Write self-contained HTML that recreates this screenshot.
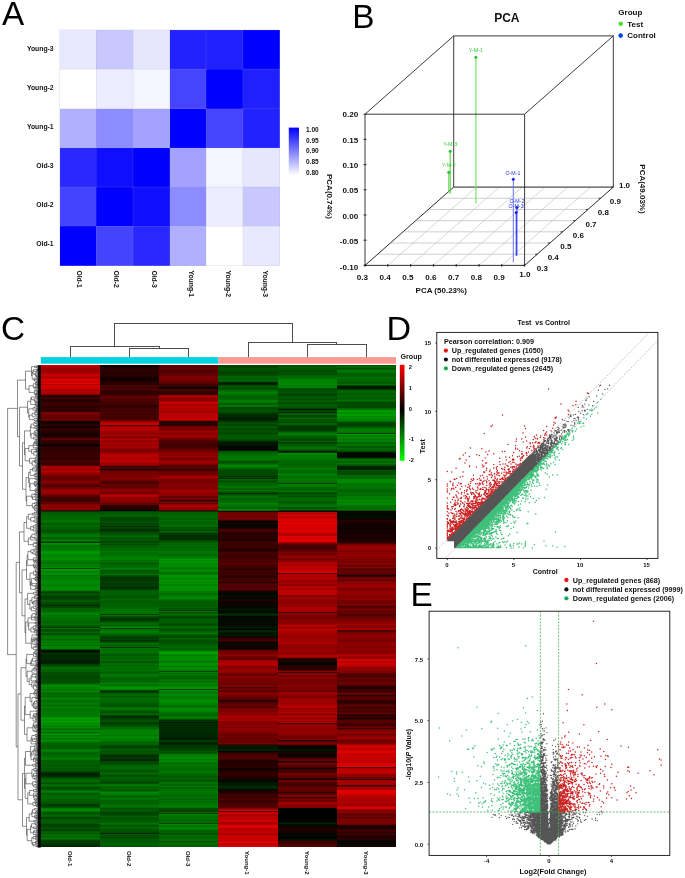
<!DOCTYPE html>
<html lang="en"><head><meta charset="utf-8"><title>Figure</title>
<style>html,body{margin:0;padding:0;background:#fff}body{width:685px;height:878px;overflow:hidden}</style>
</head><body>
<svg width="685" height="878" viewBox="0 0 685 878" font-family="'Liberation Sans', sans-serif" style="display:block">
<rect x="0.00" y="0.00" width="685.00" height="878.00" fill="#fff"/>
<g shape-rendering="crispEdges">
<rect x="59.80" y="29.90" width="36.90" height="39.60" fill="rgb(232,232,255)"/>
<rect x="96.40" y="29.90" width="36.90" height="39.60" fill="rgb(200,200,255)"/>
<rect x="133.00" y="29.90" width="36.90" height="39.60" fill="rgb(230,230,255)"/>
<rect x="169.60" y="29.90" width="36.90" height="39.60" fill="rgb(34,34,255)"/>
<rect x="206.20" y="29.90" width="36.90" height="39.60" fill="rgb(32,32,255)"/>
<rect x="242.80" y="29.90" width="36.90" height="39.60" fill="rgb(0,0,255)"/>
<rect x="59.80" y="69.20" width="36.90" height="39.60" fill="rgb(255,255,255)"/>
<rect x="96.40" y="69.20" width="36.90" height="39.60" fill="rgb(237,237,255)"/>
<rect x="133.00" y="69.20" width="36.90" height="39.60" fill="rgb(245,245,255)"/>
<rect x="169.60" y="69.20" width="36.90" height="39.60" fill="rgb(69,69,255)"/>
<rect x="206.20" y="69.20" width="36.90" height="39.60" fill="rgb(0,0,255)"/>
<rect x="242.80" y="69.20" width="36.90" height="39.60" fill="rgb(32,32,255)"/>
<rect x="59.80" y="108.50" width="36.90" height="39.60" fill="rgb(176,176,255)"/>
<rect x="96.40" y="108.50" width="36.90" height="39.60" fill="rgb(140,140,255)"/>
<rect x="133.00" y="108.50" width="36.90" height="39.60" fill="rgb(163,163,255)"/>
<rect x="169.60" y="108.50" width="36.90" height="39.60" fill="rgb(0,0,255)"/>
<rect x="206.20" y="108.50" width="36.90" height="39.60" fill="rgb(69,69,255)"/>
<rect x="242.80" y="108.50" width="36.90" height="39.60" fill="rgb(34,34,255)"/>
<rect x="59.80" y="147.80" width="36.90" height="39.60" fill="rgb(41,41,255)"/>
<rect x="96.40" y="147.80" width="36.90" height="39.60" fill="rgb(15,15,255)"/>
<rect x="133.00" y="147.80" width="36.90" height="39.60" fill="rgb(0,0,255)"/>
<rect x="169.60" y="147.80" width="36.90" height="39.60" fill="rgb(163,163,255)"/>
<rect x="206.20" y="147.80" width="36.90" height="39.60" fill="rgb(245,245,255)"/>
<rect x="242.80" y="147.80" width="36.90" height="39.60" fill="rgb(230,230,255)"/>
<rect x="59.80" y="187.10" width="36.90" height="39.60" fill="rgb(68,68,255)"/>
<rect x="96.40" y="187.10" width="36.90" height="39.60" fill="rgb(0,0,255)"/>
<rect x="133.00" y="187.10" width="36.90" height="39.60" fill="rgb(15,15,255)"/>
<rect x="169.60" y="187.10" width="36.90" height="39.60" fill="rgb(140,140,255)"/>
<rect x="206.20" y="187.10" width="36.90" height="39.60" fill="rgb(237,237,255)"/>
<rect x="242.80" y="187.10" width="36.90" height="39.60" fill="rgb(200,200,255)"/>
<rect x="59.80" y="226.40" width="36.90" height="39.60" fill="rgb(0,0,255)"/>
<rect x="96.40" y="226.40" width="36.90" height="39.60" fill="rgb(68,68,255)"/>
<rect x="133.00" y="226.40" width="36.90" height="39.60" fill="rgb(41,41,255)"/>
<rect x="169.60" y="226.40" width="36.90" height="39.60" fill="rgb(176,176,255)"/>
<rect x="206.20" y="226.40" width="36.90" height="39.60" fill="rgb(255,255,255)"/>
<rect x="242.80" y="226.40" width="36.90" height="39.60" fill="rgb(232,232,255)"/>
</g>
<line x1="96.40" y1="29.90" x2="96.40" y2="265.70" stroke="#9a9ab8" stroke-width="0.5" opacity="0.35"/>
<line x1="59.80" y1="69.20" x2="279.40" y2="69.20" stroke="#9a9ab8" stroke-width="0.5" opacity="0.35"/>
<line x1="133.00" y1="29.90" x2="133.00" y2="265.70" stroke="#9a9ab8" stroke-width="0.5" opacity="0.35"/>
<line x1="59.80" y1="108.50" x2="279.40" y2="108.50" stroke="#9a9ab8" stroke-width="0.5" opacity="0.35"/>
<line x1="169.60" y1="29.90" x2="169.60" y2="265.70" stroke="#9a9ab8" stroke-width="0.5" opacity="0.35"/>
<line x1="59.80" y1="147.80" x2="279.40" y2="147.80" stroke="#9a9ab8" stroke-width="0.5" opacity="0.35"/>
<line x1="206.20" y1="29.90" x2="206.20" y2="265.70" stroke="#9a9ab8" stroke-width="0.5" opacity="0.35"/>
<line x1="59.80" y1="187.10" x2="279.40" y2="187.10" stroke="#9a9ab8" stroke-width="0.5" opacity="0.35"/>
<line x1="242.80" y1="29.90" x2="242.80" y2="265.70" stroke="#9a9ab8" stroke-width="0.5" opacity="0.35"/>
<line x1="59.80" y1="226.40" x2="279.40" y2="226.40" stroke="#9a9ab8" stroke-width="0.5" opacity="0.35"/>
<rect x="59.8" y="29.9" width="219.60000000000002" height="235.79999999999998" fill="none" stroke="#b8b8cc" stroke-width="0.5" opacity="0.5"/>
<text x="53.60" y="50.70" font-size="6.8" font-weight="bold" text-anchor="end" fill="#111">Young-3</text>
<text x="53.60" y="89.84" font-size="6.8" font-weight="bold" text-anchor="end" fill="#111">Young-2</text>
<text x="53.60" y="128.98" font-size="6.8" font-weight="bold" text-anchor="end" fill="#111">Young-1</text>
<text x="53.60" y="168.12" font-size="6.8" font-weight="bold" text-anchor="end" fill="#111">Old-3</text>
<text x="53.60" y="207.26" font-size="6.8" font-weight="bold" text-anchor="end" fill="#111">Old-2</text>
<text x="53.60" y="246.40" font-size="6.8" font-weight="bold" text-anchor="end" fill="#111">Old-1</text>
<text x="76.90" y="270.40" font-size="6.8" font-weight="bold" text-anchor="start" fill="#111" transform="rotate(90 76.90 270.40)">Old-1</text>
<text x="114.20" y="270.40" font-size="6.8" font-weight="bold" text-anchor="start" fill="#111" transform="rotate(90 114.20 270.40)">Old-2</text>
<text x="151.50" y="270.40" font-size="6.8" font-weight="bold" text-anchor="start" fill="#111" transform="rotate(90 151.50 270.40)">Old-3</text>
<text x="188.80" y="270.40" font-size="6.8" font-weight="bold" text-anchor="start" fill="#111" transform="rotate(90 188.80 270.40)">Young-1</text>
<text x="226.10" y="270.40" font-size="6.8" font-weight="bold" text-anchor="start" fill="#111" transform="rotate(90 226.10 270.40)">Young-2</text>
<text x="263.40" y="270.40" font-size="6.8" font-weight="bold" text-anchor="start" fill="#111" transform="rotate(90 263.40 270.40)">Young-3</text>
<defs><linearGradient id="gA" x1="0" y1="0" x2="0" y2="1"><stop offset="0" stop-color="#0000ff"/><stop offset="1" stop-color="#ffffff"/></linearGradient></defs>
<rect x="288.80" y="127.60" width="10.20" height="47.80" fill="url(#gA)"/>
<text x="306.00" y="131.90" font-size="6.5" font-weight="bold" text-anchor="start" fill="#111">1.00</text>
<text x="306.00" y="142.60" font-size="6.5" font-weight="bold" text-anchor="start" fill="#111">0.95</text>
<text x="306.00" y="153.30" font-size="6.5" font-weight="bold" text-anchor="start" fill="#111">0.90</text>
<text x="306.00" y="164.00" font-size="6.5" font-weight="bold" text-anchor="start" fill="#111">0.85</text>
<text x="306.00" y="174.70" font-size="6.5" font-weight="bold" text-anchor="start" fill="#111">0.80</text>
<line x1="365.00" y1="265.40" x2="453.70" y2="187.10" stroke="#bcbcbc" stroke-width="0.6"/>
<line x1="387.80" y1="265.40" x2="476.50" y2="187.10" stroke="#bcbcbc" stroke-width="0.6"/>
<line x1="410.60" y1="265.40" x2="499.30" y2="187.10" stroke="#bcbcbc" stroke-width="0.6"/>
<line x1="433.40" y1="265.40" x2="522.10" y2="187.10" stroke="#bcbcbc" stroke-width="0.6"/>
<line x1="456.20" y1="265.40" x2="544.90" y2="187.10" stroke="#bcbcbc" stroke-width="0.6"/>
<line x1="479.00" y1="265.40" x2="567.70" y2="187.10" stroke="#bcbcbc" stroke-width="0.6"/>
<line x1="501.80" y1="265.40" x2="590.50" y2="187.10" stroke="#bcbcbc" stroke-width="0.6"/>
<line x1="524.60" y1="265.40" x2="613.30" y2="187.10" stroke="#bcbcbc" stroke-width="0.6"/>
<line x1="365.00" y1="265.40" x2="524.60" y2="265.40" stroke="#c4c4c4" stroke-width="0.8"/>
<line x1="377.67" y1="254.21" x2="537.27" y2="254.21" stroke="#c4c4c4" stroke-width="0.8"/>
<line x1="390.34" y1="243.03" x2="549.94" y2="243.03" stroke="#c4c4c4" stroke-width="0.8"/>
<line x1="403.01" y1="231.84" x2="562.61" y2="231.84" stroke="#c4c4c4" stroke-width="0.8"/>
<line x1="415.69" y1="220.66" x2="575.29" y2="220.66" stroke="#c4c4c4" stroke-width="0.8"/>
<line x1="428.36" y1="209.47" x2="587.96" y2="209.47" stroke="#c4c4c4" stroke-width="0.8"/>
<line x1="441.03" y1="198.29" x2="600.63" y2="198.29" stroke="#c4c4c4" stroke-width="0.8"/>
<line x1="453.70" y1="187.10" x2="613.30" y2="187.10" stroke="#c4c4c4" stroke-width="0.8"/>
<line x1="453.70" y1="35.90" x2="613.30" y2="35.90" stroke="#1a1a1a" stroke-width="0.85"/>
<line x1="453.70" y1="35.90" x2="453.70" y2="187.10" stroke="#1a1a1a" stroke-width="0.85"/>
<line x1="613.30" y1="35.90" x2="613.30" y2="187.10" stroke="#1a1a1a" stroke-width="0.85"/>
<line x1="453.70" y1="187.10" x2="613.30" y2="187.10" stroke="#1a1a1a" stroke-width="0.85"/>
<line x1="365.00" y1="114.20" x2="453.70" y2="35.90" stroke="#1a1a1a" stroke-width="0.85"/>
<line x1="524.60" y1="114.20" x2="613.30" y2="35.90" stroke="#1a1a1a" stroke-width="0.85"/>
<line x1="365.00" y1="265.40" x2="453.70" y2="187.10" stroke="#1a1a1a" stroke-width="0.85"/>
<line x1="524.60" y1="265.40" x2="613.30" y2="187.10" stroke="#1a1a1a" stroke-width="0.85"/>
<line x1="475.90" y1="57.30" x2="475.90" y2="203.30" stroke="#80e072" stroke-width="1.3"/>
<circle cx="475.90" cy="57.30" r="1.5" fill="#1fc82a"/>
<text x="475.90" y="52.30" font-size="5.3" font-weight="normal" text-anchor="middle" fill="#3acb3a">Y-M-1</text>
<line x1="450.20" y1="151.20" x2="450.20" y2="193.80" stroke="#44cc33" stroke-width="1.0"/>
<circle cx="450.20" cy="151.20" r="1.5" fill="#1fc82a"/>
<text x="450.20" y="146.20" font-size="5.3" font-weight="normal" text-anchor="middle" fill="#3acb3a">Y-M-3</text>
<line x1="448.80" y1="172.20" x2="448.80" y2="192.50" stroke="#55d044" stroke-width="1.0"/>
<circle cx="448.80" cy="172.20" r="1.5" fill="#1fc82a"/>
<text x="448.80" y="167.20" font-size="5.3" font-weight="normal" text-anchor="middle" fill="#3acb3a">Y-M-2</text>
<line x1="513.30" y1="179.30" x2="513.30" y2="262.40" stroke="#6a74f0" stroke-width="1.0"/>
<circle cx="513.30" cy="179.30" r="1.5" fill="#1a22ee"/>
<text x="512.90" y="174.70" font-size="5.3" font-weight="normal" text-anchor="middle" fill="#2a33ee">O-M-1</text>
<line x1="516.90" y1="207.40" x2="516.90" y2="255.80" stroke="#2a33ee" stroke-width="1.0"/>
<circle cx="516.90" cy="207.40" r="1.5" fill="#1a22ee"/>
<text x="516.90" y="202.50" font-size="5.3" font-weight="normal" text-anchor="middle" fill="#2a33ee">O-M-2</text>
<line x1="516.20" y1="212.40" x2="516.20" y2="255.80" stroke="#2a33ee" stroke-width="1.0"/>
<circle cx="516.20" cy="212.40" r="1.5" fill="#1a22ee"/>
<text x="516.10" y="207.80" font-size="5.3" font-weight="normal" text-anchor="middle" fill="#2a33ee">O-M-3</text>
<line x1="365.00" y1="114.20" x2="524.60" y2="114.20" stroke="#1a1a1a" stroke-width="0.85"/>
<line x1="365.00" y1="265.40" x2="524.60" y2="265.40" stroke="#1a1a1a" stroke-width="0.85"/>
<line x1="365.00" y1="114.20" x2="365.00" y2="265.40" stroke="#1a1a1a" stroke-width="0.85"/>
<line x1="524.60" y1="114.20" x2="524.60" y2="265.40" stroke="#1a1a1a" stroke-width="0.85"/>
<line x1="363.50" y1="114.20" x2="366.60" y2="114.20" stroke="#1a1a1a" stroke-width="0.85"/>
<text x="358.20" y="117.20" font-size="8.1" font-weight="bold" text-anchor="end" fill="#111">0.20</text>
<line x1="363.50" y1="139.40" x2="366.60" y2="139.40" stroke="#1a1a1a" stroke-width="0.85"/>
<text x="358.20" y="142.62" font-size="8.1" font-weight="bold" text-anchor="end" fill="#111">0.15</text>
<line x1="363.50" y1="164.60" x2="366.60" y2="164.60" stroke="#1a1a1a" stroke-width="0.85"/>
<text x="358.20" y="168.04" font-size="8.1" font-weight="bold" text-anchor="end" fill="#111">0.10</text>
<line x1="363.50" y1="189.80" x2="366.60" y2="189.80" stroke="#1a1a1a" stroke-width="0.85"/>
<text x="358.20" y="193.46" font-size="8.1" font-weight="bold" text-anchor="end" fill="#111">0.05</text>
<line x1="363.50" y1="215.00" x2="366.60" y2="215.00" stroke="#1a1a1a" stroke-width="0.85"/>
<text x="358.20" y="218.88" font-size="8.1" font-weight="bold" text-anchor="end" fill="#111">0.00</text>
<line x1="363.50" y1="240.20" x2="366.60" y2="240.20" stroke="#1a1a1a" stroke-width="0.85"/>
<text x="358.20" y="244.30" font-size="8.1" font-weight="bold" text-anchor="end" fill="#111">-0.05</text>
<line x1="363.50" y1="265.40" x2="366.60" y2="265.40" stroke="#1a1a1a" stroke-width="0.85"/>
<text x="358.20" y="269.72" font-size="8.1" font-weight="bold" text-anchor="end" fill="#111">-0.10</text>
<line x1="365.00" y1="264.00" x2="365.00" y2="266.80" stroke="#1a1a1a" stroke-width="0.85"/>
<text x="362.40" y="279.60" font-size="8.1" font-weight="bold" text-anchor="middle" fill="#111">0.3</text>
<line x1="387.80" y1="264.00" x2="387.80" y2="266.80" stroke="#1a1a1a" stroke-width="0.85"/>
<text x="385.20" y="279.60" font-size="8.1" font-weight="bold" text-anchor="middle" fill="#111">0.4</text>
<line x1="410.60" y1="264.00" x2="410.60" y2="266.80" stroke="#1a1a1a" stroke-width="0.85"/>
<text x="408.00" y="279.60" font-size="8.1" font-weight="bold" text-anchor="middle" fill="#111">0.5</text>
<line x1="433.40" y1="264.00" x2="433.40" y2="266.80" stroke="#1a1a1a" stroke-width="0.85"/>
<text x="430.80" y="279.60" font-size="8.1" font-weight="bold" text-anchor="middle" fill="#111">0.6</text>
<line x1="456.20" y1="264.00" x2="456.20" y2="266.80" stroke="#1a1a1a" stroke-width="0.85"/>
<text x="453.60" y="279.60" font-size="8.1" font-weight="bold" text-anchor="middle" fill="#111">0.7</text>
<line x1="479.00" y1="264.00" x2="479.00" y2="266.80" stroke="#1a1a1a" stroke-width="0.85"/>
<text x="476.40" y="279.60" font-size="8.1" font-weight="bold" text-anchor="middle" fill="#111">0.8</text>
<line x1="501.80" y1="264.00" x2="501.80" y2="266.80" stroke="#1a1a1a" stroke-width="0.85"/>
<text x="499.20" y="279.60" font-size="8.1" font-weight="bold" text-anchor="middle" fill="#111">0.9</text>
<line x1="524.60" y1="264.00" x2="524.60" y2="266.80" stroke="#1a1a1a" stroke-width="0.85"/>
<text x="524.80" y="277.40" font-size="8.1" font-weight="bold" text-anchor="middle" fill="#111">1.0</text>
<line x1="524.60" y1="265.40" x2="522.60" y2="265.40" stroke="#1a1a1a" stroke-width="0.85"/>
<text x="542.40" y="270.60" font-size="8" font-weight="bold" text-anchor="middle" fill="#111">0.3</text>
<line x1="537.27" y1="254.21" x2="535.27" y2="254.21" stroke="#1a1a1a" stroke-width="0.85"/>
<text x="553.20" y="260.40" font-size="8" font-weight="bold" text-anchor="middle" fill="#111">0.4</text>
<line x1="549.94" y1="243.03" x2="547.94" y2="243.03" stroke="#1a1a1a" stroke-width="0.85"/>
<text x="565.90" y="249.00" font-size="8" font-weight="bold" text-anchor="middle" fill="#111">0.5</text>
<line x1="562.61" y1="231.84" x2="560.61" y2="231.84" stroke="#1a1a1a" stroke-width="0.85"/>
<text x="578.30" y="237.70" font-size="8" font-weight="bold" text-anchor="middle" fill="#111">0.6</text>
<line x1="575.29" y1="220.66" x2="573.29" y2="220.66" stroke="#1a1a1a" stroke-width="0.85"/>
<text x="591.00" y="226.60" font-size="8" font-weight="bold" text-anchor="middle" fill="#111">0.7</text>
<line x1="587.96" y1="209.47" x2="585.96" y2="209.47" stroke="#1a1a1a" stroke-width="0.85"/>
<text x="603.40" y="215.30" font-size="8" font-weight="bold" text-anchor="middle" fill="#111">0.8</text>
<line x1="600.63" y1="198.29" x2="598.63" y2="198.29" stroke="#1a1a1a" stroke-width="0.85"/>
<text x="615.30" y="203.90" font-size="8" font-weight="bold" text-anchor="middle" fill="#111">0.9</text>
<line x1="613.30" y1="187.10" x2="611.30" y2="187.10" stroke="#1a1a1a" stroke-width="0.85"/>
<text x="624.50" y="188.00" font-size="8" font-weight="bold" text-anchor="middle" fill="#111">1.0</text>
<text x="441.20" y="292.50" font-size="8" font-weight="bold" text-anchor="middle" fill="#111">PCA (50.23%)</text>
<text x="327.30" y="174.00" font-size="8" font-weight="bold" text-anchor="start" fill="#111" transform="rotate(90 327.30 174.00)">PCA(0.74%)</text>
<text x="639.50" y="164.30" font-size="8" font-weight="bold" text-anchor="start" fill="#111" transform="rotate(90 639.50 164.30)">PCA(49.03%)</text>
<text x="506.80" y="22.30" font-size="12" font-weight="bold" text-anchor="middle" fill="#111">PCA</text>
<text x="618.30" y="15.40" font-size="8" font-weight="bold" text-anchor="start" fill="#111">Group</text>
<circle cx="620.7" cy="23.8" r="2.3" fill="#55dd33"/>
<text x="627.30" y="26.60" font-size="8" font-weight="bold" text-anchor="start" fill="#111">Test</text>
<circle cx="620.7" cy="35.6" r="2.3" fill="#0044ff"/>
<text x="627.30" y="38.40" font-size="8" font-weight="bold" text-anchor="start" fill="#111">Control</text>
<g shape-rendering="crispEdges" transform="translate(40.8,365.4) scale(59.2,1)">
<rect x="0" y="0" width="6" height="482" fill="#200000"/>
<path fill="#000000" d="M3 84h1v1h-1zM4 443h1v11h-1zM4 456h1v1h-1zM4 472h1v1h-1z"/>
<path fill="#000800" d="M0 286h1v1h-1zM3 81h1v3h-1zM3 156h1v1h-1zM3 160h1v2h-1zM3 227h1v3h-1zM3 233h1v1h-1zM3 241h1v2h-1zM3 246h1v2h-1zM3 251h1v1h-1zM3 253h1v1h-1zM3 255h1v1h-1zM3 257h1v1h-1zM3 259h1v1h-1zM3 264h1v1h-1zM3 278h1v1h-1zM3 386h1v1h-1zM3 416h1v1h-1zM4 297h1v3h-1zM4 382h1v1h-1zM4 390h1v1h-1zM4 454h1v2h-1zM4 468h1v4h-1zM4 473h1v1h-1zM5 88h1v4h-1zM5 148h1v4h-1zM5 153h1v1h-1zM5 477h1v2h-1z"/>
<path fill="#001000" d="M3 80h1v1h-1zM3 243h1v1h-1zM3 245h1v1h-1zM3 254h1v1h-1zM3 258h1v1h-1zM3 261h1v1h-1zM3 263h1v1h-1zM3 268h1v1h-1zM3 279h1v1h-1zM3 424h1v1h-1zM4 384h1v1h-1zM4 459h1v1h-1zM4 474h1v1h-1zM5 152h1v1h-1z"/>
<path fill="#001800" d="M0 285h1v1h-1zM2 357h1v1h-1zM2 373h1v1h-1zM3 18h1v1h-1zM3 53h1v1h-1zM3 77h1v3h-1zM3 244h1v1h-1zM3 267h1v1h-1zM3 269h1v2h-1zM3 380h1v4h-1zM3 417h1v3h-1zM4 44h1v1h-1zM4 385h1v1h-1zM4 457h1v1h-1zM5 21h1v2h-1zM5 87h1v1h-1zM5 92h1v1h-1z"/>
<path fill="#002000" d="M0 287h1v1h-1zM0 295h1v4h-1zM0 408h1v2h-1zM2 372h1v1h-1zM2 374h1v1h-1zM2 378h1v1h-1zM3 54h1v1h-1zM3 85h1v1h-1zM3 248h1v1h-1zM3 250h1v1h-1zM3 262h1v1h-1zM3 265h1v1h-1zM3 384h1v2h-1zM3 420h1v1h-1zM3 423h1v1h-1zM4 86h1v1h-1zM4 458h1v1h-1zM5 23h1v1h-1zM5 102h1v2h-1z"/>
<path fill="#002800" d="M0 289h1v6h-1zM0 410h1v1h-1zM0 481h1v1h-1zM1 161h1v1h-1zM1 165h1v1h-1zM1 394h1v2h-1zM1 468h1v1h-1zM2 168h1v1h-1zM2 359h1v4h-1zM2 364h1v1h-1zM2 366h1v6h-1zM2 377h1v1h-1zM2 379h1v1h-1zM3 19h1v1h-1zM3 50h1v3h-1zM3 55h1v1h-1zM3 76h1v1h-1zM3 113h1v1h-1zM3 128h1v1h-1zM3 266h1v1h-1zM3 421h1v2h-1zM4 47h1v1h-1zM5 101h1v1h-1zM5 104h1v1h-1z"/>
<path fill="#003000" d="M0 177h1v1h-1zM0 240h1v1h-1zM0 288h1v1h-1zM0 411h1v1h-1zM0 479h1v2h-1zM1 164h1v1h-1zM1 222h1v2h-1zM1 254h1v1h-1zM1 275h1v1h-1zM1 326h1v1h-1zM1 351h1v2h-1zM1 390h1v2h-1zM2 170h1v5h-1zM2 355h1v2h-1zM2 358h1v1h-1zM2 363h1v1h-1zM2 365h1v1h-1zM3 17h1v1h-1zM3 49h1v1h-1zM3 249h1v1h-1z"/>
<path fill="#003800" d="M0 146h1v1h-1zM0 239h1v1h-1zM0 262h1v1h-1zM0 407h1v1h-1zM0 440h1v1h-1zM0 476h1v1h-1zM0 478h1v1h-1zM1 212h1v4h-1zM1 218h1v2h-1zM1 221h1v1h-1zM1 249h1v1h-1zM1 253h1v1h-1zM1 272h1v1h-1zM1 282h1v1h-1zM1 358h1v1h-1zM1 392h1v2h-1zM2 146h1v1h-1zM2 245h1v1h-1zM2 375h1v2h-1zM2 380h1v3h-1zM2 448h1v1h-1zM3 48h1v1h-1zM3 56h1v1h-1zM3 111h1v1h-1zM4 57h1v1h-1zM4 61h1v4h-1zM4 87h1v1h-1zM4 118h1v1h-1zM4 145h1v1h-1zM5 24h1v1h-1z"/>
<path fill="#004000" d="M0 227h1v1h-1zM0 231h1v3h-1zM0 241h1v1h-1zM0 299h1v1h-1zM0 412h1v1h-1zM0 439h1v1h-1zM0 453h1v1h-1zM0 459h1v2h-1zM0 464h1v2h-1zM0 475h1v1h-1zM0 477h1v1h-1zM1 146h1v1h-1zM1 153h1v1h-1zM1 159h1v1h-1zM1 163h1v1h-1zM1 166h1v1h-1zM1 176h1v1h-1zM1 216h1v2h-1zM1 220h1v1h-1zM1 224h1v1h-1zM1 255h1v1h-1zM1 263h1v1h-1zM1 273h1v2h-1zM1 276h1v1h-1zM1 327h1v1h-1zM1 350h1v1h-1zM1 353h1v2h-1zM1 357h1v1h-1zM1 381h1v2h-1zM1 389h1v1h-1zM1 396h1v1h-1zM1 417h1v1h-1zM1 448h1v1h-1zM2 169h1v1h-1zM2 175h1v1h-1zM2 306h1v1h-1zM2 324h1v1h-1zM2 383h1v2h-1zM2 445h1v1h-1zM2 458h1v1h-1zM3 1h1v1h-1zM3 8h1v1h-1zM3 47h1v1h-1zM3 60h1v1h-1zM3 75h1v1h-1zM4 43h1v1h-1zM4 45h1v1h-1zM4 65h1v1h-1zM4 77h1v2h-1zM4 85h1v1h-1zM5 58h1v3h-1zM5 68h1v1h-1z"/>
<path fill="#004800" d="M0 203h1v1h-1zM0 230h1v1h-1zM0 234h1v1h-1zM0 237h1v1h-1zM0 242h1v1h-1zM0 265h1v1h-1zM0 284h1v1h-1zM0 300h1v1h-1zM0 310h1v4h-1zM0 316h1v1h-1zM0 406h1v1h-1zM0 423h1v1h-1zM0 441h1v1h-1zM0 452h1v1h-1zM0 461h1v1h-1zM1 152h1v1h-1zM1 154h1v2h-1zM1 158h1v1h-1zM1 162h1v1h-1zM1 167h1v1h-1zM1 177h1v1h-1zM1 179h1v1h-1zM1 211h1v1h-1zM1 252h1v1h-1zM1 256h1v1h-1zM1 271h1v1h-1zM1 325h1v1h-1zM1 359h1v1h-1zM1 398h1v1h-1zM1 447h1v1h-1zM1 449h1v1h-1zM1 467h1v1h-1zM1 472h1v1h-1zM2 165h1v1h-1zM2 251h1v2h-1zM2 259h1v1h-1zM2 271h1v1h-1zM2 354h1v1h-1zM2 385h1v1h-1zM2 444h1v1h-1zM2 446h1v1h-1zM3 0h1v1h-1zM3 2h1v1h-1zM3 6h1v2h-1zM3 9h1v1h-1zM3 20h1v1h-1zM3 23h1v1h-1zM3 42h1v2h-1zM3 57h1v1h-1zM3 59h1v1h-1zM3 63h1v2h-1zM3 68h1v1h-1zM3 106h1v5h-1zM3 112h1v1h-1zM3 116h1v1h-1zM4 6h1v1h-1zM4 24h1v1h-1zM4 28h1v3h-1zM4 38h1v1h-1zM4 46h1v1h-1zM4 50h1v2h-1zM4 60h1v1h-1zM4 74h1v1h-1zM4 128h1v1h-1zM5 20h1v1h-1zM5 37h1v2h-1zM5 40h1v3h-1zM5 86h1v1h-1zM5 93h1v1h-1zM5 100h1v1h-1zM5 106h1v1h-1zM5 108h1v1h-1z"/>
<path fill="#005000" d="M0 165h1v2h-1zM0 226h1v1h-1zM0 228h1v1h-1zM0 238h1v1h-1zM0 264h1v1h-1zM0 268h1v2h-1zM0 307h1v3h-1zM0 314h1v2h-1zM0 317h1v1h-1zM0 418h1v1h-1zM0 422h1v1h-1zM0 438h1v1h-1zM0 442h1v1h-1zM0 448h1v1h-1zM0 462h1v2h-1zM1 156h1v2h-1zM1 160h1v1h-1zM1 168h1v1h-1zM1 173h1v1h-1zM1 210h1v1h-1zM1 232h1v1h-1zM1 251h1v1h-1zM1 277h1v1h-1zM1 296h1v1h-1zM1 340h1v1h-1zM1 347h1v1h-1zM1 355h1v2h-1zM1 360h1v1h-1zM1 380h1v1h-1zM1 383h1v1h-1zM1 386h1v1h-1zM1 388h1v1h-1zM1 397h1v1h-1zM1 399h1v1h-1zM1 406h1v1h-1zM1 410h1v2h-1zM1 416h1v1h-1zM1 418h1v1h-1zM1 425h1v1h-1zM1 443h1v1h-1zM1 446h1v1h-1zM1 450h1v1h-1zM1 453h1v1h-1zM1 460h1v1h-1zM1 466h1v1h-1zM1 470h1v2h-1zM1 473h1v1h-1zM2 162h1v1h-1zM2 164h1v1h-1zM2 243h1v1h-1zM2 247h1v1h-1zM2 253h1v1h-1zM2 258h1v1h-1zM2 264h1v1h-1zM2 272h1v1h-1zM2 275h1v3h-1zM2 387h1v1h-1zM2 415h1v1h-1zM2 443h1v1h-1zM2 468h1v2h-1zM3 3h1v3h-1zM3 10h1v1h-1zM3 16h1v1h-1zM3 22h1v1h-1zM3 44h1v2h-1zM3 58h1v1h-1zM3 65h1v3h-1zM3 69h1v1h-1zM3 74h1v1h-1zM3 86h1v1h-1zM3 96h1v2h-1zM3 104h1v2h-1zM3 127h1v1h-1zM3 129h1v1h-1zM4 0h1v1h-1zM4 4h1v2h-1zM4 7h1v3h-1zM4 25h1v2h-1zM4 31h1v1h-1zM4 33h1v2h-1zM4 37h1v1h-1zM4 42h1v1h-1zM4 55h1v1h-1zM4 66h1v1h-1zM4 73h1v1h-1zM4 75h1v1h-1zM4 131h1v1h-1zM4 143h1v1h-1zM5 3h1v1h-1zM5 39h1v1h-1zM5 57h1v1h-1zM5 61h1v1h-1zM5 105h1v1h-1zM5 107h1v1h-1zM5 109h1v1h-1zM5 145h1v1h-1z"/>
<path fill="#005800" d="M0 147h1v2h-1zM0 159h1v1h-1zM0 164h1v1h-1zM0 167h1v1h-1zM0 229h1v1h-1zM0 235h1v2h-1zM0 260h1v2h-1zM0 266h1v1h-1zM0 301h1v1h-1zM0 381h1v1h-1zM0 396h1v1h-1zM0 399h1v3h-1zM0 403h1v3h-1zM0 413h1v1h-1zM0 417h1v1h-1zM0 424h1v1h-1zM0 429h1v1h-1zM0 436h1v2h-1zM0 447h1v1h-1zM0 454h1v1h-1zM0 456h1v1h-1zM0 458h1v1h-1zM0 466h1v1h-1zM0 468h1v1h-1zM1 147h1v2h-1zM1 169h1v1h-1zM1 172h1v1h-1zM1 174h1v2h-1zM1 178h1v1h-1zM1 198h1v1h-1zM1 205h1v3h-1zM1 225h1v1h-1zM1 230h1v2h-1zM1 236h1v1h-1zM1 270h1v1h-1zM1 289h1v2h-1zM1 297h1v1h-1zM1 307h1v1h-1zM1 331h1v1h-1zM1 339h1v1h-1zM1 341h1v1h-1zM1 346h1v1h-1zM1 361h1v1h-1zM1 385h1v1h-1zM1 387h1v1h-1zM1 405h1v1h-1zM1 414h1v2h-1zM1 424h1v1h-1zM1 444h1v2h-1zM1 452h1v1h-1zM1 454h1v3h-1zM1 461h1v1h-1zM1 464h1v2h-1zM1 469h1v1h-1zM1 474h1v3h-1zM1 480h1v2h-1zM2 163h1v1h-1zM2 167h1v1h-1zM2 176h1v2h-1zM2 236h1v1h-1zM2 238h1v1h-1zM2 240h1v1h-1zM2 244h1v1h-1zM2 248h1v1h-1zM2 255h1v1h-1zM2 260h1v1h-1zM2 265h1v1h-1zM2 270h1v1h-1zM2 274h1v1h-1zM2 278h1v2h-1zM2 386h1v1h-1zM2 388h1v1h-1zM2 411h1v1h-1zM2 414h1v1h-1zM2 416h1v1h-1zM2 476h1v1h-1zM3 13h1v1h-1zM3 24h1v1h-1zM3 31h1v1h-1zM3 46h1v1h-1zM3 61h1v2h-1zM3 70h1v4h-1zM3 115h1v1h-1zM4 1h1v1h-1zM4 3h1v1h-1zM4 23h1v1h-1zM4 27h1v1h-1zM4 35h1v1h-1zM4 40h1v1h-1zM4 49h1v1h-1zM4 52h1v1h-1zM4 54h1v1h-1zM4 71h1v1h-1zM4 76h1v1h-1zM4 80h1v1h-1zM4 124h1v1h-1zM4 127h1v1h-1zM4 129h1v2h-1zM4 136h1v2h-1zM4 142h1v1h-1zM5 0h1v1h-1zM5 9h1v1h-1zM5 17h1v1h-1zM5 28h1v2h-1zM5 33h1v1h-1zM5 81h1v2h-1zM5 85h1v1h-1z"/>
<path fill="#006000" d="M0 150h1v1h-1zM0 158h1v1h-1zM0 162h1v2h-1zM0 172h1v2h-1zM0 176h1v1h-1zM0 243h1v1h-1zM0 245h1v1h-1zM0 256h1v1h-1zM0 304h1v3h-1zM0 318h1v1h-1zM0 378h1v3h-1zM0 382h1v2h-1zM0 388h1v1h-1zM0 395h1v1h-1zM0 397h1v2h-1zM0 402h1v1h-1zM0 414h1v1h-1zM0 421h1v1h-1zM0 428h1v1h-1zM0 434h1v2h-1zM0 449h1v1h-1zM0 451h1v1h-1zM0 455h1v1h-1zM0 457h1v1h-1zM0 467h1v1h-1zM0 471h1v1h-1zM0 474h1v1h-1zM1 149h1v3h-1zM1 170h1v1h-1zM1 180h1v3h-1zM1 199h1v1h-1zM1 201h1v1h-1zM1 208h1v1h-1zM1 226h1v4h-1zM1 233h1v1h-1zM1 235h1v1h-1zM1 237h1v5h-1zM1 257h1v1h-1zM1 260h1v1h-1zM1 269h1v1h-1zM1 280h1v1h-1zM1 292h1v2h-1zM1 313h1v2h-1zM1 316h1v1h-1zM1 328h1v1h-1zM1 332h1v1h-1zM1 337h1v2h-1zM1 345h1v1h-1zM1 348h1v1h-1zM1 377h1v1h-1zM1 379h1v1h-1zM1 384h1v1h-1zM1 401h1v1h-1zM1 404h1v1h-1zM1 409h1v1h-1zM1 412h1v2h-1zM1 422h1v1h-1zM1 431h1v1h-1zM1 435h1v4h-1zM1 451h1v1h-1zM1 463h1v1h-1zM1 477h1v3h-1zM2 147h1v3h-1zM2 153h1v2h-1zM2 157h1v1h-1zM2 159h1v1h-1zM2 166h1v1h-1zM2 179h1v1h-1zM2 182h1v1h-1zM2 237h1v1h-1zM2 239h1v1h-1zM2 241h1v2h-1zM2 250h1v1h-1zM2 254h1v1h-1zM2 256h1v2h-1zM2 261h1v1h-1zM2 263h1v1h-1zM2 266h1v1h-1zM2 269h1v1h-1zM2 280h1v1h-1zM2 283h1v2h-1zM2 312h1v2h-1zM2 410h1v1h-1zM2 412h1v1h-1zM2 423h1v1h-1zM2 434h1v1h-1zM2 455h1v1h-1zM2 465h1v3h-1zM2 472h1v1h-1zM2 477h1v1h-1zM2 480h1v2h-1zM3 11h1v1h-1zM3 14h1v1h-1zM3 21h1v1h-1zM3 33h1v1h-1zM3 38h1v2h-1zM3 87h1v1h-1zM3 98h1v1h-1zM3 117h1v3h-1zM3 123h1v2h-1zM3 126h1v1h-1zM3 130h1v1h-1zM3 133h1v2h-1zM3 142h1v1h-1zM4 2h1v1h-1zM4 10h1v1h-1zM4 32h1v1h-1zM4 36h1v1h-1zM4 39h1v1h-1zM4 41h1v1h-1zM4 48h1v1h-1zM4 56h1v1h-1zM4 59h1v1h-1zM4 72h1v1h-1zM4 79h1v1h-1zM4 84h1v1h-1zM4 96h1v1h-1zM4 99h1v1h-1zM4 132h1v1h-1zM4 138h1v1h-1zM5 4h1v1h-1zM5 8h1v1h-1zM5 10h1v2h-1zM5 14h1v1h-1zM5 18h1v1h-1zM5 25h1v1h-1zM5 31h1v2h-1zM5 36h1v1h-1zM5 62h1v1h-1zM5 78h1v1h-1zM5 96h1v2h-1zM5 112h1v1h-1zM5 125h1v2h-1z"/>
<path fill="#006800" d="M0 149h1v1h-1zM0 151h1v4h-1zM0 157h1v1h-1zM0 160h1v2h-1zM0 168h1v1h-1zM0 244h1v1h-1zM0 246h1v1h-1zM0 253h1v1h-1zM0 255h1v1h-1zM0 257h1v2h-1zM0 267h1v1h-1zM0 270h1v1h-1zM0 274h1v1h-1zM0 302h1v1h-1zM0 328h1v2h-1zM0 331h1v1h-1zM0 336h1v1h-1zM0 340h1v1h-1zM0 364h1v1h-1zM0 367h1v1h-1zM0 387h1v1h-1zM0 389h1v3h-1zM0 415h1v1h-1zM0 419h1v1h-1zM0 425h1v1h-1zM0 430h1v4h-1zM0 450h1v1h-1zM0 469h1v1h-1zM0 472h1v1h-1zM1 171h1v1h-1zM1 183h1v3h-1zM1 188h1v1h-1zM1 195h1v1h-1zM1 197h1v1h-1zM1 234h1v1h-1zM1 242h1v2h-1zM1 258h1v2h-1zM1 279h1v1h-1zM1 281h1v1h-1zM1 284h1v1h-1zM1 288h1v1h-1zM1 291h1v1h-1zM1 294h1v1h-1zM1 298h1v1h-1zM1 300h1v2h-1zM1 306h1v1h-1zM1 308h1v1h-1zM1 312h1v1h-1zM1 315h1v1h-1zM1 329h1v2h-1zM1 334h1v3h-1zM1 349h1v1h-1zM1 362h1v2h-1zM1 378h1v1h-1zM1 400h1v1h-1zM1 402h1v2h-1zM1 407h1v2h-1zM1 421h1v1h-1zM1 423h1v1h-1zM1 432h1v1h-1zM1 439h1v1h-1zM1 442h1v1h-1zM1 457h1v1h-1zM1 459h1v1h-1zM1 462h1v1h-1zM2 150h1v3h-1zM2 155h1v2h-1zM2 158h1v1h-1zM2 161h1v1h-1zM2 178h1v1h-1zM2 180h1v2h-1zM2 184h1v2h-1zM2 189h1v2h-1zM2 208h1v1h-1zM2 228h1v1h-1zM2 235h1v1h-1zM2 267h1v1h-1zM2 273h1v1h-1zM2 281h1v2h-1zM2 285h1v1h-1zM2 308h1v1h-1zM2 311h1v1h-1zM2 341h1v1h-1zM2 348h1v3h-1zM2 398h1v1h-1zM2 401h1v1h-1zM2 403h1v2h-1zM2 408h1v2h-1zM2 413h1v1h-1zM2 419h1v2h-1zM2 422h1v1h-1zM2 430h1v2h-1zM2 433h1v1h-1zM2 437h1v1h-1zM2 447h1v1h-1zM2 454h1v1h-1zM2 456h1v1h-1zM2 470h1v2h-1zM2 473h1v1h-1zM2 475h1v1h-1zM2 478h1v2h-1zM3 12h1v1h-1zM3 15h1v1h-1zM3 25h1v1h-1zM3 30h1v1h-1zM3 32h1v1h-1zM3 34h1v1h-1zM3 88h1v2h-1zM3 95h1v1h-1zM3 103h1v1h-1zM3 114h1v1h-1zM3 120h1v1h-1zM3 135h1v2h-1zM3 143h1v1h-1zM3 145h1v1h-1zM4 11h1v2h-1zM4 53h1v1h-1zM4 58h1v1h-1zM4 67h1v1h-1zM4 70h1v1h-1zM4 81h1v1h-1zM4 97h1v2h-1zM4 100h1v2h-1zM4 106h1v2h-1zM4 122h1v2h-1zM4 125h1v1h-1zM4 133h1v3h-1zM4 139h1v1h-1zM4 144h1v1h-1zM5 1h1v2h-1zM5 15h1v2h-1zM5 26h1v2h-1zM5 30h1v1h-1zM5 34h1v1h-1zM5 43h1v1h-1zM5 56h1v1h-1zM5 77h1v1h-1zM5 83h1v2h-1zM5 99h1v1h-1zM5 110h1v1h-1zM5 124h1v1h-1zM5 128h1v1h-1zM5 130h1v1h-1zM5 141h1v1h-1zM5 143h1v1h-1z"/>
<path fill="#007000" d="M0 155h1v1h-1zM0 169h1v1h-1zM0 174h1v1h-1zM0 180h1v2h-1zM0 197h1v2h-1zM0 250h1v1h-1zM0 252h1v1h-1zM0 254h1v1h-1zM0 259h1v1h-1zM0 263h1v1h-1zM0 271h1v1h-1zM0 273h1v1h-1zM0 275h1v1h-1zM0 277h1v1h-1zM0 280h1v1h-1zM0 303h1v1h-1zM0 319h1v1h-1zM0 327h1v1h-1zM0 330h1v1h-1zM0 332h1v1h-1zM0 335h1v1h-1zM0 344h1v2h-1zM0 363h1v1h-1zM0 373h1v1h-1zM0 377h1v1h-1zM0 384h1v1h-1zM0 416h1v1h-1zM0 420h1v1h-1zM0 427h1v1h-1zM0 446h1v1h-1zM0 470h1v1h-1zM1 187h1v1h-1zM1 189h1v2h-1zM1 196h1v1h-1zM1 200h1v1h-1zM1 202h1v1h-1zM1 204h1v1h-1zM1 209h1v1h-1zM1 244h1v2h-1zM1 248h1v1h-1zM1 250h1v1h-1zM1 261h1v1h-1zM1 264h1v2h-1zM1 268h1v1h-1zM1 278h1v1h-1zM1 285h1v3h-1zM1 295h1v1h-1zM1 299h1v1h-1zM1 302h1v4h-1zM1 311h1v1h-1zM1 317h1v1h-1zM1 320h1v1h-1zM1 333h1v1h-1zM1 342h1v1h-1zM1 344h1v1h-1zM1 376h1v1h-1zM1 419h1v1h-1zM1 426h1v1h-1zM1 430h1v1h-1zM1 434h1v1h-1zM1 441h1v1h-1zM1 458h1v1h-1zM2 160h1v1h-1zM2 183h1v1h-1zM2 187h1v1h-1zM2 192h1v1h-1zM2 207h1v1h-1zM2 229h1v1h-1zM2 249h1v1h-1zM2 262h1v1h-1zM2 310h1v1h-1zM2 314h1v1h-1zM2 316h1v2h-1zM2 327h1v1h-1zM2 340h1v1h-1zM2 347h1v1h-1zM2 351h1v1h-1zM2 399h1v1h-1zM2 402h1v1h-1zM2 405h1v1h-1zM2 417h1v2h-1zM2 424h1v2h-1zM2 428h1v2h-1zM2 435h1v2h-1zM2 442h1v1h-1zM2 451h1v2h-1zM2 457h1v1h-1zM2 460h1v1h-1zM2 474h1v1h-1zM3 26h1v1h-1zM3 29h1v1h-1zM3 37h1v1h-1zM3 40h1v1h-1zM3 90h1v1h-1zM3 99h1v1h-1zM3 102h1v1h-1zM3 121h1v1h-1zM3 125h1v1h-1zM3 131h1v2h-1zM3 137h1v1h-1zM3 140h1v2h-1zM4 13h1v1h-1zM4 82h1v2h-1zM4 94h1v2h-1zM4 102h1v1h-1zM4 104h1v2h-1zM4 108h1v1h-1zM4 111h1v2h-1zM4 115h1v3h-1zM4 126h1v1h-1zM4 140h1v2h-1zM5 7h1v1h-1zM5 12h1v2h-1zM5 19h1v1h-1zM5 35h1v1h-1zM5 63h1v1h-1zM5 67h1v1h-1zM5 80h1v1h-1zM5 94h1v1h-1zM5 111h1v1h-1zM5 113h1v1h-1zM5 119h1v2h-1zM5 123h1v1h-1zM5 127h1v1h-1zM5 129h1v1h-1zM5 142h1v1h-1zM5 144h1v1h-1z"/>
<path fill="#007800" d="M0 156h1v1h-1zM0 170h1v2h-1zM0 175h1v1h-1zM0 182h1v3h-1zM0 196h1v1h-1zM0 201h1v1h-1zM0 210h1v1h-1zM0 212h1v1h-1zM0 214h1v1h-1zM0 225h1v1h-1zM0 247h1v1h-1zM0 251h1v1h-1zM0 272h1v1h-1zM0 279h1v1h-1zM0 324h1v2h-1zM0 334h1v1h-1zM0 337h1v3h-1zM0 341h1v1h-1zM0 343h1v1h-1zM0 346h1v5h-1zM0 370h1v1h-1zM0 386h1v1h-1zM0 392h1v3h-1zM0 443h1v1h-1zM0 473h1v1h-1zM1 186h1v1h-1zM1 191h1v1h-1zM1 246h1v2h-1zM1 267h1v1h-1zM1 283h1v1h-1zM1 309h1v2h-1zM1 319h1v1h-1zM1 343h1v1h-1zM1 364h1v1h-1zM1 370h1v1h-1zM1 374h1v2h-1zM1 420h1v1h-1zM1 429h1v1h-1zM1 433h1v1h-1zM1 440h1v1h-1zM2 186h1v1h-1zM2 188h1v1h-1zM2 191h1v1h-1zM2 203h1v1h-1zM2 209h1v1h-1zM2 226h1v2h-1zM2 230h1v1h-1zM2 234h1v1h-1zM2 246h1v1h-1zM2 268h1v1h-1zM2 296h1v1h-1zM2 305h1v1h-1zM2 309h1v1h-1zM2 315h1v1h-1zM2 319h1v2h-1zM2 328h1v1h-1zM2 332h1v1h-1zM2 352h1v2h-1zM2 394h1v1h-1zM2 397h1v1h-1zM2 406h1v2h-1zM2 421h1v1h-1zM2 426h1v2h-1zM2 432h1v1h-1zM2 438h1v3h-1zM2 450h1v1h-1zM2 453h1v1h-1zM2 461h1v1h-1zM2 464h1v1h-1zM3 28h1v1h-1zM3 35h1v1h-1zM3 41h1v1h-1zM3 91h1v4h-1zM3 122h1v1h-1zM3 139h1v1h-1zM4 20h1v1h-1zM4 68h1v1h-1zM4 90h1v4h-1zM4 110h1v1h-1zM4 113h1v2h-1zM4 120h1v2h-1zM5 5h1v2h-1zM5 44h1v1h-1zM5 66h1v1h-1zM5 71h1v1h-1zM5 74h1v1h-1zM5 79h1v1h-1zM5 95h1v1h-1zM5 98h1v1h-1zM5 118h1v1h-1zM5 121h1v2h-1zM5 131h1v1h-1zM5 133h1v2h-1zM5 140h1v1h-1z"/>
<path fill="#008000" d="M0 185h1v1h-1zM0 190h1v1h-1zM0 195h1v1h-1zM0 199h1v2h-1zM0 206h1v1h-1zM0 211h1v1h-1zM0 213h1v1h-1zM0 219h1v2h-1zM0 248h1v1h-1zM0 276h1v1h-1zM0 278h1v1h-1zM0 281h1v1h-1zM0 283h1v1h-1zM0 322h1v2h-1zM0 342h1v1h-1zM0 351h1v1h-1zM0 360h1v2h-1zM0 366h1v1h-1zM0 368h1v1h-1zM0 371h1v1h-1zM0 374h1v1h-1zM0 376h1v1h-1zM0 385h1v1h-1zM0 426h1v1h-1zM1 192h1v3h-1zM1 203h1v1h-1zM1 266h1v1h-1zM1 318h1v1h-1zM1 321h1v1h-1zM1 324h1v1h-1zM1 365h1v1h-1zM1 367h1v3h-1zM1 371h1v1h-1zM1 373h1v1h-1zM1 428h1v1h-1zM2 202h1v1h-1zM2 204h1v1h-1zM2 213h1v1h-1zM2 219h1v2h-1zM2 231h1v1h-1zM2 233h1v1h-1zM2 290h1v1h-1zM2 297h1v1h-1zM2 301h1v1h-1zM2 304h1v1h-1zM2 307h1v1h-1zM2 326h1v1h-1zM2 331h1v1h-1zM2 333h1v2h-1zM2 338h1v2h-1zM2 342h1v1h-1zM2 346h1v1h-1zM2 389h1v3h-1zM2 395h1v1h-1zM2 400h1v1h-1zM2 441h1v1h-1zM2 449h1v1h-1zM2 462h1v1h-1zM3 27h1v1h-1zM3 36h1v1h-1zM3 101h1v1h-1zM3 138h1v1h-1zM4 14h1v2h-1zM4 17h1v1h-1zM4 21h1v2h-1zM4 69h1v1h-1zM4 89h1v1h-1zM4 103h1v1h-1zM4 109h1v1h-1zM4 119h1v1h-1zM5 54h1v2h-1zM5 64h1v2h-1zM5 70h1v1h-1zM5 73h1v1h-1zM5 75h1v2h-1zM5 132h1v1h-1zM5 136h1v2h-1z"/>
<path fill="#008800" d="M0 179h1v1h-1zM0 189h1v1h-1zM0 191h1v2h-1zM0 202h1v1h-1zM0 207h1v1h-1zM0 209h1v1h-1zM0 215h1v4h-1zM0 221h1v3h-1zM0 249h1v1h-1zM0 282h1v1h-1zM0 321h1v1h-1zM0 326h1v1h-1zM0 333h1v1h-1zM0 358h1v1h-1zM0 362h1v1h-1zM0 365h1v1h-1zM0 372h1v1h-1zM0 375h1v1h-1zM0 444h1v2h-1zM1 262h1v1h-1zM1 366h1v1h-1zM1 427h1v1h-1zM2 193h1v1h-1zM2 195h1v1h-1zM2 198h1v2h-1zM2 201h1v1h-1zM2 205h1v2h-1zM2 214h1v1h-1zM2 217h1v1h-1zM2 223h1v1h-1zM2 225h1v1h-1zM2 232h1v1h-1zM2 292h1v1h-1zM2 295h1v1h-1zM2 300h1v1h-1zM2 302h1v1h-1zM2 318h1v1h-1zM2 321h1v1h-1zM2 325h1v1h-1zM2 329h1v2h-1zM2 336h1v2h-1zM2 343h1v3h-1zM2 392h1v2h-1zM2 396h1v1h-1zM2 459h1v1h-1zM2 463h1v1h-1zM3 100h1v1h-1zM3 144h1v1h-1zM4 16h1v1h-1zM4 18h1v2h-1zM4 88h1v1h-1zM5 48h1v1h-1zM5 51h1v1h-1zM5 53h1v1h-1zM5 72h1v1h-1zM5 114h1v4h-1zM5 138h1v2h-1z"/>
<path fill="#009000" d="M0 178h1v1h-1zM0 186h1v1h-1zM0 193h1v2h-1zM0 205h1v1h-1zM0 208h1v1h-1zM0 224h1v1h-1zM0 320h1v1h-1zM0 352h1v1h-1zM0 354h1v2h-1zM0 357h1v1h-1zM1 323h1v1h-1zM1 372h1v1h-1zM2 196h1v1h-1zM2 200h1v1h-1zM2 212h1v1h-1zM2 215h1v2h-1zM2 218h1v1h-1zM2 221h1v2h-1zM2 286h1v1h-1zM2 289h1v1h-1zM2 291h1v1h-1zM2 293h1v2h-1zM2 298h1v2h-1zM2 303h1v1h-1zM2 322h1v2h-1zM2 335h1v1h-1zM5 45h1v1h-1zM5 47h1v1h-1zM5 52h1v1h-1zM5 135h1v1h-1z"/>
<path fill="#009800" d="M0 187h1v2h-1zM0 204h1v1h-1zM0 359h1v1h-1zM0 369h1v1h-1zM1 322h1v1h-1zM2 194h1v1h-1zM2 197h1v1h-1zM2 210h1v2h-1zM2 224h1v1h-1zM2 288h1v1h-1zM5 50h1v1h-1zM5 69h1v1h-1z"/>
<path fill="#00a000" d="M0 353h1v1h-1zM0 356h1v1h-1zM2 287h1v1h-1zM5 46h1v1h-1zM5 49h1v1h-1z"/>
<path fill="#080800" d="M0 57h1v1h-1zM1 145h1v1h-1zM2 22h1v1h-1zM3 157h1v1h-1zM3 230h1v1h-1zM3 232h1v1h-1zM3 237h1v2h-1zM3 252h1v1h-1zM3 271h1v1h-1zM3 280h1v1h-1zM3 282h1v2h-1zM3 414h1v2h-1zM4 381h1v1h-1zM4 383h1v1h-1zM4 386h1v1h-1zM4 460h1v1h-1zM4 462h1v1h-1zM5 147h1v1h-1zM5 160h1v2h-1zM5 475h1v1h-1zM5 479h1v2h-1z"/>
<path fill="#100000" d="M0 62h1v1h-1zM0 69h1v1h-1zM0 79h1v2h-1zM1 1h1v1h-1zM1 13h1v3h-1zM3 159h1v1h-1zM3 162h1v1h-1zM3 184h1v1h-1zM3 226h1v1h-1zM3 239h1v1h-1zM3 403h1v2h-1zM4 389h1v1h-1zM4 403h1v1h-1zM4 461h1v1h-1zM5 154h1v1h-1zM5 163h1v2h-1zM5 166h1v1h-1zM5 168h1v1h-1zM5 476h1v1h-1z"/>
<path fill="#100800" d="M3 231h1v1h-1zM3 234h1v1h-1zM3 240h1v1h-1zM3 256h1v1h-1zM3 260h1v1h-1zM4 391h1v1h-1z"/>
<path fill="#180000" d="M0 56h1v1h-1zM0 58h1v1h-1zM0 61h1v1h-1zM0 70h1v1h-1zM0 81h1v1h-1zM1 2h1v1h-1zM1 12h1v1h-1zM1 104h1v1h-1zM2 23h1v1h-1zM3 158h1v1h-1zM3 217h1v1h-1zM3 236h1v1h-1zM3 277h1v1h-1zM3 281h1v1h-1zM3 405h1v1h-1zM3 425h1v1h-1zM4 294h1v2h-1zM4 387h1v1h-1zM4 396h1v1h-1zM4 414h1v1h-1zM4 463h1v1h-1zM4 466h1v2h-1zM5 146h1v1h-1zM5 157h1v1h-1zM5 159h1v1h-1zM5 162h1v1h-1zM5 165h1v1h-1zM5 167h1v1h-1zM5 169h1v1h-1zM5 171h1v4h-1zM5 210h1v1h-1zM5 461h1v2h-1zM5 471h1v1h-1z"/>
<path fill="#200000" d="M0 31h1v1h-1zM0 35h1v1h-1zM0 45h1v1h-1zM0 67h1v2h-1zM0 71h1v1h-1zM1 0h1v1h-1zM1 9h1v1h-1zM1 11h1v1h-1zM1 16h1v1h-1zM1 101h1v1h-1zM1 141h1v1h-1zM1 143h1v2h-1zM2 57h1v1h-1zM2 135h1v1h-1zM3 168h1v1h-1zM3 174h1v2h-1zM3 235h1v1h-1zM3 335h1v1h-1zM3 395h1v4h-1zM3 400h1v1h-1zM3 411h1v3h-1zM3 426h1v2h-1zM4 146h1v1h-1zM4 300h1v1h-1zM4 375h1v1h-1zM4 388h1v1h-1zM4 427h1v1h-1zM4 464h1v1h-1zM5 158h1v1h-1zM5 170h1v1h-1zM5 175h1v2h-1zM5 322h1v1h-1zM5 330h1v1h-1zM5 353h1v1h-1zM5 472h1v1h-1zM5 474h1v1h-1zM5 481h1v1h-1z"/>
<path fill="#280000" d="M0 34h1v1h-1zM0 36h1v1h-1zM0 41h1v2h-1zM0 59h1v1h-1zM0 65h1v2h-1zM0 76h1v1h-1zM0 78h1v1h-1zM0 93h1v1h-1zM1 3h1v2h-1zM1 7h1v2h-1zM1 18h1v2h-1zM1 27h1v1h-1zM1 41h1v1h-1zM2 28h1v1h-1zM2 58h1v2h-1zM3 146h1v1h-1zM3 163h1v1h-1zM3 167h1v1h-1zM3 169h1v1h-1zM3 171h1v2h-1zM3 185h1v1h-1zM3 211h1v1h-1zM3 272h1v2h-1zM3 276h1v1h-1zM3 387h1v1h-1zM3 399h1v1h-1zM3 402h1v1h-1zM3 406h1v2h-1zM4 296h1v1h-1zM4 302h1v2h-1zM4 380h1v1h-1zM4 392h1v1h-1zM4 432h1v1h-1zM4 465h1v1h-1zM4 475h1v1h-1zM5 155h1v2h-1zM5 323h1v1h-1zM5 337h1v1h-1zM5 350h1v1h-1zM5 363h1v1h-1zM5 460h1v1h-1zM5 463h1v1h-1zM5 467h1v1h-1zM5 470h1v1h-1z"/>
<path fill="#300000" d="M0 30h1v1h-1zM0 43h1v1h-1zM0 60h1v1h-1zM0 63h1v1h-1zM0 72h1v1h-1zM0 83h1v4h-1zM0 92h1v1h-1zM0 94h1v1h-1zM0 99h1v1h-1zM1 5h1v2h-1zM1 10h1v1h-1zM1 17h1v1h-1zM1 26h1v1h-1zM1 29h1v1h-1zM1 40h1v1h-1zM1 140h1v1h-1zM1 142h1v1h-1zM2 56h1v1h-1zM3 170h1v1h-1zM3 173h1v1h-1zM3 180h1v1h-1zM3 186h1v1h-1zM3 203h1v2h-1zM3 210h1v1h-1zM3 212h1v1h-1zM3 284h1v1h-1zM3 401h1v1h-1zM3 408h1v3h-1zM3 428h1v1h-1zM4 293h1v1h-1zM4 304h1v1h-1zM4 477h1v1h-1zM5 177h1v1h-1zM5 321h1v1h-1zM5 335h1v2h-1zM5 352h1v1h-1zM5 354h1v1h-1zM5 414h1v1h-1zM5 464h1v1h-1zM5 473h1v1h-1z"/>
<path fill="#380000" d="M0 32h1v1h-1zM0 37h1v2h-1zM0 40h1v1h-1zM0 44h1v1h-1zM0 46h1v1h-1zM0 64h1v1h-1zM0 75h1v1h-1zM0 77h1v1h-1zM0 82h1v1h-1zM0 87h1v4h-1zM0 98h1v1h-1zM0 135h1v1h-1zM1 22h1v1h-1zM1 28h1v1h-1zM1 42h1v1h-1zM1 49h1v1h-1zM2 20h1v2h-1zM2 27h1v1h-1zM2 60h1v1h-1zM2 104h1v1h-1zM3 155h1v1h-1zM3 176h1v2h-1zM3 181h1v3h-1zM3 190h1v2h-1zM3 205h1v1h-1zM3 207h1v2h-1zM3 213h1v1h-1zM3 225h1v1h-1zM3 336h1v1h-1zM3 388h1v1h-1zM3 430h1v1h-1zM3 436h1v2h-1zM4 247h1v1h-1zM4 301h1v1h-1zM4 307h1v1h-1zM4 402h1v1h-1zM4 404h1v1h-1zM4 476h1v1h-1zM5 211h1v1h-1zM5 265h1v1h-1zM5 324h1v1h-1zM5 326h1v1h-1zM5 338h1v1h-1zM5 342h1v1h-1zM5 349h1v1h-1zM5 351h1v1h-1zM5 359h1v1h-1zM5 420h1v1h-1zM5 468h1v1h-1z"/>
<path fill="#400000" d="M0 33h1v1h-1zM0 39h1v1h-1zM0 91h1v1h-1zM0 95h1v1h-1zM0 97h1v1h-1zM0 132h1v1h-1zM0 134h1v1h-1zM0 145h1v1h-1zM1 25h1v1h-1zM1 37h1v1h-1zM1 39h1v1h-1zM1 43h1v1h-1zM1 45h1v2h-1zM1 48h1v1h-1zM1 52h1v2h-1zM2 19h1v1h-1zM2 25h1v2h-1zM2 78h1v4h-1zM2 105h1v1h-1zM3 164h1v1h-1zM3 166h1v1h-1zM3 178h1v2h-1zM3 187h1v1h-1zM3 189h1v1h-1zM3 192h1v2h-1zM3 196h1v1h-1zM3 200h1v1h-1zM3 202h1v1h-1zM3 206h1v1h-1zM3 209h1v1h-1zM3 274h1v1h-1zM3 389h1v2h-1zM3 394h1v1h-1zM3 429h1v1h-1zM3 431h1v3h-1zM3 435h1v1h-1zM4 358h1v1h-1zM4 405h1v1h-1zM4 413h1v1h-1zM4 418h1v2h-1zM4 478h1v1h-1zM5 325h1v1h-1zM5 346h1v1h-1zM5 360h1v1h-1zM5 465h1v2h-1zM5 469h1v1h-1z"/>
<path fill="#480000" d="M0 96h1v1h-1zM0 121h1v1h-1zM0 133h1v1h-1zM0 136h1v1h-1zM1 20h1v2h-1zM1 23h1v1h-1zM1 30h1v1h-1zM1 34h1v1h-1zM1 36h1v1h-1zM1 38h1v1h-1zM1 51h1v1h-1zM1 60h1v1h-1zM1 116h1v1h-1zM2 7h1v1h-1zM2 24h1v1h-1zM2 29h1v1h-1zM2 82h1v1h-1zM2 103h1v1h-1zM3 188h1v1h-1zM3 194h1v1h-1zM3 201h1v1h-1zM3 214h1v3h-1zM3 218h1v1h-1zM3 221h1v1h-1zM3 275h1v1h-1zM3 337h1v1h-1zM3 393h1v1h-1zM3 438h1v1h-1zM3 440h1v2h-1zM3 446h1v1h-1zM4 180h1v5h-1zM4 208h1v1h-1zM4 305h1v1h-1zM4 393h1v1h-1zM4 397h1v1h-1zM4 406h1v1h-1zM4 420h1v1h-1zM4 479h1v1h-1zM5 241h1v1h-1zM5 249h1v1h-1zM5 309h1v1h-1zM5 311h1v1h-1zM5 320h1v1h-1zM5 331h1v1h-1zM5 339h1v1h-1zM5 343h1v1h-1zM5 358h1v1h-1zM5 402h1v1h-1z"/>
<path fill="#500000" d="M0 73h1v1h-1zM0 120h1v1h-1zM1 24h1v1h-1zM1 35h1v1h-1zM1 44h1v1h-1zM1 47h1v1h-1zM1 50h1v1h-1zM1 54h1v1h-1zM1 102h1v2h-1zM1 105h1v1h-1zM1 117h1v2h-1zM2 5h1v2h-1zM2 75h1v3h-1zM2 83h1v1h-1zM2 101h1v1h-1zM2 145h1v1h-1zM3 165h1v1h-1zM3 195h1v1h-1zM3 197h1v1h-1zM3 199h1v1h-1zM3 220h1v1h-1zM3 222h1v2h-1zM3 322h1v1h-1zM3 326h1v1h-1zM3 342h1v1h-1zM3 379h1v1h-1zM3 391h1v2h-1zM3 434h1v1h-1zM3 439h1v1h-1zM4 179h1v1h-1zM4 407h1v1h-1zM4 412h1v1h-1zM4 421h1v1h-1zM4 480h1v2h-1zM5 178h1v1h-1zM5 209h1v1h-1zM5 250h1v1h-1zM5 310h1v1h-1zM5 312h1v1h-1zM5 315h1v1h-1zM5 327h1v1h-1zM5 333h1v2h-1zM5 341h1v1h-1zM5 344h1v2h-1zM5 347h1v1h-1zM5 355h1v1h-1z"/>
<path fill="#580000" d="M0 100h1v1h-1zM0 131h1v1h-1zM1 121h1v1h-1zM2 2h1v1h-1zM2 4h1v1h-1zM2 17h1v2h-1zM2 100h1v1h-1zM3 198h1v1h-1zM3 219h1v1h-1zM3 224h1v1h-1zM3 333h1v1h-1zM3 338h1v1h-1zM3 341h1v1h-1zM4 400h1v2h-1zM4 411h1v1h-1zM4 417h1v1h-1zM4 426h1v1h-1zM4 428h1v1h-1zM5 204h1v1h-1zM5 242h1v1h-1zM5 246h1v1h-1zM5 266h1v1h-1zM5 356h1v2h-1zM5 361h1v1h-1zM5 449h1v1h-1zM5 452h1v1h-1z"/>
<path fill="#600000" d="M0 51h1v1h-1zM0 53h1v1h-1zM0 55h1v1h-1zM0 74h1v1h-1zM0 113h1v1h-1zM0 130h1v1h-1zM0 137h1v2h-1zM1 31h1v3h-1zM1 119h1v1h-1zM1 139h1v1h-1zM2 0h1v2h-1zM2 9h1v1h-1zM2 102h1v1h-1zM2 106h1v1h-1zM2 132h1v1h-1zM2 136h1v1h-1zM2 138h1v1h-1zM3 285h1v1h-1zM3 293h1v2h-1zM3 309h1v1h-1zM3 323h1v1h-1zM3 332h1v1h-1zM3 334h1v1h-1zM3 339h1v1h-1zM3 376h1v1h-1zM3 442h1v1h-1zM4 186h1v1h-1zM4 376h1v1h-1zM4 394h1v1h-1zM4 410h1v1h-1zM4 424h1v2h-1zM4 429h1v1h-1zM4 435h1v1h-1zM5 200h1v1h-1zM5 203h1v1h-1zM5 206h1v3h-1zM5 215h1v1h-1zM5 251h1v1h-1zM5 308h1v1h-1zM5 314h1v1h-1zM5 316h1v1h-1zM5 329h1v1h-1zM5 332h1v1h-1zM5 340h1v1h-1zM5 348h1v1h-1zM5 459h1v1h-1z"/>
<path fill="#680000" d="M0 50h1v1h-1zM0 52h1v1h-1zM0 112h1v1h-1zM0 114h1v1h-1zM0 119h1v1h-1zM1 55h1v1h-1zM1 120h1v1h-1zM1 122h1v1h-1zM1 138h1v1h-1zM2 3h1v1h-1zM2 8h1v1h-1zM2 10h1v1h-1zM2 16h1v1h-1zM2 61h1v1h-1zM2 74h1v1h-1zM2 84h1v1h-1zM2 108h1v1h-1zM2 131h1v1h-1zM3 151h1v1h-1zM3 154h1v1h-1zM3 292h1v1h-1zM3 318h1v2h-1zM3 325h1v1h-1zM3 331h1v1h-1zM3 340h1v1h-1zM3 369h1v2h-1zM3 372h1v1h-1zM3 374h1v2h-1zM3 377h1v1h-1zM4 185h1v1h-1zM4 194h1v1h-1zM4 371h1v1h-1zM4 379h1v1h-1zM4 395h1v1h-1zM4 398h1v2h-1zM4 408h1v1h-1zM4 415h1v1h-1zM4 422h1v2h-1zM5 205h1v1h-1zM5 212h1v1h-1zM5 236h1v1h-1zM5 240h1v1h-1zM5 243h1v1h-1zM5 247h1v2h-1zM5 252h1v1h-1zM5 313h1v1h-1zM5 317h1v3h-1zM5 328h1v1h-1zM5 376h1v1h-1zM5 450h1v1h-1zM5 453h1v1h-1z"/>
<path fill="#700000" d="M0 47h1v1h-1zM0 49h1v1h-1zM0 54h1v1h-1zM0 111h1v1h-1zM0 115h1v1h-1zM0 118h1v1h-1zM0 122h1v1h-1zM1 106h1v1h-1zM1 108h1v1h-1zM1 111h1v1h-1zM1 115h1v1h-1zM2 15h1v1h-1zM2 85h1v1h-1zM2 93h1v1h-1zM2 107h1v1h-1zM2 109h1v1h-1zM3 147h1v2h-1zM3 152h1v1h-1zM3 286h1v1h-1zM3 288h1v1h-1zM3 310h1v1h-1zM3 313h1v1h-1zM3 316h1v1h-1zM3 373h1v1h-1zM4 178h1v1h-1zM4 188h1v2h-1zM4 252h1v1h-1zM4 310h1v2h-1zM4 318h1v1h-1zM4 325h1v2h-1zM4 372h1v1h-1zM4 377h1v1h-1zM4 416h1v1h-1zM4 433h1v1h-1zM4 442h1v1h-1zM5 179h1v1h-1zM5 196h1v1h-1zM5 201h1v1h-1zM5 214h1v1h-1zM5 237h1v2h-1zM5 245h1v1h-1zM5 253h1v1h-1zM5 362h1v1h-1zM5 364h1v1h-1zM5 369h1v1h-1zM5 375h1v1h-1zM5 412h1v2h-1zM5 421h1v1h-1zM5 448h1v1h-1zM5 451h1v1h-1z"/>
<path fill="#780000" d="M0 110h1v1h-1zM0 123h1v1h-1zM1 72h1v1h-1zM1 85h1v1h-1zM1 107h1v1h-1zM1 114h1v1h-1zM1 123h1v1h-1zM1 127h1v1h-1zM2 11h1v3h-1zM2 62h1v3h-1zM2 73h1v1h-1zM2 86h1v1h-1zM2 99h1v1h-1zM2 115h1v1h-1zM2 118h1v1h-1zM2 134h1v1h-1zM2 137h1v1h-1zM3 149h1v2h-1zM3 287h1v1h-1zM3 291h1v1h-1zM3 308h1v1h-1zM3 315h1v1h-1zM3 321h1v1h-1zM3 324h1v1h-1zM3 327h1v1h-1zM3 330h1v1h-1zM3 343h1v1h-1zM3 345h1v2h-1zM3 362h1v1h-1zM3 367h1v2h-1zM3 371h1v1h-1zM3 378h1v1h-1zM4 187h1v1h-1zM4 253h1v2h-1zM4 314h1v4h-1zM4 319h1v1h-1zM4 323h1v1h-1zM4 332h1v1h-1zM4 374h1v1h-1zM4 409h1v1h-1zM4 434h1v1h-1zM4 436h1v1h-1zM5 186h1v1h-1zM5 194h1v1h-1zM5 197h1v1h-1zM5 213h1v1h-1zM5 216h1v1h-1zM5 224h1v1h-1zM5 235h1v1h-1zM5 244h1v1h-1zM5 254h1v1h-1zM5 267h1v1h-1zM5 275h1v2h-1zM5 307h1v1h-1zM5 370h1v1h-1zM5 377h1v1h-1zM5 455h1v1h-1zM5 457h1v2h-1z"/>
<path fill="#800000" d="M0 29h1v1h-1zM0 48h1v1h-1zM0 117h1v1h-1zM0 129h1v1h-1zM0 139h1v1h-1zM0 144h1v1h-1zM1 84h1v1h-1zM1 86h1v1h-1zM1 109h1v2h-1zM1 124h1v1h-1zM1 126h1v1h-1zM1 128h1v1h-1zM1 136h1v2h-1zM2 14h1v1h-1zM2 35h1v1h-1zM2 87h1v1h-1zM2 94h1v1h-1zM2 114h1v1h-1zM2 116h1v2h-1zM2 121h1v3h-1zM2 133h1v1h-1zM3 153h1v1h-1zM3 302h1v1h-1zM3 314h1v1h-1zM3 317h1v1h-1zM3 320h1v1h-1zM3 329h1v1h-1zM3 344h1v1h-1zM3 357h1v1h-1zM3 359h1v1h-1zM3 443h1v1h-1zM4 190h1v1h-1zM4 231h1v1h-1zM4 250h1v2h-1zM4 257h1v1h-1zM4 312h1v1h-1zM4 321h1v2h-1zM4 324h1v1h-1zM4 331h1v1h-1zM4 359h1v1h-1zM4 370h1v1h-1zM4 373h1v1h-1zM4 378h1v1h-1zM4 430h1v1h-1zM4 440h1v1h-1zM5 195h1v1h-1zM5 199h1v1h-1zM5 202h1v1h-1zM5 232h1v1h-1zM5 255h1v2h-1zM5 268h1v1h-1zM5 274h1v1h-1zM5 281h1v1h-1zM5 286h1v1h-1zM5 306h1v1h-1zM5 366h1v1h-1zM5 374h1v1h-1zM5 378h1v1h-1zM5 445h1v2h-1zM5 454h1v1h-1zM5 456h1v1h-1z"/>
<path fill="#880000" d="M0 116h1v1h-1zM0 124h1v1h-1zM0 141h1v2h-1zM1 112h1v2h-1zM2 34h1v1h-1zM2 65h1v1h-1zM2 68h1v1h-1zM2 72h1v1h-1zM2 88h1v1h-1zM2 90h1v1h-1zM2 95h1v1h-1zM2 110h1v1h-1zM2 119h1v2h-1zM2 124h1v1h-1zM2 130h1v1h-1zM3 289h1v1h-1zM3 301h1v1h-1zM3 303h1v1h-1zM3 307h1v1h-1zM3 311h1v2h-1zM3 328h1v1h-1zM3 347h1v1h-1zM3 349h1v1h-1zM3 356h1v1h-1zM3 361h1v1h-1zM3 365h1v2h-1zM4 191h1v1h-1zM4 193h1v1h-1zM4 195h1v1h-1zM4 236h1v1h-1zM4 238h1v1h-1zM4 241h1v1h-1zM4 249h1v1h-1zM4 255h1v1h-1zM4 282h1v1h-1zM4 292h1v1h-1zM4 306h1v1h-1zM4 313h1v1h-1zM4 320h1v1h-1zM4 327h1v1h-1zM4 330h1v1h-1zM4 343h1v1h-1zM4 349h1v1h-1zM4 365h1v1h-1zM4 369h1v1h-1zM4 431h1v1h-1zM5 180h1v1h-1zM5 185h1v1h-1zM5 187h1v2h-1zM5 191h1v3h-1zM5 198h1v1h-1zM5 217h1v2h-1zM5 223h1v1h-1zM5 225h1v1h-1zM5 230h1v2h-1zM5 233h1v1h-1zM5 239h1v1h-1zM5 257h1v1h-1zM5 260h1v3h-1zM5 269h1v1h-1zM5 271h1v1h-1zM5 273h1v1h-1zM5 278h1v1h-1zM5 282h1v1h-1zM5 285h1v1h-1zM5 287h1v2h-1zM5 303h1v1h-1zM5 305h1v1h-1zM5 365h1v1h-1zM5 368h1v1h-1zM5 410h1v1h-1zM5 447h1v1h-1z"/>
<path fill="#900000" d="M0 108h1v2h-1zM0 126h1v1h-1zM0 140h1v1h-1zM0 143h1v1h-1zM1 68h1v2h-1zM1 71h1v1h-1zM1 76h1v1h-1zM1 80h1v1h-1zM1 83h1v1h-1zM1 87h1v1h-1zM1 125h1v1h-1zM1 132h1v4h-1zM2 67h1v1h-1zM2 69h1v1h-1zM2 89h1v1h-1zM2 92h1v1h-1zM2 98h1v1h-1zM2 113h1v1h-1zM2 128h1v2h-1zM2 139h1v1h-1zM2 143h1v2h-1zM3 290h1v1h-1zM3 348h1v1h-1zM3 358h1v1h-1zM3 360h1v1h-1zM3 363h1v2h-1zM4 196h1v1h-1zM4 219h1v2h-1zM4 230h1v1h-1zM4 237h1v1h-1zM4 248h1v1h-1zM4 256h1v1h-1zM4 258h1v1h-1zM4 262h1v1h-1zM4 279h1v1h-1zM4 283h1v1h-1zM4 287h1v2h-1zM4 308h1v2h-1zM4 329h1v1h-1zM4 353h1v1h-1zM4 360h1v1h-1zM4 363h1v2h-1zM4 366h1v1h-1zM4 368h1v1h-1zM4 437h1v1h-1zM4 439h1v1h-1zM4 441h1v1h-1zM5 184h1v1h-1zM5 189h1v1h-1zM5 222h1v1h-1zM5 226h1v1h-1zM5 228h1v2h-1zM5 234h1v1h-1zM5 270h1v1h-1zM5 272h1v1h-1zM5 277h1v1h-1zM5 279h1v2h-1zM5 283h1v2h-1zM5 292h1v1h-1zM5 304h1v1h-1zM5 367h1v1h-1zM5 371h1v1h-1zM5 411h1v1h-1zM5 415h1v1h-1z"/>
<path fill="#980000" d="M0 4h1v2h-1zM0 104h1v1h-1zM0 127h1v2h-1zM1 56h1v1h-1zM1 61h1v1h-1zM1 66h1v2h-1zM1 98h1v3h-1zM1 129h1v1h-1zM2 30h1v1h-1zM2 32h1v2h-1zM2 55h1v1h-1zM2 70h1v1h-1zM2 91h1v1h-1zM2 127h1v1h-1zM2 142h1v1h-1zM3 295h1v1h-1zM3 304h1v3h-1zM3 350h1v1h-1zM3 353h1v1h-1zM4 192h1v1h-1zM4 215h1v2h-1zM4 233h1v3h-1zM4 239h1v2h-1zM4 270h1v2h-1zM4 273h1v1h-1zM4 276h1v1h-1zM4 280h1v2h-1zM4 284h1v2h-1zM4 289h1v1h-1zM4 333h1v1h-1zM4 335h1v1h-1zM4 337h1v2h-1zM4 356h1v1h-1zM4 361h1v2h-1zM4 367h1v1h-1zM5 181h1v1h-1zM5 183h1v1h-1zM5 190h1v1h-1zM5 219h1v1h-1zM5 227h1v1h-1zM5 258h1v1h-1zM5 291h1v1h-1zM5 302h1v1h-1zM5 372h1v1h-1zM5 409h1v1h-1zM5 439h1v1h-1z"/>
<path fill="#a00000" d="M0 3h1v1h-1zM0 6h1v2h-1zM0 25h1v1h-1zM0 101h1v1h-1zM0 103h1v1h-1zM0 105h1v1h-1zM0 107h1v1h-1zM0 125h1v1h-1zM1 75h1v1h-1zM1 77h1v1h-1zM1 79h1v1h-1zM1 82h1v1h-1zM1 88h1v1h-1zM2 39h1v1h-1zM2 46h1v1h-1zM2 96h1v2h-1zM2 111h1v1h-1zM2 125h1v2h-1zM3 297h1v1h-1zM3 300h1v1h-1zM3 458h1v1h-1zM4 217h1v2h-1zM4 259h1v1h-1zM4 269h1v1h-1zM4 272h1v1h-1zM4 286h1v1h-1zM4 334h1v1h-1zM4 339h1v1h-1zM4 344h1v3h-1zM4 348h1v1h-1zM4 350h1v1h-1zM4 352h1v1h-1zM5 182h1v1h-1zM5 220h1v2h-1zM5 259h1v1h-1zM5 263h1v1h-1zM5 373h1v1h-1zM5 379h1v1h-1zM5 417h1v3h-1zM5 422h1v1h-1zM5 433h1v1h-1zM5 438h1v1h-1zM5 444h1v1h-1z"/>
<path fill="#a80000" d="M0 2h1v1h-1zM0 12h1v1h-1zM0 28h1v1h-1zM1 73h1v1h-1zM1 78h1v1h-1zM1 92h1v2h-1zM2 36h1v1h-1zM2 47h1v1h-1zM2 66h1v1h-1zM2 71h1v1h-1zM2 112h1v1h-1zM2 140h1v2h-1zM3 351h1v2h-1zM3 354h1v2h-1zM3 444h1v1h-1zM3 450h1v1h-1zM3 457h1v1h-1zM3 468h1v2h-1zM4 169h1v1h-1zM4 197h1v1h-1zM4 199h1v1h-1zM4 209h1v1h-1zM4 211h1v1h-1zM4 223h1v2h-1zM4 232h1v1h-1zM4 243h1v1h-1zM4 245h1v2h-1zM4 261h1v1h-1zM4 263h1v1h-1zM4 267h1v2h-1zM4 274h1v2h-1zM4 278h1v1h-1zM4 328h1v1h-1zM4 336h1v1h-1zM4 354h1v1h-1zM4 357h1v1h-1zM4 438h1v1h-1zM5 264h1v1h-1zM5 293h1v1h-1zM5 403h1v1h-1zM5 408h1v1h-1zM5 423h1v2h-1zM5 434h1v2h-1zM5 440h1v1h-1z"/>
<path fill="#b00000" d="M0 8h1v1h-1zM0 27h1v1h-1zM1 65h1v1h-1zM1 70h1v1h-1zM1 74h1v1h-1zM1 81h1v1h-1zM1 89h1v1h-1zM1 94h1v1h-1zM1 97h1v1h-1zM1 131h1v1h-1zM2 40h1v1h-1zM2 43h1v2h-1zM2 48h1v1h-1zM3 296h1v1h-1zM3 449h1v1h-1zM3 451h1v1h-1zM3 463h1v1h-1zM4 152h1v1h-1zM4 177h1v1h-1zM4 200h1v1h-1zM4 212h1v3h-1zM4 242h1v1h-1zM4 244h1v1h-1zM4 266h1v1h-1zM4 277h1v1h-1zM4 290h1v1h-1zM4 340h1v1h-1zM4 342h1v1h-1zM4 347h1v1h-1zM4 351h1v1h-1zM5 289h1v2h-1zM5 296h1v1h-1zM5 301h1v1h-1zM5 416h1v1h-1zM5 431h1v1h-1zM5 436h1v2h-1z"/>
<path fill="#b80000" d="M0 1h1v1h-1zM0 11h1v1h-1zM0 19h1v1h-1zM0 24h1v1h-1zM0 26h1v1h-1zM0 102h1v1h-1zM0 106h1v1h-1zM1 57h1v1h-1zM1 62h1v3h-1zM1 91h1v1h-1zM1 96h1v1h-1zM2 31h1v1h-1zM2 41h1v2h-1zM2 45h1v1h-1zM2 50h1v2h-1zM3 298h1v2h-1zM3 453h1v1h-1zM3 459h1v1h-1zM3 464h1v2h-1zM4 147h1v3h-1zM4 170h1v1h-1zM4 198h1v1h-1zM4 201h1v1h-1zM4 203h1v2h-1zM4 210h1v1h-1zM4 221h1v1h-1zM4 225h1v1h-1zM4 229h1v1h-1zM4 264h1v2h-1zM4 291h1v1h-1zM4 355h1v1h-1zM5 300h1v1h-1zM5 383h1v1h-1zM5 397h1v1h-1zM5 405h1v1h-1zM5 441h1v1h-1z"/>
<path fill="#c00000" d="M0 9h1v1h-1zM0 13h1v1h-1zM0 22h1v1h-1zM1 58h1v2h-1zM1 90h1v1h-1zM1 95h1v1h-1zM1 130h1v1h-1zM2 49h1v1h-1zM2 52h1v2h-1zM3 447h1v1h-1zM3 452h1v1h-1zM3 454h1v1h-1zM3 466h1v2h-1zM3 472h1v1h-1zM3 475h1v1h-1zM3 479h1v1h-1zM4 151h1v1h-1zM4 168h1v1h-1zM4 202h1v1h-1zM4 222h1v1h-1zM4 227h1v2h-1zM4 260h1v1h-1zM4 341h1v1h-1zM5 297h1v1h-1zM5 384h1v1h-1zM5 389h1v1h-1zM5 393h1v1h-1zM5 395h1v2h-1zM5 404h1v1h-1zM5 406h1v1h-1zM5 430h1v1h-1zM5 432h1v1h-1z"/>
<path fill="#c80000" d="M0 0h1v1h-1zM0 10h1v1h-1zM0 16h1v2h-1zM0 20h1v1h-1zM2 38h1v1h-1zM3 455h1v1h-1zM3 470h1v1h-1zM3 473h1v2h-1zM3 478h1v1h-1zM4 156h1v1h-1zM4 160h1v1h-1zM4 226h1v1h-1zM5 298h1v2h-1zM5 382h1v1h-1zM5 390h1v1h-1zM5 392h1v1h-1zM5 394h1v1h-1zM5 407h1v1h-1z"/>
<path fill="#d00000" d="M0 15h1v1h-1zM0 23h1v1h-1zM2 37h1v1h-1zM2 54h1v1h-1zM3 445h1v1h-1zM3 448h1v1h-1zM3 456h1v1h-1zM3 471h1v1h-1zM3 476h1v1h-1zM3 480h1v1h-1zM4 153h1v1h-1zM4 163h1v2h-1zM4 167h1v1h-1zM4 205h1v1h-1zM4 207h1v1h-1zM5 294h1v2h-1zM5 380h1v1h-1zM5 385h1v1h-1zM5 388h1v1h-1zM5 391h1v1h-1zM5 429h1v1h-1zM5 443h1v1h-1z"/>
<path fill="#d80000" d="M3 460h1v1h-1zM3 462h1v1h-1zM3 481h1v1h-1zM4 166h1v1h-1zM4 172h1v3h-1zM4 206h1v1h-1zM5 381h1v1h-1zM5 398h1v1h-1zM5 428h1v1h-1z"/>
<path fill="#e00000" d="M0 14h1v1h-1zM0 18h1v1h-1zM0 21h1v1h-1zM3 461h1v1h-1zM3 477h1v1h-1zM4 150h1v1h-1zM4 154h1v2h-1zM4 157h1v3h-1zM4 161h1v2h-1zM4 165h1v1h-1zM4 171h1v1h-1zM4 175h1v2h-1zM5 386h1v2h-1zM5 399h1v3h-1zM5 425h1v3h-1zM5 442h1v1h-1z"/>
</g>
<rect x="40.80" y="357.10" width="177.60" height="6.60" fill="#00d2e0"/>
<rect x="218.40" y="357.10" width="177.60" height="6.60" fill="#fa9a90"/>
<line x1="129.10" y1="348.50" x2="188.90" y2="348.50" stroke="#222" stroke-width="0.8"/>
<line x1="129.50" y1="348.50" x2="129.50" y2="357.10" stroke="#222" stroke-width="0.8"/>
<line x1="188.50" y1="348.50" x2="188.50" y2="357.10" stroke="#222" stroke-width="0.8"/>
<line x1="70.10" y1="346.50" x2="159.90" y2="346.50" stroke="#222" stroke-width="0.8"/>
<line x1="70.50" y1="346.50" x2="70.50" y2="357.10" stroke="#222" stroke-width="0.8"/>
<line x1="159.50" y1="346.50" x2="159.50" y2="348.50" stroke="#222" stroke-width="0.8"/>
<line x1="307.10" y1="344.50" x2="366.90" y2="344.50" stroke="#222" stroke-width="0.8"/>
<line x1="307.50" y1="344.50" x2="307.50" y2="357.10" stroke="#222" stroke-width="0.8"/>
<line x1="366.50" y1="344.50" x2="366.50" y2="357.10" stroke="#222" stroke-width="0.8"/>
<line x1="248.10" y1="342.50" x2="336.90" y2="342.50" stroke="#222" stroke-width="0.8"/>
<line x1="248.50" y1="342.50" x2="248.50" y2="357.10" stroke="#222" stroke-width="0.8"/>
<line x1="336.50" y1="342.50" x2="336.50" y2="344.50" stroke="#222" stroke-width="0.8"/>
<line x1="114.10" y1="323.50" x2="292.90" y2="323.50" stroke="#222" stroke-width="0.8"/>
<line x1="114.50" y1="323.50" x2="114.50" y2="346.50" stroke="#222" stroke-width="0.8"/>
<line x1="292.50" y1="323.50" x2="292.50" y2="342.50" stroke="#222" stroke-width="0.8"/>
<text x="67.80" y="851.00" font-size="6" font-weight="bold" text-anchor="start" fill="#111" transform="rotate(90 67.80 851.00)">Old-1</text>
<text x="127.00" y="851.00" font-size="6" font-weight="bold" text-anchor="start" fill="#111" transform="rotate(90 127.00 851.00)">Old-2</text>
<text x="186.20" y="851.00" font-size="6" font-weight="bold" text-anchor="start" fill="#111" transform="rotate(90 186.20 851.00)">Old-3</text>
<text x="245.40" y="851.00" font-size="6" font-weight="bold" text-anchor="start" fill="#111" transform="rotate(90 245.40 851.00)">Young-1</text>
<text x="304.60" y="851.00" font-size="6" font-weight="bold" text-anchor="start" fill="#111" transform="rotate(90 304.60 851.00)">Young-2</text>
<text x="363.80" y="851.00" font-size="6" font-weight="bold" text-anchor="start" fill="#111" transform="rotate(90 363.80 851.00)">Young-3</text>
<defs><linearGradient id="gC" x1="0" y1="0" x2="0" y2="1"><stop offset="0" stop-color="#ff0000"/><stop offset="0.47" stop-color="#000000"/><stop offset="1" stop-color="#00ff00"/></linearGradient></defs>
<rect x="399.80" y="364.80" width="4.70" height="96.00" fill="url(#gC)"/>
<text x="400.60" y="359.20" font-size="7.1" font-weight="bold" text-anchor="start" fill="#111">Group</text>
<text x="408.80" y="369.00" font-size="5.7" font-weight="bold" text-anchor="start" fill="#111">2</text>
<text x="408.80" y="389.60" font-size="5.7" font-weight="bold" text-anchor="start" fill="#111">1</text>
<text x="408.80" y="411.20" font-size="5.7" font-weight="bold" text-anchor="start" fill="#111">0</text>
<text x="408.80" y="440.90" font-size="5.7" font-weight="bold" text-anchor="start" fill="#111">-1</text>
<text x="408.80" y="461.50" font-size="5.7" font-weight="bold" text-anchor="start" fill="#111">-2</text>
<path d="M38.1 365.6v0.3M38.1 365.6h2.7M38.1 365.9h2.7M37.3 365.7v0.4M37.3 365.7h0.8M37.3 366.2h3.5M38.1 366.9v0.3M38.1 366.9h2.7M38.1 367.2h2.7M37.2 366.5v0.6M37.2 366.5h3.6M37.2 367.0h0.9M39.4 367.6v0.3M39.4 367.6h1.4M39.4 367.8h1.4M38.7 367.7v0.3M38.7 367.7h0.7M38.7 368.0h2.1M38.0 367.9v0.4M38.0 367.9h0.7M38.0 368.2h2.8M36.5 366.8v1.3M36.5 366.8h0.7M36.5 368.0h1.5M34.7 366.0v1.4M34.7 366.0h2.6M34.7 367.4h1.8M38.9 368.6v0.4M38.9 368.6h1.9M38.9 369.0h1.9M38.2 368.8v0.4M38.2 368.8h0.7M38.2 369.2h2.6M37.5 369.0v0.5M37.5 369.0h0.7M37.5 369.4h3.3M37.5 369.9v0.3M37.5 369.9h3.3M37.5 370.2h3.3M36.8 369.2v0.8M36.8 369.2h0.7M36.8 370.1h0.7M38.6 370.7v0.4M38.6 370.7h2.2M38.6 371.0h2.2M37.9 370.9v0.7M37.9 370.9h0.7M37.9 371.5h2.9M37.2 370.5v0.7M37.2 370.5h3.6M37.2 371.2h0.7M38.2 372.0v0.4M38.2 372.0h2.6M38.2 372.4h2.6M36.5 370.8v1.4M36.5 370.8h0.7M36.5 372.2h1.8M33.6 369.6v1.9M33.6 369.6h3.2M33.6 371.5h2.9M38.8 373.0v0.3M38.8 373.0h2.0M38.8 373.3h2.0M38.1 372.6v0.5M38.1 372.6h2.7M38.1 373.1h0.7M38.4 373.5v0.3M38.4 373.5h2.4M38.4 373.8h2.4M37.7 373.7v0.5M37.7 373.7h0.7M37.7 374.2h3.1M39.1 374.8v0.3M39.1 374.8h1.7M39.1 375.2h1.7M38.4 375.0v0.6M38.4 375.0h0.7M38.4 375.6h2.4M37.7 374.5v0.8M37.7 374.5h3.1M37.7 375.3h0.7M37.7 376.0v0.3M37.7 376.0h3.1M37.7 376.3h3.1M37.0 374.9v1.3M37.0 374.9h0.7M37.0 376.2h0.7M38.5 376.6v0.3M38.5 376.6h2.3M38.5 376.9h2.3M37.1 376.8v0.6M37.1 376.8h1.5M37.1 377.3h3.7M36.3 375.6v1.5M36.3 375.6h0.7M36.3 377.0h0.8M35.6 373.9v2.4M35.6 373.9h2.0M35.6 376.3h0.7M34.9 372.9v2.2M34.9 372.9h3.2M34.9 375.1h0.7M32.9 370.6v3.4M32.9 370.6h0.7M32.9 374.0h2.1M38.0 377.7v0.3M38.0 377.7h2.8M38.0 377.9h2.8M37.3 377.8v0.6M37.3 377.8h0.7M37.3 378.4h3.5M38.1 378.8v0.4M38.1 378.8h2.7M38.1 379.2h2.7M38.0 379.9v0.4M38.0 379.9h2.8M38.0 380.2h2.8M37.3 379.6v0.5M37.3 379.6h3.5M37.3 380.1h0.7M35.9 379.0v0.8M35.9 379.0h2.2M35.9 379.8h1.5M37.9 380.6v0.4M37.9 380.6h2.9M37.9 381.1h2.9M36.9 380.8v0.7M36.9 380.8h0.9M36.9 381.5h3.9M34.7 379.4v1.8M34.7 379.4h1.2M34.7 381.2h2.3M34.0 378.1v2.2M34.0 378.1h3.3M34.0 380.3h0.7M32.2 372.3v6.9M32.2 372.3h0.7M32.2 379.2h1.8M31.5 366.7v9.1M31.5 366.7h3.2M31.5 375.7h0.7M37.6 382.4v0.3M37.6 382.4h3.2M37.6 382.7h3.2M38.6 383.0v0.3M38.6 383.0h2.2M38.6 383.3h2.2M37.6 383.1v0.5M37.6 383.1h1.0M37.6 383.6h3.2M36.9 382.6v0.8M36.9 382.6h0.7M36.9 383.4h0.7M36.2 382.0v1.0M36.2 382.0h4.6M36.2 383.0h0.7M37.2 384.1v0.4M37.2 384.1h3.6M37.2 384.5h3.6M37.6 384.8v0.3M37.6 384.8h3.2M37.6 385.2h3.2M37.8 385.6v0.3M37.8 385.6h3.0M37.8 385.9h3.0M36.9 385.0v0.7M36.9 385.0h0.7M36.9 385.8h0.9M36.2 384.3v1.1M36.2 384.3h1.1M36.2 385.4h0.7M35.5 382.5v2.3M35.5 382.5h0.7M35.5 384.8h0.7M38.5 386.7v0.3M38.5 386.7h2.3M38.5 387.1h2.3M37.8 386.9v0.5M37.8 386.9h0.7M37.8 387.4h3.0M38.9 387.7v0.3M38.9 387.7h1.9M38.9 388.0h1.9M38.2 387.8v0.3M38.2 387.8h0.7M38.2 388.2h2.6M36.8 387.1v0.9M36.8 387.1h1.0M36.8 388.0h1.3M35.3 386.3v1.3M35.3 386.3h5.5M35.3 387.6h1.5M38.4 388.8v0.3M38.4 388.8h2.4M38.4 389.2h2.4M37.7 388.5v0.5M37.7 388.5h3.1M37.7 389.0h0.7M34.6 387.0v1.8M34.6 387.0h0.7M34.6 388.7h3.1M33.3 383.7v4.2M33.3 383.7h2.1M33.3 387.8h1.3M37.9 389.6v0.4M37.9 389.6h2.9M37.9 390.1h2.9M37.7 390.4v0.3M37.7 390.4h3.1M37.7 390.7h3.1M37.9 391.5v0.4M37.9 391.5h2.9M37.9 391.9h2.9M37.2 391.1v0.6M37.2 391.1h3.6M37.2 391.7h0.7M36.5 390.6v0.8M36.5 390.6h1.2M36.5 391.4h0.7M35.2 389.9v1.1M35.2 389.9h2.7M35.2 391.0h1.4M38.7 393.1v0.4M38.7 393.1h2.1M38.7 393.5h2.1M38.0 392.6v0.7M38.0 392.6h2.8M38.0 393.3h0.7M37.3 392.2v0.8M37.3 392.2h3.5M37.3 393.0h0.7M36.6 392.6v1.3M36.6 392.6h0.7M36.6 393.8h4.2M35.9 393.2v1.0M35.9 393.2h0.7M35.9 394.2h4.9M38.6 394.8v0.3M38.6 394.8h2.2M38.6 395.1h2.2M37.9 394.5v0.4M37.9 394.5h2.9M37.9 394.9h0.7M38.8 395.2v0.3M38.8 395.2h2.0M38.8 395.5h2.0M38.1 395.4v0.5M38.1 395.4h0.7M38.1 395.9h2.7M35.9 394.7v0.9M35.9 394.7h2.1M35.9 395.6h2.2M35.2 393.7v1.4M35.2 393.7h0.7M35.2 395.1h0.7M34.5 390.4v4.0M34.5 390.4h0.7M34.5 394.4h0.7M29.0 385.8v6.7M29.0 385.8h4.3M29.0 392.4h5.4M25.5 371.2v17.9M25.5 371.2h6.0M25.5 389.1h3.5M37.8 396.6v0.4M37.8 396.6h3.0M37.8 397.0h3.0M37.1 396.2v0.6M37.1 396.2h3.7M37.1 396.8h0.7M35.7 396.5v0.9M35.7 396.5h1.4M35.7 397.4h5.1M38.6 398.2v0.4M38.6 398.2h2.2M38.6 398.6h2.2M37.9 398.4v0.5M37.9 398.4h0.7M37.9 398.9h2.9M37.1 397.8v0.8M37.1 397.8h3.7M37.1 398.7h0.9M39.1 399.8v0.4M39.1 399.8h1.7M39.1 400.2h1.7M38.4 399.4v0.5M38.4 399.4h2.4M38.4 400.0h0.7M37.7 399.1v0.6M37.7 399.1h3.1M37.7 399.7h0.7M37.0 399.4v1.2M37.0 399.4h0.7M37.0 400.7h3.8M38.7 401.0v0.3M38.7 401.0h2.1M38.7 401.2h2.1M38.0 401.1v0.5M38.0 401.1h0.7M38.0 401.6h2.8M36.3 401.4v0.7M36.3 401.4h1.7M36.3 402.1h4.5M38.4 402.8v0.3M38.4 402.8h2.4M38.4 403.1h2.4M37.5 402.5v0.5M37.5 402.5h3.3M37.5 402.9h0.9M35.6 401.7v1.0M35.6 401.7h0.7M35.6 402.7h1.9M34.9 400.0v2.2M34.9 400.0h2.1M34.9 402.2h0.7M34.2 398.3v2.9M34.2 398.3h2.8M34.2 401.1h0.7M31.4 396.9v2.8M31.4 396.9h4.3M31.4 399.7h2.8M38.4 403.6v0.4M38.4 403.6h2.4M38.4 404.0h2.4M37.7 403.3v0.5M37.7 403.3h3.1M37.7 403.8h0.7M37.6 404.4v0.4M37.6 404.4h3.2M37.6 404.8h3.2M37.9 405.5v0.3M37.9 405.5h2.9M37.9 405.8h2.9M37.1 405.2v0.5M37.1 405.2h3.7M37.1 405.7h0.9M36.4 405.4v0.7M36.4 405.4h0.7M36.4 406.1h4.4M35.7 404.6v1.2M35.7 404.6h1.9M35.7 405.8h0.7M35.0 403.6v1.6M35.0 403.6h2.7M35.0 405.2h0.7M30.7 398.3v6.1M30.7 398.3h0.7M30.7 404.4h4.3M38.3 406.4v0.4M38.3 406.4h2.5M38.3 406.8h2.5M37.0 406.6v0.6M37.0 406.6h1.3M37.0 407.2h3.8M38.6 408.0v0.3M38.6 408.0h2.2M38.6 408.3h2.2M37.6 407.6v0.5M37.6 407.6h3.2M37.6 408.1h1.0M37.3 408.5v0.3M37.3 408.5h3.5M37.3 408.8h3.5M36.4 407.9v0.8M36.4 407.9h1.1M36.4 408.6h0.9M34.6 406.9v1.3M34.6 406.9h2.4M34.6 408.2h1.8M38.1 409.2v0.3M38.1 409.2h2.7M38.1 409.5h2.7M38.4 409.9v0.3M38.4 409.9h2.4M38.4 410.2h2.4M36.5 409.3v0.7M36.5 409.3h1.6M36.5 410.1h1.9M35.8 409.7v0.8M35.8 409.7h0.7M35.8 410.5h5.0M33.2 407.6v2.5M33.2 407.6h1.4M33.2 410.1h2.6M38.4 411.2v0.3M38.4 411.2h2.4M38.4 411.6h2.4M36.7 410.9v0.5M36.7 410.9h4.1M36.7 411.4h1.7M37.8 412.0v0.4M37.8 412.0h3.0M37.8 412.4h3.0M38.1 412.7v0.4M38.1 412.7h2.7M38.1 413.1h2.7M37.1 412.2v0.7M37.1 412.2h0.7M37.1 412.9h0.9M35.4 411.1v1.4M35.4 411.1h1.3M35.4 412.6h1.7M38.9 413.5v0.3M38.9 413.5h1.9M38.9 413.8h1.9M38.2 413.6v0.4M38.2 413.6h0.7M38.2 414.0h2.6M37.5 413.8v0.4M37.5 413.8h0.7M37.5 414.2h3.3M36.8 414.0v0.6M36.8 414.0h0.7M36.8 414.6h4.0M37.9 415.1v0.5M37.9 415.1h2.9M37.9 415.5h2.9M35.4 414.3v1.0M35.4 414.3h1.4M35.4 415.3h2.5M34.7 411.8v2.9M34.7 411.8h0.7M34.7 414.8h0.7M38.7 415.9v0.4M38.7 415.9h2.1M38.7 416.3h2.1M38.0 416.1v0.6M38.0 416.1h0.7M38.0 416.7h2.8M38.4 417.0v0.3M38.4 417.0h2.4M38.4 417.3h2.4M37.3 416.4v0.8M37.3 416.4h0.7M37.3 417.1h1.1M32.2 413.3v3.4M32.2 413.3h2.5M32.2 416.8h5.1M38.7 417.9v0.4M38.7 417.9h2.1M38.7 418.3h2.1M38.0 417.5v0.6M38.0 417.5h2.8M38.0 418.1h0.7M37.3 417.8v0.7M37.3 417.8h0.7M37.3 418.5h3.5M38.7 419.1v0.4M38.7 419.1h2.1M38.7 419.4h2.1M38.0 419.3v0.4M38.0 419.3h0.7M38.0 419.7h2.8M37.3 418.7v0.7M37.3 418.7h3.5M37.3 419.5h0.7M36.6 418.2v1.0M36.6 418.2h0.7M36.6 419.1h0.7M37.5 420.0v0.3M37.5 420.0h3.3M37.5 420.3h3.3M36.8 420.2v0.6M36.8 420.2h0.7M36.8 420.8h4.0M34.0 418.6v1.8M34.0 418.6h2.6M34.0 420.5h2.8M29.4 415.0v4.5M29.4 415.0h2.8M29.4 419.6h4.6M28.7 408.8v8.5M28.7 408.8h4.5M28.7 417.3h0.7M27.5 401.3v11.7M27.5 401.3h3.2M27.5 413.1h1.2M39.0 421.7v0.3M39.0 421.7h1.8M39.0 422.0h1.8M38.3 421.9v0.5M38.3 421.9h0.7M38.3 422.4h2.5M37.6 421.5v0.7M37.6 421.5h3.2M37.6 422.1h0.7M36.9 421.1v0.7M36.9 421.1h3.9M36.9 421.8h0.7M39.0 423.1v0.3M39.0 423.1h1.8M39.0 423.4h1.8M38.3 422.9v0.3M38.3 422.9h2.5M38.3 423.3h0.7M37.6 422.7v0.4M37.6 422.7h3.2M37.6 423.1h0.7M36.0 422.9v0.9M36.0 422.9h1.7M36.0 423.7h4.8M35.0 421.5v1.9M35.0 421.5h1.9M35.0 423.3h1.0M39.2 424.1v0.3M39.2 424.1h1.6M39.2 424.4h1.6M38.5 424.3v0.4M38.5 424.3h0.7M38.5 424.6h2.3M37.8 424.5v0.4M37.8 424.5h0.7M37.8 424.9h3.0M37.1 424.7v0.6M37.1 424.7h0.7M37.1 425.3h3.7M36.4 425.0v0.8M36.4 425.0h0.7M36.4 425.7h4.4M38.0 426.2v0.4M38.0 426.2h2.8M38.0 426.6h2.8M35.7 425.4v1.0M35.7 425.4h0.7M35.7 426.4h2.3M33.9 422.4v3.5M33.9 422.4h1.1M33.9 425.9h1.8M38.5 427.7v0.3M38.5 427.7h2.3M38.5 428.0h2.3M37.8 427.3v0.5M37.8 427.3h3.0M37.8 427.8h0.7M37.1 427.6v0.8M37.1 427.6h0.7M37.1 428.4h3.7M38.1 428.9v0.4M38.1 428.9h2.7M38.1 429.3h2.7M37.4 429.1v0.5M37.4 429.1h0.7M37.4 429.5h3.4M36.4 428.0v1.3M36.4 428.0h0.7M36.4 429.3h0.9M34.7 427.0v1.6M34.7 427.0h6.1M34.7 428.6h1.7M31.1 424.1v3.7M31.1 424.1h2.7M31.1 427.8h3.6M37.2 429.9v0.4M37.2 429.9h3.6M37.2 430.4h3.6M39.3 431.5v0.4M39.3 431.5h1.5M39.3 431.8h1.5M38.6 431.7v0.4M38.6 431.7h0.7M38.6 432.1h2.2M37.9 431.2v0.7M37.9 431.2h2.9M37.9 431.9h0.7M37.2 430.8v0.7M37.2 430.8h3.6M37.2 431.5h0.7M36.5 430.1v1.0M36.5 430.1h0.7M36.5 431.2h0.7M38.6 432.3v0.3M38.6 432.3h2.2M38.6 432.5h2.2M37.9 432.4v0.5M37.9 432.4h0.7M37.9 432.9h2.9M34.9 430.6v2.0M34.9 430.6h1.6M34.9 432.6h3.0M38.0 433.2v0.4M38.0 433.2h2.8M38.0 433.5h2.8M37.3 433.4v0.6M37.3 433.4h0.7M37.3 434.0h3.5M38.4 434.4v0.4M38.4 434.4h2.4M38.4 434.8h2.4M37.7 434.6v0.5M37.7 434.6h0.7M37.7 435.1h3.1M38.1 435.3v0.3M38.1 435.3h2.7M38.1 435.6h2.7M36.3 434.9v0.6M36.3 434.9h1.4M36.3 435.4h1.8M35.6 433.7v1.5M35.6 433.7h1.7M35.6 435.1h0.7M34.9 434.4v1.6M34.9 434.4h0.7M34.9 436.0h5.9M34.2 431.6v3.6M34.2 431.6h0.7M34.2 435.2h0.7M38.8 436.6v0.3M38.8 436.6h2.0M38.8 436.9h2.0M38.1 436.4v0.4M38.1 436.4h2.7M38.1 436.7h0.7M37.4 436.5v0.6M37.4 436.5h0.7M37.4 437.1h3.4M38.4 437.7v0.3M38.4 437.7h2.4M38.4 438.0h2.4M37.7 437.3v0.5M37.7 437.3h3.1M37.7 437.8h0.7M36.7 436.8v0.7M36.7 436.8h0.7M36.7 437.6h1.0M39.2 438.2v0.3M39.2 438.2h1.6M39.2 438.5h1.6M38.5 438.4v0.4M38.5 438.4h0.7M38.5 438.8h2.3M37.8 438.6v0.4M37.8 438.6h0.7M37.8 439.0h3.0M36.9 439.4v0.4M36.9 439.4h3.9M36.9 439.8h3.9M35.7 438.8v0.8M35.7 438.8h2.1M35.7 439.6h1.2M33.6 437.2v2.0M33.6 437.2h3.1M33.6 439.2h2.1M31.1 433.4v4.8M31.1 433.4h3.1M31.1 438.2h2.5M30.4 426.0v9.8M30.4 426.0h0.7M30.4 435.8h0.7M38.5 440.5v0.4M38.5 440.5h2.3M38.5 440.9h2.3M37.8 440.1v0.6M37.8 440.1h3.0M37.8 440.7h0.7M38.2 441.4v0.3M38.2 441.4h2.6M38.2 441.7h2.6M37.5 441.2v0.4M37.5 441.2h3.3M37.5 441.5h0.7M36.5 441.4v0.8M36.5 441.4h0.9M36.5 442.1h4.3M35.8 440.4v1.3M35.8 440.4h1.9M35.8 441.8h0.7M38.8 443.6v0.3M38.8 443.6h2.0M38.8 443.9h2.0M38.1 443.7v0.3M38.1 443.7h0.7M38.1 444.1h2.7M36.8 443.1v0.8M36.8 443.1h4.0M36.8 443.9h1.3M36.1 443.5v0.8M36.1 443.5h0.7M36.1 444.3h4.7M35.4 442.6v1.3M35.4 442.6h5.4M35.4 443.9h0.7M34.7 441.1v2.2M34.7 441.1h1.1M34.7 443.3h0.7M37.7 444.6v0.3M37.7 444.6h3.1M37.7 444.9h3.1M37.0 444.8v0.5M37.0 444.8h0.7M37.0 445.3h3.8M39.4 446.0v0.3M39.4 446.0h1.4M39.4 446.3h1.4M38.7 445.9v0.3M38.7 445.9h2.1M38.7 446.1h0.7M38.0 445.6v0.4M38.0 445.6h2.8M38.0 446.0h0.7M36.3 445.0v0.8M36.3 445.0h0.7M36.3 445.8h1.6M34.0 442.2v3.2M34.0 442.2h0.7M34.0 445.4h2.3M38.2 446.6v0.3M38.2 446.6h2.6M38.2 446.9h2.6M38.2 447.3v0.4M38.2 447.3h2.6M38.2 447.7h2.6M37.5 446.7v0.8M37.5 446.7h0.7M37.5 447.5h0.7M37.5 448.1v0.4M37.5 448.1h3.3M37.5 448.5h3.3M36.8 447.1v1.1M36.8 447.1h0.7M36.8 448.3h0.7M33.3 443.8v3.9M33.3 443.8h0.7M33.3 447.7h3.5M37.9 449.2v0.4M37.9 449.2h2.9M37.9 449.6h2.9M38.0 450.0v0.3M38.0 450.0h2.8M38.0 450.3h2.8M36.2 449.4v0.7M36.2 449.4h1.7M36.2 450.1h1.8M35.5 448.8v0.9M35.5 448.8h5.3M35.5 449.8h0.7M38.3 450.7v0.3M38.3 450.7h2.5M38.3 451.0h2.5M37.4 450.4v0.5M37.4 450.4h3.4M37.4 450.9h0.9M36.4 450.7v0.7M36.4 450.7h0.9M36.4 451.3h4.4M38.5 452.5v0.3M38.5 452.5h2.3M38.5 452.8h2.3M37.8 452.1v0.5M37.8 452.1h3.0M37.8 452.6h0.7M38.4 453.2v0.3M38.4 453.2h2.4M38.4 453.5h2.4M37.1 452.3v1.0M37.1 452.3h0.7M37.1 453.3h1.3M36.4 451.6v1.2M36.4 451.6h4.4M36.4 452.8h0.7M35.0 451.0v1.3M35.0 451.0h1.4M35.0 452.2h1.4M38.6 453.7v0.3M38.6 453.7h2.2M38.6 454.0h2.2M37.9 453.8v0.6M37.9 453.8h0.7M37.9 454.4h2.9M38.1 454.8v0.3M38.1 454.8h2.7M38.1 455.1h2.7M37.2 454.1v0.9M37.2 454.1h0.7M37.2 455.0h0.9M38.0 455.9v0.3M38.0 455.9h2.8M38.0 456.1h2.8M37.3 455.5v0.5M37.3 455.5h3.5M37.3 456.0h0.7M36.5 454.5v1.2M36.5 454.5h0.7M36.5 455.8h0.8M33.7 451.6v3.5M33.7 451.6h1.3M33.7 455.1h2.7M31.6 449.3v4.1M31.6 449.3h3.9M31.6 453.4h2.1M28.8 445.7v5.6M28.8 445.7h4.5M28.8 451.3h2.8M38.7 457.0v0.3M38.7 457.0h2.1M38.7 457.3h2.1M38.0 457.1v0.3M38.0 457.1h0.7M38.0 457.5h2.8M36.8 456.5v0.8M36.8 456.5h4.0M36.8 457.3h1.2M38.9 458.1v0.3M38.9 458.1h1.9M38.9 458.4h1.9M38.2 458.2v0.4M38.2 458.2h0.7M38.2 458.6h2.6M37.5 457.8v0.6M37.5 457.8h3.3M37.5 458.4h0.7M35.8 456.9v1.2M35.8 456.9h1.0M35.8 458.1h1.7M38.1 458.9v0.4M38.1 458.9h2.7M38.1 459.3h2.7M38.1 459.5v0.3M38.1 459.5h2.7M38.1 459.8h2.7M37.4 459.1v0.6M37.4 459.1h0.7M37.4 459.7h0.7M35.1 457.5v1.9M35.1 457.5h0.7M35.1 459.4h2.3M38.3 460.2v0.3M38.3 460.2h2.5M38.3 460.5h2.5M38.3 460.8v0.3M38.3 460.8h2.5M38.3 461.2h2.5M37.6 461.4v0.3M37.6 461.4h3.2M37.6 461.8h3.2M38.3 462.6v0.3M38.3 462.6h2.5M38.3 462.9h2.5M37.6 462.2v0.6M37.6 462.2h3.2M37.6 462.7h0.7M36.9 461.6v0.8M36.9 461.6h0.7M36.9 462.5h0.7M38.6 463.7v0.3M38.6 463.7h2.2M38.6 464.0h2.2M37.9 463.4v0.5M37.9 463.4h2.9M37.9 463.8h0.7M37.2 463.1v0.5M37.2 463.1h3.6M37.2 463.6h0.7M35.4 462.0v1.3M35.4 462.0h1.5M35.4 463.4h1.8M34.7 461.0v1.7M34.7 461.0h3.6M34.7 462.7h0.7M34.0 460.4v1.5M34.0 460.4h4.3M34.0 461.9h0.7M38.3 464.6v0.3M38.3 464.6h2.5M38.3 464.9h2.5M37.6 464.8v0.5M37.6 464.8h0.7M37.6 465.3h3.2M36.8 464.3v0.8M36.8 464.3h4.0M36.8 465.0h0.8M36.1 464.7v1.1M36.1 464.7h0.7M36.1 465.8h4.7M32.2 461.1v4.1M32.2 461.1h1.8M32.2 465.2h3.9M29.5 458.4v4.7M29.5 458.4h5.7M29.5 463.2h2.7M25.2 448.5v12.3M25.2 448.5h3.6M25.2 460.8h4.3M24.5 430.9v23.8M24.5 430.9h5.9M24.5 454.7h0.7M36.7 466.2v0.4M36.7 466.2h4.1M36.7 466.6h4.1M38.4 467.1v0.3M38.4 467.1h2.4M38.4 467.4h2.4M36.5 467.2v0.5M36.5 467.2h1.9M36.5 467.7h4.3M35.8 466.4v1.0M35.8 466.4h0.9M35.8 467.5h0.7M37.6 468.0v0.3M37.6 468.0h3.2M37.6 468.4h3.2M36.9 468.2v0.7M36.9 468.2h0.7M36.9 468.8h3.9M37.3 469.3v0.4M37.3 469.3h3.5M37.3 469.7h3.5M36.1 468.5v1.0M36.1 468.5h0.8M36.1 469.5h1.2M33.8 466.9v2.1M33.8 466.9h2.0M33.8 469.0h2.2M39.2 470.7v0.3M39.2 470.7h1.6M39.2 471.0h1.6M38.5 470.5v0.4M38.5 470.5h2.3M38.5 470.9h0.7M37.8 470.7v0.7M37.8 470.7h0.7M37.8 471.4h3.0M37.1 470.3v0.7M37.1 470.3h3.7M37.1 471.0h0.7M36.4 470.1v0.6M36.4 470.1h4.4M36.4 470.7h0.7M35.7 470.4v1.3M35.7 470.4h0.7M35.7 471.7h5.1M32.6 468.0v3.0M32.6 468.0h1.2M32.6 471.0h3.1M39.2 472.0v0.3M39.2 472.0h1.6M39.2 472.3h1.6M38.5 472.2v0.4M38.5 472.2h0.7M38.5 472.6h2.3M37.8 472.4v0.4M37.8 472.4h0.7M37.8 472.7h3.0M38.5 473.0v0.3M38.5 473.0h2.3M38.5 473.2h2.3M37.8 473.1v0.4M37.8 473.1h0.7M37.8 473.5h3.0M37.1 472.6v0.7M37.1 472.6h0.7M37.1 473.3h0.7M37.7 473.8v0.5M37.7 473.8h3.1M37.7 474.3h3.1M35.6 472.9v1.1M35.6 472.9h1.5M35.6 474.0h2.1M38.4 475.1v0.3M38.4 475.1h2.4M38.4 475.4h2.4M36.8 474.7v0.5M36.8 474.7h4.0M36.8 475.2h1.6M34.9 473.5v1.5M34.9 473.5h0.7M34.9 475.0h1.9M38.5 475.9v0.3M38.5 475.9h2.3M38.5 476.2h2.3M37.0 476.0v0.4M37.0 476.0h1.5M37.0 476.4h3.8M38.6 476.9v0.3M38.6 476.9h2.2M38.6 477.2h2.2M37.9 476.7v0.4M37.9 476.7h2.9M37.9 477.1h0.7M35.7 476.2v0.7M35.7 476.2h1.3M35.7 476.9h2.2M34.2 474.2v2.3M34.2 474.2h0.7M34.2 476.5h1.5M30.2 469.5v5.9M30.2 469.5h2.4M30.2 475.4h4.0M38.8 477.8v0.3M38.8 477.8h2.0M38.8 478.2h2.0M38.1 478.0v0.4M38.1 478.0h0.7M38.1 478.4h2.7M37.4 477.6v0.6M37.4 477.6h3.4M37.4 478.2h0.7M39.1 479.7v0.3M39.1 479.7h1.7M39.1 480.0h1.7M38.4 479.3v0.5M38.4 479.3h2.4M38.4 479.9h0.7M37.7 479.0v0.6M37.7 479.0h3.1M37.7 479.6h0.7M37.0 479.3v1.1M37.0 479.3h0.7M37.0 480.4h3.8M36.3 478.7v1.1M36.3 478.7h4.5M36.3 479.8h0.7M35.1 477.9v1.4M35.1 477.9h2.3M35.1 479.3h1.2M38.4 480.8v0.3M38.4 480.8h2.4M38.4 481.1h2.4M38.3 481.5v0.4M38.3 481.5h2.5M38.3 481.9h2.5M37.1 480.9v0.7M37.1 480.9h1.3M37.1 481.7h1.2M37.9 482.1v0.4M37.9 482.1h2.9M37.9 482.6h2.9M37.4 483.1v0.4M37.4 483.1h3.4M37.4 483.5h3.4M36.7 482.4v0.9M36.7 482.4h1.2M36.7 483.3h0.7M34.9 481.3v1.5M34.9 481.3h2.2M34.9 482.8h1.8M37.0 483.8v0.4M37.0 483.8h3.8M37.0 484.2h3.8M38.4 484.6v0.3M38.4 484.6h2.4M38.4 485.0h2.4M37.6 484.4v0.4M37.6 484.4h3.2M37.6 484.8h0.8M38.3 485.4v0.3M38.3 485.4h2.5M38.3 485.7h2.5M38.3 486.1v0.3M38.3 486.1h2.5M38.3 486.4h2.5M37.6 485.5v0.7M37.6 485.5h0.7M37.6 486.2h0.7M36.3 484.6v1.3M36.3 484.6h1.3M36.3 485.9h1.3M37.9 487.2v0.5M37.9 487.2h2.9M37.9 487.7h2.9M37.2 486.7v0.7M37.2 486.7h3.6M37.2 487.5h0.7M35.6 485.2v1.8M35.6 485.2h0.7M35.6 487.1h1.6M34.9 484.0v2.2M34.9 484.0h2.1M34.9 486.2h0.7M34.2 482.1v3.0M34.2 482.1h0.7M34.2 485.1h0.7M38.6 488.4v0.4M38.6 488.4h2.2M38.6 488.8h2.2M37.9 488.0v0.6M37.9 488.0h2.9M37.9 488.6h0.7M37.2 488.3v0.8M37.2 488.3h0.7M37.2 489.1h3.6M38.8 489.4v0.3M38.8 489.4h2.0M38.8 489.7h2.0M38.1 489.5v0.5M38.1 489.5h0.7M38.1 490.0h2.7M36.5 489.8v0.5M36.5 489.8h1.6M36.5 490.2h4.3M35.7 488.7v1.3M35.7 488.7h1.5M35.7 490.0h0.8M37.8 490.6v0.3M37.8 490.6h3.0M37.8 490.9h3.0M36.7 490.7v0.5M36.7 490.7h1.0M36.7 491.2h4.1M38.6 491.6v0.3M38.6 491.6h2.2M38.6 491.9h2.2M38.6 492.3v0.3M38.6 492.3h2.2M38.6 492.6h2.2M37.9 491.7v0.7M37.9 491.7h0.7M37.9 492.4h0.7M37.2 492.1v0.8M37.2 492.1h0.7M37.2 492.9h3.6M35.7 491.0v1.5M35.7 491.0h1.1M35.7 492.5h1.6M35.0 489.4v2.4M35.0 489.4h0.7M35.0 491.7h0.7M30.1 483.6v7.0M30.1 483.6h4.1M30.1 490.5h4.9M29.4 478.6v8.5M29.4 478.6h5.7M29.4 487.1h0.7M28.6 472.4v10.4M28.6 472.4h1.5M28.6 482.8h0.7M38.8 493.2v0.3M38.8 493.2h2.0M38.8 493.5h2.0M38.1 493.3v0.5M38.1 493.3h0.7M38.1 493.8h2.7M38.5 494.1v0.3M38.5 494.1h2.3M38.5 494.4h2.3M37.8 494.3v0.5M37.8 494.3h0.7M37.8 494.8h3.0M37.5 495.1v0.4M37.5 495.1h3.3M37.5 495.6h3.3M35.2 494.5v0.8M35.2 494.5h2.6M35.2 495.3h2.3M34.4 493.6v1.4M34.4 493.6h3.7M34.4 494.9h0.8M37.8 496.0v0.5M37.8 496.0h3.0M37.8 496.5h3.0M38.1 496.9v0.3M38.1 496.9h2.7M38.1 497.2h2.7M38.9 497.6v0.3M38.9 497.6h1.9M38.9 497.9h1.9M38.2 497.4v0.4M38.2 497.4h2.6M38.2 497.8h0.7M36.7 497.1v0.5M36.7 497.1h1.3M36.7 497.6h1.4M35.4 496.3v1.1M35.4 496.3h2.4M35.4 497.3h1.4M39.1 498.8v0.3M39.1 498.8h1.7M39.1 499.1h1.7M38.4 499.0v0.3M38.4 499.0h0.7M38.4 499.3h2.4M37.7 498.4v0.8M37.7 498.4h3.1M37.7 499.1h0.7M37.5 499.9v0.4M37.5 499.9h3.3M37.5 500.3h3.3M38.2 500.8v0.3M38.2 500.8h2.6M38.2 501.1h2.6M38.2 501.5v0.4M38.2 501.5h2.6M38.2 501.8h2.6M37.5 501.0v0.7M37.5 501.0h0.7M37.5 501.7h0.7M36.8 500.1v1.2M36.8 500.1h0.7M36.8 501.3h0.7M36.1 499.6v1.2M36.1 499.6h4.7M36.1 500.7h0.7M35.4 498.7v1.4M35.4 498.7h2.2M35.4 500.2h0.7M32.5 496.8v2.7M32.5 496.8h2.8M32.5 499.4h2.9M31.8 494.2v3.9M31.8 494.2h2.6M31.8 498.1h0.7M38.0 502.1v0.3M38.0 502.1h2.8M38.0 502.4h2.8M38.1 502.8v0.3M38.1 502.8h2.7M38.1 503.1h2.7M36.2 502.2v0.7M36.2 502.2h1.8M36.2 502.9h1.9M38.2 503.5v0.3M38.2 503.5h2.6M38.2 503.8h2.6M37.5 503.2v0.4M37.5 503.2h3.3M37.5 503.6h0.7M37.1 504.2v0.5M37.1 504.2h3.7M37.1 504.8h3.7M36.4 503.4v1.1M36.4 503.4h1.1M36.4 504.5h0.7M34.5 502.6v1.4M34.5 502.6h1.7M34.5 504.0h1.9M37.5 506.0v0.4M37.5 506.0h3.3M37.5 506.4h3.3M36.6 505.5v0.6M36.6 505.5h4.2M36.6 506.2h0.9M35.5 505.2v0.7M35.5 505.2h5.3M35.5 505.9h1.1M38.6 506.8v0.3M38.6 506.8h2.2M38.6 507.2h2.2M37.9 507.0v0.5M37.9 507.0h0.7M37.9 507.5h2.9M34.7 505.5v1.7M34.7 505.5h0.8M34.7 507.2h3.1M38.6 507.9v0.3M38.6 507.9h2.2M38.6 508.2h2.2M37.9 507.8v0.3M37.9 507.8h2.9M37.9 508.1h0.7M37.7 508.6v0.3M37.7 508.6h3.1M37.7 508.9h3.1M38.4 509.3v0.3M38.4 509.3h2.4M38.4 509.6h2.4M37.7 509.5v0.3M37.7 509.5h0.7M37.7 509.8h3.1M37.0 508.7v0.9M37.0 508.7h0.7M37.0 509.6h0.7M36.3 507.9v1.3M36.3 507.9h1.6M36.3 509.2h0.7M38.1 509.9v0.3M38.1 509.9h2.7M38.1 510.2h2.7M38.5 510.7v0.3M38.5 510.7h2.3M38.5 510.9h2.3M36.8 510.1v0.7M36.8 510.1h1.3M36.8 510.8h1.7M34.7 508.6v1.9M34.7 508.6h1.6M34.7 510.4h2.0M34.0 506.4v3.1M34.0 506.4h0.7M34.0 509.5h0.7M32.4 503.3v4.7M32.4 503.3h2.1M32.4 507.9h1.6M26.7 496.2v9.4M26.7 496.2h5.1M26.7 505.6h5.6M26.0 477.6v23.3M26.0 477.6h2.6M26.0 500.9h0.7M22.5 442.8v46.5M22.5 442.8h2.0M22.5 489.3h3.5M19.5 407.2v58.8M19.5 407.2h8.0M19.5 466.0h3.0M17.5 380.1v56.5M17.5 380.1h8.0M17.5 436.6h2.0M38.2 511.3v0.3M38.2 511.3h2.6M38.2 511.6h2.6M37.5 511.4v0.4M37.5 511.4h0.7M37.5 511.8h3.3M38.4 512.1v0.3M38.4 512.1h2.4M38.4 512.4h2.4M38.1 512.8v0.4M38.1 512.8h2.7M38.1 513.2h2.7M37.4 513.0v0.6M37.4 513.0h0.7M37.4 513.6h3.4M36.7 512.2v1.1M36.7 512.2h1.7M36.7 513.3h0.7M36.0 511.6v1.1M36.0 511.6h1.5M36.0 512.7h0.7M37.5 514.0v0.5M37.5 514.0h3.3M37.5 514.5h3.3M34.6 512.2v2.0M34.6 512.2h1.4M34.6 514.2h2.9M38.5 515.2v0.4M38.5 515.2h2.3M38.5 515.6h2.3M37.8 514.9v0.5M37.8 514.9h3.0M37.8 515.4h0.7M32.4 513.2v1.9M32.4 513.2h2.2M32.4 515.1h5.4M38.6 516.1v0.4M38.6 516.1h2.2M38.6 516.5h2.2M37.9 516.3v0.5M37.9 516.3h0.7M37.9 516.8h2.9M37.7 517.1v0.4M37.7 517.1h3.1M37.7 517.5h3.1M37.6 517.9v0.4M37.6 517.9h3.2M37.6 518.3h3.2M36.9 517.3v0.8M36.9 517.3h0.8M36.9 518.1h0.7M36.2 517.7v1.0M36.2 517.7h0.7M36.2 518.7h4.6M34.3 516.5v1.7M34.3 516.5h3.6M34.3 518.2h1.9M38.1 519.2v0.4M38.1 519.2h2.7M38.1 519.7h2.7M38.1 520.0v0.3M38.1 520.0h2.7M38.1 520.3h2.7M38.1 520.7v0.4M38.1 520.7h2.7M38.1 521.1h2.7M37.4 520.1v0.8M37.4 520.1h0.7M37.4 520.9h0.7M36.3 519.5v1.0M36.3 519.5h1.8M36.3 520.5h1.1M39.0 521.5v0.3M39.0 521.5h1.8M39.0 521.8h1.8M38.3 521.7v0.5M38.3 521.7h0.7M38.3 522.2h2.5M37.6 521.3v0.6M37.6 521.3h3.2M37.6 521.9h0.7M37.7 522.9v0.4M37.7 522.9h3.1M37.7 523.3h3.1M37.0 522.5v0.6M37.0 522.5h3.8M37.0 523.1h0.7M36.1 521.6v1.2M36.1 521.6h1.5M36.1 522.8h1.0M34.2 520.0v2.2M34.2 520.0h2.1M34.2 522.2h1.9M30.8 517.4v3.7M30.8 517.4h3.5M30.8 521.1h3.4M28.3 514.2v5.1M28.3 514.2h4.1M28.3 519.2h2.5M38.4 524.3v0.3M38.4 524.3h2.4M38.4 524.6h2.4M37.7 524.0v0.5M37.7 524.0h3.1M37.7 524.4h0.7M37.0 523.5v0.7M37.0 523.5h3.8M37.0 524.2h0.7M37.6 525.0v0.4M37.6 525.0h3.2M37.6 525.4h3.2M36.3 523.9v1.3M36.3 523.9h0.8M36.3 525.2h1.4M38.2 525.8v0.3M38.2 525.8h2.6M38.2 526.1h2.6M37.5 525.9v0.5M37.5 525.9h0.8M37.5 526.4h3.3M36.8 526.2v0.8M36.8 526.2h0.7M36.8 527.0h4.0M35.6 524.5v2.0M35.6 524.5h0.7M35.6 526.6h1.2M38.8 527.4v0.3M38.8 527.4h2.0M38.8 527.7h2.0M38.1 527.6v0.3M38.1 527.6h0.7M38.1 527.9h2.7M33.3 525.6v2.2M33.3 525.6h2.3M33.3 527.7h4.9M38.9 528.6v0.3M38.9 528.6h1.9M38.9 528.9h1.9M38.2 528.5v0.3M38.2 528.5h2.6M38.2 528.8h0.7M37.5 528.2v0.4M37.5 528.2h3.3M37.5 528.6h0.7M37.3 529.5v0.4M37.3 529.5h3.5M37.3 529.9h3.5M36.3 528.4v1.3M36.3 528.4h1.2M36.3 529.7h1.1M38.3 530.2v0.3M38.3 530.2h2.5M38.3 530.5h2.5M37.6 530.3v0.5M37.6 530.3h0.7M37.6 530.9h3.2M37.3 531.2v0.3M37.3 531.2h3.5M37.3 531.5h3.5M35.5 530.6v0.7M35.5 530.6h2.2M35.5 531.4h1.9M33.2 529.0v1.9M33.2 529.0h3.0M33.2 531.0h2.2M30.6 526.6v3.4M30.6 526.6h2.7M30.6 530.0h2.6M26.6 516.7v11.6M26.6 516.7h1.7M26.6 528.3h4.0M38.1 532.1v0.3M38.1 532.1h2.7M38.1 532.4h2.7M37.4 531.8v0.5M37.4 531.8h3.4M37.4 532.2h0.7M38.3 532.7v0.3M38.3 532.7h2.5M38.3 533.0h2.5M38.3 533.3v0.3M38.3 533.3h2.5M38.3 533.5h2.5M37.6 532.9v0.5M37.6 532.9h0.7M37.6 533.4h0.7M36.7 532.0v1.1M36.7 532.0h0.7M36.7 533.2h0.8M36.0 532.6v1.4M36.0 532.6h0.7M36.0 534.0h4.8M39.2 534.6v0.3M39.2 534.6h1.6M39.2 534.9h1.6M38.5 534.7v0.4M38.5 534.7h0.7M38.5 535.2h2.3M37.8 534.3v0.6M37.8 534.3h3.0M37.8 534.9h0.7M38.4 535.5v0.3M38.4 535.5h2.4M38.4 535.8h2.4M37.1 534.6v1.0M37.1 534.6h0.7M37.1 535.7h1.4M34.8 533.3v1.9M34.8 533.3h1.3M34.8 535.2h2.3M38.5 536.1v0.4M38.5 536.1h2.3M38.5 536.5h2.3M37.8 536.3v0.6M37.8 536.3h0.7M37.8 536.9h3.0M38.4 537.3v0.3M38.4 537.3h2.4M38.4 537.7h2.4M37.1 536.6v0.9M37.1 536.6h0.7M37.1 537.5h1.3M38.5 538.9v0.3M38.5 538.9h2.3M38.5 539.2h2.3M37.8 538.5v0.5M37.8 538.5h3.0M37.8 539.0h0.7M37.1 538.1v0.7M37.1 538.1h3.7M37.1 538.8h0.7M34.0 537.1v1.4M34.0 537.1h3.0M34.0 538.4h3.1M31.9 534.2v3.5M31.9 534.2h2.9M31.9 537.7h2.1M37.5 539.9v0.5M37.5 539.9h3.3M37.5 540.4h3.3M36.8 540.1v0.6M36.8 540.1h0.7M36.8 540.8h4.0M36.1 539.5v1.0M36.1 539.5h4.7M36.1 540.5h0.7M30.7 536.0v4.0M30.7 536.0h1.2M30.7 540.0h5.4M39.4 541.2v0.3M39.4 541.2h1.4M39.4 541.5h1.4M38.7 541.0v0.3M38.7 541.0h2.1M38.7 541.3h0.7M38.0 541.2v0.6M38.0 541.2h0.7M38.0 541.8h2.8M37.3 541.5v0.6M37.3 541.5h0.7M37.3 542.1h3.5M36.5 541.8v0.7M36.5 541.8h0.8M36.5 542.5h4.3M38.8 542.9v0.3M38.8 542.9h2.0M38.8 543.3h2.0M38.1 543.1v0.4M38.1 543.1h0.7M38.1 543.5h2.7M38.2 543.9v0.3M38.2 543.9h2.6M38.2 544.2h2.6M37.5 544.0v0.5M37.5 544.0h0.7M37.5 544.5h3.3M36.8 543.6v0.6M36.8 543.6h4.0M36.8 544.3h0.7M35.8 543.3v0.7M35.8 543.3h2.3M35.8 544.0h1.0M34.9 542.1v1.5M34.9 542.1h1.6M34.9 543.6h0.9M38.7 545.1v0.3M38.7 545.1h2.1M38.7 545.3h2.1M38.0 544.8v0.4M38.0 544.8h2.8M38.0 545.2h0.7M38.0 545.6v0.3M38.0 545.6h2.8M38.0 545.9h2.8M37.3 545.0v0.7M37.3 545.0h0.7M37.3 545.8h0.7M38.5 546.3v0.3M38.5 546.3h2.3M38.5 546.5h2.3M36.6 545.4v1.0M36.6 545.4h0.7M36.6 546.4h1.9M38.9 547.4v0.3M38.9 547.4h1.9M38.9 547.7h1.9M38.2 547.1v0.5M38.2 547.1h2.6M38.2 547.6h0.7M37.5 547.3v0.6M37.5 547.3h0.7M37.5 547.9h3.3M36.8 546.8v0.8M36.8 546.8h4.0M36.8 547.6h0.7M35.5 545.9v1.3M35.5 545.9h1.0M35.5 547.2h1.3M33.3 542.9v3.7M33.3 542.9h1.6M33.3 546.6h2.2M28.3 538.0v6.8M28.3 538.0h2.5M28.3 544.7h5.0M24.0 522.5v18.8M24.0 522.5h2.6M24.0 541.3h4.3M37.0 548.1v0.4M37.0 548.1h3.8M37.0 548.5h3.8M38.2 549.0v0.4M38.2 549.0h2.6M38.2 549.5h2.6M37.8 549.7v0.3M37.8 549.7h3.0M37.8 550.0h3.0M36.6 549.2v0.6M36.6 549.2h1.6M36.6 549.9h1.2M35.6 548.3v1.2M35.6 548.3h1.4M35.6 549.6h1.0M38.3 550.4v0.4M38.3 550.4h2.5M38.3 550.8h2.5M37.3 550.6v0.5M37.3 550.6h1.0M37.3 551.1h3.5M33.8 549.0v1.9M33.8 549.0h1.8M33.8 550.8h3.5M38.0 551.6v0.3M38.0 551.6h2.8M38.0 551.9h2.8M37.3 551.4v0.4M37.3 551.4h3.5M37.3 551.8h0.7M36.6 551.6v0.8M36.6 551.6h0.7M36.6 552.4h4.2M38.9 553.7v0.3M38.9 553.7h1.9M38.9 554.1h1.9M38.2 553.4v0.5M38.2 553.4h2.6M38.2 553.9h0.7M37.5 553.1v0.6M37.5 553.1h3.3M37.5 553.6h0.7M36.8 552.8v0.6M36.8 552.8h4.0M36.8 553.4h0.7M38.4 555.3v0.3M38.4 555.3h2.4M38.4 555.6h2.4M37.6 554.9v0.5M37.6 554.9h3.2M37.6 555.4h0.7M36.6 555.2v0.7M36.6 555.2h1.0M36.6 555.9h4.2M35.9 554.5v1.0M35.9 554.5h4.9M35.9 555.5h0.7M35.2 553.1v1.9M35.2 553.1h1.6M35.2 555.0h0.7M32.7 552.0v2.1M32.7 552.0h3.9M32.7 554.0h2.6M30.9 549.9v3.1M30.9 549.9h2.9M30.9 553.0h1.8M38.4 556.2v0.3M38.4 556.2h2.4M38.4 556.5h2.4M39.0 556.7v0.3M39.0 556.7h1.8M39.0 557.0h1.8M38.3 556.9v0.5M38.3 556.9h0.7M38.3 557.4h2.5M38.3 557.7v0.3M38.3 557.7h2.5M38.3 558.0h2.5M37.6 557.2v0.7M37.6 557.2h0.7M37.6 557.9h0.7M36.9 556.3v1.2M36.9 556.3h1.5M36.9 557.5h0.7M38.5 558.8v0.3M38.5 558.8h2.3M38.5 559.1h2.3M37.8 558.4v0.6M37.8 558.4h3.0M37.8 559.0h0.7M36.2 556.9v1.8M36.2 556.9h0.7M36.2 558.7h1.6M37.5 559.5v0.4M37.5 559.5h3.3M37.5 559.9h3.3M38.4 560.7v0.3M38.4 560.7h2.4M38.4 561.0h2.4M37.5 560.4v0.4M37.5 560.4h3.3M37.5 560.8h0.9M36.7 560.1v0.4M36.7 560.1h4.1M36.7 560.6h0.7M37.4 561.8v0.3M37.4 561.8h3.4M37.4 562.1h3.4M36.7 561.4v0.6M36.7 561.4h4.1M36.7 561.9h0.7M35.5 560.4v1.3M35.5 560.4h1.2M35.5 561.7h1.1M34.8 559.7v1.3M34.8 559.7h2.6M34.8 561.0h0.7M38.4 562.6v0.3M38.4 562.6h2.4M38.4 562.9h2.4M37.7 562.7v0.4M37.7 562.7h0.7M37.7 563.2h3.1M37.0 562.4v0.5M37.0 562.4h3.8M37.0 562.9h0.7M34.1 560.3v2.3M34.1 560.3h0.7M34.1 562.7h2.8M33.4 557.8v3.7M33.4 557.8h2.7M33.4 561.5h0.7M27.9 551.4v8.2M27.9 551.4h3.0M27.9 559.7h5.5M38.1 563.5v0.4M38.1 563.5h2.7M38.1 563.9h2.7M38.2 564.6v0.3M38.2 564.6h2.6M38.2 564.9h2.6M37.5 564.2v0.6M37.5 564.2h3.3M37.5 564.7h0.7M36.8 563.7v0.8M36.8 563.7h1.3M36.8 564.5h0.7M38.0 565.1v0.3M38.0 565.1h2.8M38.0 565.4h2.8M38.0 565.7v0.3M38.0 565.7h2.8M38.0 566.0h2.8M37.3 565.9v0.5M37.3 565.9h0.7M37.3 566.3h3.5M38.9 567.3v0.3M38.9 567.3h1.9M38.9 567.7h1.9M38.2 567.0v0.5M38.2 567.0h2.6M38.2 567.5h0.7M37.5 566.6v0.6M37.5 566.6h3.3M37.5 567.3h0.7M37.5 568.0v0.4M37.5 568.0h3.3M37.5 568.4h3.3M36.8 566.9v1.3M36.8 566.9h0.7M36.8 568.2h0.7M35.5 566.1v1.5M35.5 566.1h1.8M35.5 567.6h1.3M38.1 568.8v0.4M38.1 568.8h2.7M38.1 569.2h2.7M34.8 566.8v2.2M34.8 566.8h0.7M34.8 569.0h3.3M34.1 565.3v2.6M34.1 565.3h3.9M34.1 567.9h0.7M33.4 564.1v2.5M33.4 564.1h3.4M33.4 566.6h0.7M27.2 555.5v9.8M27.2 555.5h0.7M27.2 565.3h6.2M38.1 570.0v0.4M38.1 570.0h2.7M38.1 570.4h2.7M37.4 569.6v0.6M37.4 569.6h3.4M37.4 570.2h0.7M39.0 571.3v0.3M39.0 571.3h1.8M39.0 571.6h1.8M38.3 571.1v0.4M38.3 571.1h2.5M38.3 571.4h0.7M37.6 570.8v0.5M37.6 570.8h3.2M37.6 571.2h0.7M36.9 571.0v1.0M36.9 571.0h0.7M36.9 572.0h3.9M37.6 572.4v0.5M37.6 572.4h3.2M37.6 572.8h3.2M36.9 572.6v0.6M36.9 572.6h0.7M36.9 573.2h3.9M36.2 571.5v1.4M36.2 571.5h0.7M36.2 572.9h0.7M35.5 569.9v2.3M35.5 569.9h1.8M35.5 572.2h0.7M37.6 573.5v0.4M37.6 573.5h3.2M37.6 573.9h3.2M38.1 574.3v0.3M38.1 574.3h2.7M38.1 574.6h2.7M37.4 574.4v0.5M37.4 574.4h0.7M37.4 574.9h3.4M36.3 573.7v1.0M36.3 573.7h1.3M36.3 574.7h1.1M38.1 575.3v0.3M38.1 575.3h2.7M38.1 575.6h2.7M37.4 575.4v0.4M37.4 575.4h0.7M37.4 575.8h3.4M36.6 575.6v0.5M36.6 575.6h0.9M36.6 576.2h4.2M35.6 574.2v1.7M35.6 574.2h0.7M35.6 575.9h1.0M33.7 571.1v4.0M33.7 571.1h1.8M33.7 575.1h1.9M38.2 576.8v0.4M38.2 576.8h2.6M38.2 577.2h2.6M37.2 577.0v0.5M37.2 577.0h1.0M37.2 577.5h3.6M36.4 576.5v0.8M36.4 576.5h4.4M36.4 577.3h0.8M37.8 577.7v0.3M37.8 577.7h3.0M37.8 578.0h3.0M37.1 577.9v0.5M37.1 577.9h0.7M37.1 578.3h3.7M35.5 576.9v1.2M35.5 576.9h0.9M35.5 578.1h1.6M37.8 578.6v0.4M37.8 578.6h3.0M37.8 579.0h3.0M37.6 579.3v0.3M37.6 579.3h3.2M37.6 579.6h3.2M37.6 580.0v0.4M37.6 580.0h3.2M37.6 580.4h3.2M36.9 579.4v0.8M36.9 579.4h0.7M36.9 580.2h0.7M38.2 580.8v0.3M38.2 580.8h2.6M38.2 581.2h2.6M38.2 581.5v0.3M38.2 581.5h2.6M38.2 581.8h2.6M36.9 581.0v0.7M36.9 581.0h1.3M36.9 581.7h1.3M36.2 579.8v1.5M36.2 579.8h0.7M36.2 581.3h0.7M35.5 578.8v1.8M35.5 578.8h2.3M35.5 580.6h0.7M34.8 577.5v2.2M34.8 577.5h0.7M34.8 579.7h0.7M38.7 582.6v0.3M38.7 582.6h2.1M38.7 582.9h2.1M38.0 582.2v0.5M38.0 582.2h2.8M38.0 582.8h0.7M37.3 582.5v0.8M37.3 582.5h0.7M37.3 583.3h3.5M38.0 583.9v0.4M38.0 583.9h2.8M38.0 584.2h2.8M37.3 583.7v0.4M37.3 583.7h3.5M37.3 584.1h0.7M36.6 582.9v1.0M36.6 582.9h0.7M36.6 583.9h0.7M36.5 584.7v0.5M36.5 584.7h4.3M36.5 585.2h4.3M38.0 586.1v0.4M38.0 586.1h2.8M38.0 586.6h2.8M36.7 585.7v0.7M36.7 585.7h4.1M36.7 586.3h1.3M37.5 586.9v0.4M37.5 586.9h3.3M37.5 587.3h3.3M36.8 587.1v0.5M36.8 587.1h0.7M36.8 587.6h4.0M35.7 586.0v1.4M35.7 586.0h1.0M35.7 587.4h1.1M35.0 585.0v1.7M35.0 585.0h1.5M35.0 586.7h0.7M32.1 583.4v2.4M32.1 583.4h4.5M32.1 585.8h2.9M31.4 578.6v6.0M31.4 578.6h3.4M31.4 584.6h0.7M38.3 588.2v0.3M38.3 588.2h2.5M38.3 588.5h2.5M37.7 588.9v0.4M37.7 588.9h3.1M37.7 589.2h3.1M37.0 588.4v0.7M37.0 588.4h1.3M37.0 589.0h0.7M35.9 587.9v0.8M35.9 587.9h4.9M35.9 588.7h1.1M38.3 589.7v0.3M38.3 589.7h2.5M38.3 590.0h2.5M37.6 589.8v0.4M37.6 589.8h0.7M37.6 590.2h3.2M37.6 590.5v0.3M37.6 590.5h3.2M37.6 590.8h3.2M36.9 590.0v0.6M36.9 590.0h0.8M36.9 590.6h0.7M35.2 588.3v2.0M35.2 588.3h0.7M35.2 590.3h1.6M30.7 581.6v7.7M30.7 581.6h0.7M30.7 589.3h4.6M30.0 573.1v12.4M30.0 573.1h3.8M30.0 585.5h0.7M26.5 560.4v18.8M26.5 560.4h0.7M26.5 579.3h3.5M37.5 591.2v0.4M37.5 591.2h3.3M37.5 591.6h3.3M38.5 592.1v0.3M38.5 592.1h2.3M38.5 592.4h2.3M36.6 591.4v0.8M36.6 591.4h0.9M36.6 592.2h1.9M38.1 593.0v0.4M38.1 593.0h2.7M38.1 593.3h2.7M37.4 592.7v0.5M37.4 592.7h3.4M37.4 593.1h0.7M35.9 591.8v1.1M35.9 591.8h0.7M35.9 592.9h1.5M37.8 593.7v0.3M37.8 593.7h3.0M37.8 594.0h3.0M38.2 594.3v0.3M38.2 594.3h2.6M38.2 594.6h2.6M37.1 594.5v0.4M37.1 594.5h1.1M37.1 594.9h3.7M36.3 593.9v0.8M36.3 593.9h1.4M36.3 594.7h0.8M33.4 592.3v1.9M33.4 592.3h2.5M33.4 594.3h2.9M38.8 595.4v0.3M38.8 595.4h2.0M38.8 595.7h2.0M38.1 595.6v0.6M38.1 595.6h0.7M38.1 596.2h2.7M37.4 595.1v0.8M37.4 595.1h3.4M37.4 595.9h0.7M39.2 597.4v0.3M39.2 597.4h1.6M39.2 597.7h1.6M38.5 597.0v0.6M38.5 597.0h2.3M38.5 597.6h0.7M37.8 597.3v0.6M37.8 597.3h0.7M37.8 597.9h3.0M37.1 596.7v0.9M37.1 596.7h3.7M37.1 597.6h0.7M35.2 595.5v1.6M35.2 595.5h2.2M35.2 597.1h1.9M37.5 598.1v0.3M37.5 598.1h3.3M37.5 598.5h3.3M38.2 598.6v0.3M38.2 598.6h2.6M38.2 599.0h2.6M36.6 598.3v0.5M36.6 598.3h0.9M36.6 598.8h1.6M34.5 596.3v2.3M34.5 596.3h0.7M34.5 598.6h2.1M37.6 599.4v0.4M37.6 599.4h3.2M37.6 599.9h3.2M36.9 599.6v0.6M36.9 599.6h0.7M36.9 600.3h3.9M36.2 600.0v0.7M36.2 600.0h0.7M36.2 600.7h4.6M38.2 601.0v0.4M38.2 601.0h2.6M38.2 601.4h2.6M37.5 601.2v0.7M37.5 601.2h0.7M37.5 601.9h3.3M36.7 601.5v0.7M36.7 601.5h0.8M36.7 602.3h4.1M34.8 600.3v1.6M34.8 600.3h1.5M34.8 601.9h2.0M38.2 602.5v0.3M38.2 602.5h2.6M38.2 602.9h2.6M37.0 602.7v0.6M37.0 602.7h1.1M37.0 603.3h3.8M33.6 601.1v1.9M33.6 601.1h1.1M33.6 603.0h3.4M37.5 603.6v0.4M37.5 603.6h3.3M37.5 603.9h3.3M37.8 604.3v0.3M37.8 604.3h3.0M37.8 604.7h3.0M36.8 603.7v0.8M36.8 603.7h0.7M36.8 604.5h1.0M32.6 602.0v2.1M32.6 602.0h1.0M32.6 604.1h4.2M31.9 597.4v5.7M31.9 597.4h2.6M31.9 603.1h0.7M37.9 605.0v0.4M37.9 605.0h2.9M37.9 605.5h2.9M38.4 605.9v0.3M38.4 605.9h2.4M38.4 606.2h2.4M36.8 605.2v0.8M36.8 605.2h1.1M36.8 606.0h1.6M38.1 606.6v0.4M38.1 606.6h2.7M38.1 607.0h2.7M35.5 605.6v1.2M35.5 605.6h1.3M35.5 606.8h2.6M37.5 607.3v0.3M37.5 607.3h3.3M37.5 607.6h3.3M37.5 607.9v0.3M37.5 607.9h3.3M37.5 608.3h3.3M36.8 607.5v0.6M36.8 607.5h0.7M36.8 608.1h0.7M36.1 607.8v1.0M36.1 607.8h0.7M36.1 608.8h4.7M33.3 606.2v2.1M33.3 606.2h2.2M33.3 608.3h2.8M39.3 610.0v0.3M39.3 610.0h1.5M39.3 610.3h1.5M38.6 609.8v0.4M38.6 609.8h2.2M38.6 610.2h0.7M37.9 609.5v0.4M37.9 609.5h2.9M37.9 610.0h0.7M37.2 609.8v0.9M37.2 609.8h0.7M37.2 610.7h3.6M36.5 609.2v1.0M36.5 609.2h4.3M36.5 610.2h0.7M37.4 611.2v0.5M37.4 611.2h3.4M37.4 611.7h3.4M36.7 611.4v0.7M36.7 611.4h0.7M36.7 612.2h4.1M35.3 609.7v2.1M35.3 609.7h1.2M35.3 611.8h1.4M31.3 607.2v3.5M31.3 607.2h2.0M31.3 610.8h4.0M29.9 600.3v8.8M29.9 600.3h2.0M29.9 609.0h1.4M27.6 593.3v11.3M27.6 593.3h5.8M27.6 604.6h2.4M38.4 612.7v0.3M38.4 612.7h2.4M38.4 613.0h2.4M37.7 612.5v0.3M37.7 612.5h3.1M37.7 612.9h0.7M36.4 612.7v0.8M36.4 612.7h1.3M36.4 613.5h4.4M38.1 613.8v0.3M38.1 613.8h2.7M38.1 614.1h2.7M38.5 614.9v0.4M38.5 614.9h2.3M38.5 615.2h2.3M37.8 614.5v0.6M37.8 614.5h3.0M37.8 615.1h0.7M36.0 614.0v0.8M36.0 614.0h2.1M36.0 614.8h1.8M34.8 613.1v1.3M34.8 613.1h1.6M34.8 614.4h1.2M37.3 615.6v0.4M37.3 615.6h3.5M37.3 616.0h3.5M37.7 616.4v0.3M37.7 616.4h3.1M37.7 616.8h3.1M37.0 616.6v0.5M37.0 616.6h0.7M37.0 617.1h3.8M38.3 617.5v0.3M38.3 617.5h2.5M38.3 617.8h2.5M37.3 617.7v0.3M37.3 617.7h1.0M37.3 618.0h3.5M35.7 616.9v1.0M35.7 616.9h1.3M35.7 617.8h1.6M35.0 615.8v1.5M35.0 615.8h2.4M35.0 617.4h0.7M34.3 616.6v1.8M34.3 616.6h0.7M34.3 618.4h6.5M32.1 613.7v3.7M32.1 613.7h2.8M32.1 617.5h2.2M38.3 618.7v0.4M38.3 618.7h2.5M38.3 619.1h2.5M37.7 619.5v0.4M37.7 619.5h3.1M37.7 619.9h3.1M36.8 618.9v0.8M36.8 618.9h1.5M36.8 619.7h0.9M37.7 620.3v0.4M37.7 620.3h3.1M37.7 620.8h3.1M35.3 619.3v1.3M35.3 619.3h1.5M35.3 620.5h2.5M31.4 615.6v4.3M31.4 615.6h0.7M31.4 619.9h3.9M38.3 621.5v0.3M38.3 621.5h2.5M38.3 621.9h2.5M37.6 621.1v0.6M37.6 621.1h3.2M37.6 621.7h0.7M37.6 622.1v0.4M37.6 622.1h3.2M37.6 622.5h3.2M36.9 621.4v0.9M36.9 621.4h0.7M36.9 622.3h0.7M35.8 621.9v1.0M35.8 621.9h1.1M35.8 622.9h5.0M38.1 623.3v0.4M38.1 623.3h2.7M38.1 623.7h2.7M34.9 622.4v1.1M34.9 622.4h1.0M34.9 623.5h3.3M38.2 624.1v0.3M38.2 624.1h2.6M38.2 624.4h2.6M36.7 624.3v0.4M36.7 624.3h1.5M36.7 624.7h4.1M38.9 625.2v0.3M38.9 625.2h1.9M38.9 625.5h1.9M38.2 625.3v0.3M38.2 625.3h0.7M38.2 625.6h2.6M37.5 625.5v0.4M37.5 625.5h0.7M37.5 625.8h3.3M36.7 625.7v0.6M36.7 625.7h0.8M36.7 626.2h4.1M36.0 624.5v1.5M36.0 624.5h0.7M36.0 625.9h0.7M38.6 626.6v0.3M38.6 626.6h2.2M38.6 626.9h2.2M37.9 626.8v0.4M37.9 626.8h0.7M37.9 627.2h2.9M35.3 625.2v1.8M35.3 625.2h0.7M35.3 627.0h2.6M39.8 628.8v0.3M39.8 628.8h1.0M39.8 629.1h1.0M39.1 628.4v0.5M39.1 628.4h1.7M39.1 629.0h0.7M38.4 628.2v0.5M38.4 628.2h2.4M38.4 628.7h0.7M37.7 627.9v0.5M37.7 627.9h3.1M37.7 628.5h0.7M37.0 627.5v0.7M37.0 627.5h3.8M37.0 628.2h0.7M35.2 627.9v1.5M35.2 627.9h1.8M35.2 629.4h5.6M37.4 630.2v0.3M37.4 630.2h3.4M37.4 630.5h3.4M36.7 629.8v0.6M36.7 629.8h4.1M36.7 630.4h0.7M36.0 630.1v0.7M36.0 630.1h0.7M36.0 630.8h4.8M34.2 628.6v1.8M34.2 628.6h1.0M34.2 630.5h1.8M33.2 626.1v3.4M33.2 626.1h2.2M33.2 629.5h1.0M38.3 631.3v0.3M38.3 631.3h2.5M38.3 631.6h2.5M37.2 631.1v0.4M37.2 631.1h3.6M37.2 631.5h1.1M37.5 632.1v0.5M37.5 632.1h3.3M37.5 632.6h3.3M38.1 633.0v0.3M38.1 633.0h2.7M38.1 633.3h2.7M36.3 632.4v0.8M36.3 632.4h1.2M36.3 633.2h1.8M34.3 631.3v1.5M34.3 631.3h2.9M34.3 632.8h2.0M30.9 627.8v4.2M30.9 627.8h2.3M30.9 632.0h3.4M28.7 622.9v7.0M28.7 622.9h6.2M28.7 629.9h2.2M28.0 617.8v8.7M28.0 617.8h3.4M28.0 626.4h0.7M39.6 634.1v0.3M39.6 634.1h1.2M39.6 634.4h1.2M38.9 633.9v0.3M38.9 633.9h1.9M38.9 634.3h0.7M38.2 634.1v0.5M38.2 634.1h0.7M38.2 634.6h2.6M37.5 634.4v0.6M37.5 634.4h0.7M37.5 635.0h3.3M36.8 633.7v1.0M36.8 633.7h4.0M36.8 634.7h0.7M37.8 635.7v0.5M37.8 635.7h3.0M37.8 636.2h3.0M37.1 635.4v0.6M37.1 635.4h3.7M37.1 636.0h0.7M36.1 634.2v1.5M36.1 634.2h0.7M36.1 635.7h1.0M38.7 636.7v0.3M38.7 636.7h2.1M38.7 637.0h2.1M38.0 636.8v0.4M38.0 636.8h0.7M38.0 637.2h2.8M37.3 637.0v0.4M37.3 637.0h0.7M37.3 637.5h3.5M39.2 637.9v0.3M39.2 637.9h1.6M39.2 638.2h1.6M38.5 637.7v0.4M38.5 637.7h2.3M38.5 638.1h0.7M37.8 637.9v0.7M37.8 637.9h0.7M37.8 638.5h3.0M36.8 638.9v0.4M36.8 638.9h4.0M36.8 639.3h4.0M36.0 638.2v0.9M36.0 638.2h1.9M36.0 639.1h0.9M36.7 640.1v0.5M36.7 640.1h4.1M36.7 640.5h4.1M36.0 639.7v0.6M36.0 639.7h4.8M36.0 640.3h0.7M35.3 638.7v1.4M35.3 638.7h0.7M35.3 640.0h0.7M39.4 641.4v0.3M39.4 641.4h1.4M39.4 641.7h1.4M38.7 641.3v0.3M38.7 641.3h2.1M38.7 641.6h0.7M38.7 642.0v0.3M38.7 642.0h2.1M38.7 642.3h2.1M38.0 641.4v0.7M38.0 641.4h0.7M38.0 642.1h0.7M37.3 641.0v0.8M37.3 641.0h3.5M37.3 641.8h0.7M36.6 641.4v1.4M36.6 641.4h0.7M36.6 642.8h4.2M34.6 639.3v2.8M34.6 639.3h0.7M34.6 642.1h2.0M33.9 637.3v3.5M33.9 637.3h3.5M33.9 640.7h0.7M38.5 643.7v0.3M38.5 643.7h2.3M38.5 644.0h2.3M37.8 643.8v0.4M37.8 643.8h0.7M37.8 644.3h3.0M36.8 643.4v0.7M36.8 643.4h4.0M36.8 644.0h1.0M38.3 644.8v0.3M38.3 644.8h2.5M38.3 645.1h2.5M37.2 644.9v0.5M37.2 644.9h1.1M37.2 645.4h3.6M36.5 644.5v0.7M36.5 644.5h4.3M36.5 645.2h0.7M34.9 643.7v1.1M34.9 643.7h2.0M34.9 644.8h1.6M32.9 639.0v5.3M32.9 639.0h1.0M32.9 644.3h2.0M32.0 634.9v6.7M32.0 634.9h4.1M32.0 641.6h0.9M38.4 645.8v0.3M38.4 645.8h2.4M38.4 646.1h2.4M38.8 646.4v0.4M38.8 646.4h2.0M38.8 646.8h2.0M38.1 646.2v0.4M38.1 646.2h2.7M38.1 646.6h0.7M35.8 646.0v0.5M35.8 646.0h2.6M35.8 646.4h2.3M38.2 647.1v0.3M38.2 647.1h2.6M38.2 647.4h2.6M37.5 647.2v0.6M37.5 647.2h0.7M37.5 647.8h3.3M34.9 646.2v1.3M34.9 646.2h0.9M34.9 647.5h2.6M38.5 648.3v0.3M38.5 648.3h2.3M38.5 648.6h2.3M37.8 648.4v0.4M37.8 648.4h0.7M37.8 648.8h3.0M37.8 649.1v0.4M37.8 649.1h3.0M37.8 649.5h3.0M37.1 648.6v0.7M37.1 648.6h0.7M37.1 649.3h0.7M36.4 649.0v0.9M36.4 649.0h0.7M36.4 649.8h4.4M33.2 646.8v2.6M33.2 646.8h1.7M33.2 649.4h3.1M31.3 638.3v9.9M31.3 638.3h0.7M31.3 648.1h1.9M25.7 622.1v21.1M25.7 622.1h2.3M25.7 643.2h5.6M25.0 599.0v33.7M25.0 599.0h2.6M25.0 632.6h0.7M22.0 569.9v46.0M22.0 569.9h4.5M22.0 615.8h3.0M19.5 531.9v60.9M19.5 531.9h4.5M19.5 592.8h2.5M38.8 650.8v0.3M38.8 650.8h2.0M38.8 651.2h2.0M38.1 650.5v0.5M38.1 650.5h2.7M38.1 651.0h0.7M37.4 650.2v0.6M37.4 650.2h3.4M37.4 650.8h0.7M37.7 651.6v0.3M37.7 651.6h3.1M37.7 651.9h3.1M35.4 650.5v1.3M35.4 650.5h2.0M35.4 651.8h2.3M37.9 652.8v0.3M37.9 652.8h2.9M37.9 653.1h2.9M37.2 652.4v0.6M37.2 652.4h3.6M37.2 653.0h0.7M38.4 653.7v0.3M38.4 653.7h2.4M38.4 654.0h2.4M37.2 653.3v0.5M37.2 653.3h3.6M37.2 653.9h1.3M36.5 652.7v0.9M36.5 652.7h0.7M36.5 653.6h0.7M38.4 654.7v0.3M38.4 654.7h2.4M38.4 655.0h2.4M37.7 654.8v0.4M37.7 654.8h0.7M37.7 655.2h3.1M36.3 654.3v0.7M36.3 654.3h4.5M36.3 655.0h1.4M35.6 653.1v1.6M35.6 653.1h0.9M35.6 654.7h0.7M34.7 651.1v2.8M34.7 651.1h0.7M34.7 653.9h0.9M38.2 655.5v0.4M38.2 655.5h2.6M38.2 655.9h2.6M38.6 656.5v0.3M38.6 656.5h2.2M38.6 656.8h2.2M37.4 656.2v0.4M37.4 656.2h3.4M37.4 656.7h1.1M36.7 656.5v0.7M36.7 656.5h0.7M36.7 657.2h4.1M36.0 655.7v1.1M36.0 655.7h2.2M36.0 656.8h0.7M33.5 652.5v3.8M33.5 652.5h1.2M33.5 656.3h2.5M37.5 657.5v0.3M37.5 657.5h3.3M37.5 657.8h3.3M39.0 659.0v0.3M39.0 659.0h1.8M39.0 659.2h1.8M38.3 658.6v0.6M38.3 658.6h2.5M38.3 659.1h0.7M37.6 658.2v0.7M37.6 658.2h3.2M37.6 658.8h0.7M36.8 657.6v0.9M36.8 657.6h0.8M36.8 658.5h0.8M37.6 659.8v0.4M37.6 659.8h3.2M37.6 660.2h3.2M36.9 659.5v0.5M36.9 659.5h3.9M36.9 660.0h0.7M38.9 660.8v0.3M38.9 660.8h1.9M38.9 661.1h1.9M38.2 660.9v0.5M38.2 660.9h0.7M38.2 661.4h2.6M36.9 660.5v0.6M36.9 660.5h3.9M36.9 661.1h1.3M36.2 659.8v1.1M36.2 659.8h0.7M36.2 660.8h0.7M38.4 661.7v0.3M38.4 661.7h2.4M38.4 662.1h2.4M37.3 661.9v0.3M37.3 661.9h1.1M37.3 662.2h3.5M36.6 662.1v0.5M36.6 662.1h0.7M36.6 662.5h4.2M35.5 660.3v2.0M35.5 660.3h0.7M35.5 662.3h1.0M32.5 658.1v3.2M32.5 658.1h4.3M32.5 661.3h3.1M39.1 663.3v0.3M39.1 663.3h1.7M39.1 663.6h1.7M38.4 663.1v0.3M38.4 663.1h2.4M38.4 663.4h0.7M37.7 662.9v0.4M37.7 662.9h3.1M37.7 663.3h0.7M37.0 663.1v1.0M37.0 663.1h0.7M37.0 664.0h3.8M36.3 663.5v0.9M36.3 663.5h0.7M36.3 664.5h4.5M31.4 659.7v4.3M31.4 659.7h1.1M31.4 664.0h4.9M37.4 664.8v0.3M37.4 664.8h3.4M37.4 665.1h3.4M37.0 665.7v0.4M37.0 665.7h3.8M37.0 666.1h3.8M36.3 665.4v0.5M36.3 665.4h4.5M36.3 665.9h0.7M35.5 665.0v0.7M35.5 665.0h2.0M35.5 665.6h0.9M30.7 661.8v3.5M30.7 661.8h0.7M30.7 665.3h4.7M26.7 654.4v9.2M26.7 654.4h6.8M26.7 663.6h4.0M38.5 666.6v0.3M38.5 666.6h2.3M38.5 666.9h2.3M37.8 666.8v0.5M37.8 666.8h0.7M37.8 667.3h3.0M37.1 666.4v0.6M37.1 666.4h3.7M37.1 667.0h0.7M38.4 667.5v0.3M38.4 667.5h2.4M38.4 667.8h2.4M37.7 667.7v0.4M37.7 667.7h0.7M37.7 668.0h3.1M38.6 668.2v0.3M38.6 668.2h2.2M38.6 668.5h2.2M36.3 667.8v0.5M36.3 667.8h1.3M36.3 668.3h2.3M38.0 668.9v0.3M38.0 668.9h2.8M38.0 669.2h2.8M37.2 669.5v0.4M37.2 669.5h3.6M37.2 669.9h3.6M36.5 669.1v0.6M36.5 669.1h1.5M36.5 669.7h0.7M35.3 668.1v1.3M35.3 668.1h1.1M35.3 669.4h1.2M34.6 666.7v2.0M34.6 666.7h2.5M34.6 668.7h0.7M38.1 670.8v0.5M38.1 670.8h2.7M38.1 671.3h2.7M37.4 671.1v0.7M37.4 671.1h0.7M37.4 671.8h3.4M36.4 670.3v1.1M36.4 670.3h4.4M36.4 671.4h1.0M33.9 667.7v3.2M33.9 667.7h0.7M33.9 670.9h2.5M38.6 672.5v0.3M38.6 672.5h2.2M38.6 672.8h2.2M37.9 672.2v0.5M37.9 672.2h2.9M37.9 672.7h0.7M37.2 672.4v0.7M37.2 672.4h0.7M37.2 673.2h3.6M38.1 673.5v0.3M38.1 673.5h2.7M38.1 673.8h2.7M36.5 672.8v0.8M36.5 672.8h0.7M36.5 673.6h1.6M32.1 669.3v3.9M32.1 669.3h1.8M32.1 673.2h4.4M38.6 675.0v0.4M38.6 675.0h2.2M38.6 675.4h2.2M37.9 674.5v0.7M37.9 674.5h2.9M37.9 675.2h0.7M37.2 674.1v0.8M37.2 674.1h3.6M37.2 674.8h0.7M37.7 676.2v0.3M37.7 676.2h3.1M37.7 676.5h3.1M37.0 676.0v0.4M37.0 676.0h3.8M37.0 676.4h0.7M36.2 675.6v0.6M36.2 675.6h4.6M36.2 676.2h0.8M38.3 677.0v0.3M38.3 677.0h2.5M38.3 677.3h2.5M37.6 677.2v0.4M37.6 677.2h0.7M37.6 677.6h3.2M38.7 678.5v0.4M38.7 678.5h2.1M38.7 678.8h2.1M38.0 678.6v0.5M38.0 678.6h0.7M38.0 679.1h2.8M37.3 678.0v0.8M37.3 678.0h3.5M37.3 678.9h0.7M36.2 677.4v1.1M36.2 677.4h1.4M36.2 678.4h1.1M35.5 675.9v2.0M35.5 675.9h0.7M35.5 677.9h0.7M32.1 674.5v2.4M32.1 674.5h5.1M32.1 676.9h3.4M38.1 680.2v0.4M38.1 680.2h2.7M38.1 680.6h2.7M37.4 679.9v0.5M37.4 679.9h3.4M37.4 680.4h0.7M36.7 679.5v0.7M36.7 679.5h4.1M36.7 680.2h0.7M36.0 679.8v1.2M36.0 679.8h0.7M36.0 681.0h4.8M38.4 681.3v0.3M38.4 681.3h2.4M38.4 681.6h2.4M35.3 680.4v1.1M35.3 680.4h0.7M35.3 681.5h3.1M31.2 675.7v5.3M31.2 675.7h0.9M31.2 680.9h4.2M37.4 682.2v0.3M37.4 682.2h3.4M37.4 682.5h3.4M38.4 682.9v0.3M38.4 682.9h2.4M38.4 683.2h2.4M37.7 682.7v0.4M37.7 682.7h3.1M37.7 683.1h0.7M36.6 682.4v0.5M36.6 682.4h0.9M36.6 682.9h1.2M35.9 681.8v0.8M35.9 681.8h4.9M35.9 682.6h0.7M38.2 683.9v0.4M38.2 683.9h2.6M38.2 684.4h2.6M37.5 683.5v0.6M37.5 683.5h3.3M37.5 684.1h0.7M37.2 684.7v0.4M37.2 684.7h3.6M37.2 685.1h3.6M37.6 685.6v0.3M37.6 685.6h3.2M37.6 685.8h3.2M39.1 686.3v0.3M39.1 686.3h1.7M39.1 686.6h1.7M38.4 686.0v0.4M38.4 686.0h2.4M38.4 686.5h0.7M38.4 687.0v0.3M38.4 687.0h2.4M38.4 687.3h2.4M37.7 686.3v0.8M37.7 686.3h0.7M37.7 687.1h0.7M38.4 688.0v0.4M38.4 688.0h2.4M38.4 688.4h2.4M37.7 687.5v0.7M37.7 687.5h3.1M37.7 688.2h0.7M37.0 686.7v1.2M37.0 686.7h0.7M37.0 687.9h0.7M36.3 685.7v1.6M36.3 685.7h1.3M36.3 687.3h0.7M35.6 684.9v1.5M35.6 684.9h1.6M35.6 686.5h0.7M34.1 683.8v1.9M34.1 683.8h3.4M34.1 685.7h1.4M37.3 688.8v0.4M37.3 688.8h3.5M37.3 689.1h3.5M38.6 689.6v0.3M38.6 689.6h2.2M38.6 689.9h2.2M37.9 689.3v0.4M37.9 689.3h2.9M37.9 689.7h0.7M36.6 688.9v0.6M36.6 688.9h0.7M36.6 689.5h1.3M33.4 684.8v4.5M33.4 684.8h0.7M33.4 689.2h3.2M31.8 682.2v4.8M31.8 682.2h4.0M31.8 687.0h1.6M29.2 678.3v6.3M29.2 678.3h2.0M29.2 684.6h2.7M27.2 671.2v10.2M27.2 671.2h4.9M27.2 681.5h2.0M26.0 659.0v17.4M26.0 659.0h0.7M26.0 676.4h1.2M37.8 690.6v0.3M37.8 690.6h3.0M37.8 690.9h3.0M39.6 691.5v0.3M39.6 691.5h1.2M39.6 691.8h1.2M38.9 691.3v0.3M38.9 691.3h1.9M38.9 691.7h0.7M38.2 691.5v0.6M38.2 691.5h0.7M38.2 692.1h2.6M37.5 691.1v0.7M37.5 691.1h3.3M37.5 691.8h0.7M36.8 690.7v0.7M36.8 690.7h1.1M36.8 691.4h0.8M35.5 690.2v0.9M35.5 690.2h5.3M35.5 691.1h1.3M37.8 692.3v0.3M37.8 692.3h3.0M37.8 692.6h3.0M36.8 692.5v0.5M36.8 692.5h0.9M36.8 693.0h4.0M37.7 693.3v0.3M37.7 693.3h3.1M37.7 693.6h3.1M38.2 693.9v0.3M38.2 693.9h2.6M38.2 694.2h2.6M36.4 693.4v0.6M36.4 693.4h1.3M36.4 694.0h1.8M35.5 692.7v1.0M35.5 692.7h1.3M35.5 693.7h0.9M34.8 690.6v2.6M34.8 690.6h0.7M34.8 693.2h0.7M38.3 695.5v0.4M38.3 695.5h2.5M38.3 695.8h2.5M37.0 695.1v0.5M37.0 695.1h3.8M37.0 695.6h1.3M36.3 694.7v0.7M36.3 694.7h4.5M36.3 695.4h0.7M34.1 691.9v3.1M34.1 691.9h0.7M34.1 695.0h2.3M38.1 696.3v0.4M38.1 696.3h2.7M38.1 696.7h2.7M37.1 696.5v0.6M37.1 696.5h1.1M37.1 697.0h3.7M37.9 697.5v0.3M37.9 697.5h2.9M37.9 697.8h2.9M37.3 698.1v0.4M37.3 698.1h3.5M37.3 698.4h3.5M37.7 698.8v0.4M37.7 698.8h3.1M37.7 699.2h3.1M36.6 698.2v0.8M36.6 698.2h0.7M36.6 699.0h1.1M35.9 697.6v1.0M35.9 697.6h2.0M35.9 698.6h0.7M35.2 696.7v1.4M35.2 696.7h1.8M35.2 698.1h0.7M39.5 700.2v0.3M39.5 700.2h1.3M39.5 700.5h1.3M38.8 700.0v0.3M38.8 700.0h2.0M38.8 700.3h0.7M38.1 699.7v0.5M38.1 699.7h2.7M38.1 700.1h0.7M37.4 699.9v0.9M37.4 699.9h0.7M37.4 700.8h3.4M38.5 701.5v0.3M38.5 701.5h2.3M38.5 701.8h2.3M37.8 701.2v0.4M37.8 701.2h3.0M37.8 701.6h0.7M38.3 702.0v0.3M38.3 702.0h2.5M38.3 702.4h2.5M37.6 702.2v0.6M37.6 702.2h0.7M37.6 702.8h3.2M36.9 701.4v1.1M36.9 701.4h0.9M36.9 702.5h0.7M36.0 700.4v1.6M36.0 700.4h1.4M36.0 701.9h1.0M38.3 703.4v0.4M38.3 703.4h2.5M38.3 703.8h2.5M37.6 703.1v0.5M37.6 703.1h3.2M37.6 703.6h0.7M34.5 701.1v2.2M34.5 701.1h1.5M34.5 703.4h3.1M38.8 704.5v0.4M38.8 704.5h2.0M38.8 704.9h2.0M38.1 704.3v0.4M38.1 704.3h2.7M38.1 704.7h0.7M37.4 704.5v0.8M37.4 704.5h0.7M37.4 705.3h3.4M33.8 702.3v2.7M33.8 702.3h0.7M33.8 704.9h3.6M38.2 705.7v0.4M38.2 705.7h2.6M38.2 706.1h2.6M38.3 706.8v0.4M38.3 706.8h2.5M38.3 707.2h2.5M37.6 706.4v0.6M37.6 706.4h3.2M37.6 707.0h0.7M36.8 705.9v0.8M36.8 705.9h1.5M36.8 706.7h0.8M37.9 707.8v0.4M37.9 707.8h2.9M37.9 708.3h2.9M37.2 708.0v0.6M37.2 708.0h0.7M37.2 708.6h3.6M38.8 709.2v0.3M38.8 709.2h2.0M38.8 709.4h2.0M38.1 708.9v0.4M38.1 708.9h2.7M38.1 709.3h0.7M35.5 708.3v0.8M35.5 708.3h1.7M35.5 709.1h2.6M34.8 707.5v1.2M34.8 707.5h6.0M34.8 708.7h0.7M33.8 706.3v1.8M33.8 706.3h3.0M33.8 708.1h1.0M33.1 703.6v3.6M33.1 703.6h0.7M33.1 707.2h0.7M31.9 697.4v8.0M31.9 697.4h3.3M31.9 705.4h1.2M30.1 693.5v7.9M30.1 693.5h4.0M30.1 701.4h1.8M38.4 709.8v0.4M38.4 709.8h2.4M38.4 710.2h2.4M37.7 710.0v0.7M37.7 710.0h0.7M37.7 710.7h3.1M37.0 710.3v0.8M37.0 710.3h0.7M37.0 711.1h3.8M38.7 711.6v0.3M38.7 711.6h2.1M38.7 711.9h2.1M38.0 711.5v0.3M38.0 711.5h2.8M38.0 711.8h0.7M36.3 710.7v0.9M36.3 710.7h0.7M36.3 711.6h1.7M38.4 712.3v0.3M38.4 712.3h2.4M38.4 712.6h2.4M37.4 712.5v0.5M37.4 712.5h1.0M37.4 712.9h3.4M38.1 713.4v0.3M38.1 713.4h2.7M38.1 713.7h2.7M37.4 713.6v0.4M37.4 713.6h0.7M37.4 714.0h3.4M36.7 712.7v1.1M36.7 712.7h0.7M36.7 713.8h0.7M36.0 713.2v1.0M36.0 713.2h0.7M36.0 714.3h4.8M37.3 714.6v0.4M37.3 714.6h3.5M37.3 715.0h3.5M36.6 714.8v0.7M36.6 714.8h0.7M36.6 715.4h4.2M37.7 716.3v0.5M37.7 716.3h3.1M37.7 716.7h3.1M36.8 715.9v0.7M36.8 715.9h4.0M36.8 716.5h0.9M38.1 717.4v0.3M38.1 717.4h2.7M38.1 717.8h2.7M37.3 717.1v0.5M37.3 717.1h3.5M37.3 717.6h0.8M36.1 716.2v1.2M36.1 716.2h0.7M36.1 717.3h1.3M38.9 718.1v0.3M38.9 718.1h1.9M38.9 718.4h1.9M38.2 718.2v0.6M38.2 718.2h0.7M38.2 718.8h2.6M37.5 717.9v0.6M37.5 717.9h3.3M37.5 718.5h0.7M37.7 719.3v0.3M37.7 719.3h3.1M37.7 719.6h3.1M36.8 718.2v1.2M36.8 718.2h0.7M36.8 719.5h0.9M36.1 718.8v1.1M36.1 718.8h0.7M36.1 719.9h4.7M35.4 716.8v2.6M35.4 716.8h0.7M35.4 719.4h0.7M34.7 715.1v3.0M34.7 715.1h1.9M34.7 718.1h0.7M33.8 713.7v2.8M33.8 713.7h2.2M33.8 716.6h0.8M38.3 720.3v0.3M38.3 720.3h2.5M38.3 720.6h2.5M37.6 720.5v0.4M37.6 720.5h0.7M37.6 720.9h3.2M38.6 721.4v0.4M38.6 721.4h2.2M38.6 721.8h2.2M37.9 721.2v0.4M37.9 721.2h2.9M37.9 721.6h0.7M35.4 720.7v0.7M35.4 720.7h2.3M35.4 721.4h2.6M33.1 715.2v5.9M33.1 715.2h0.7M33.1 721.0h2.2M30.2 711.2v6.9M30.2 711.2h6.1M30.2 718.1h2.9M25.2 697.4v17.2M25.2 697.4h4.9M25.2 714.6h5.0M38.1 722.1v0.4M38.1 722.1h2.7M38.1 722.5h2.7M38.6 723.3v0.3M38.6 723.3h2.2M38.6 723.6h2.2M37.9 722.9v0.5M37.9 722.9h2.9M37.9 723.5h0.7M37.2 722.3v0.9M37.2 722.3h0.9M37.2 723.2h0.7M38.5 724.2v0.3M38.5 724.2h2.3M38.5 724.5h2.3M37.8 723.8v0.5M37.8 723.8h3.0M37.8 724.3h0.7M38.3 724.6v0.3M38.3 724.6h2.5M38.3 724.9h2.5M37.1 724.1v0.7M37.1 724.1h0.7M37.1 724.7h1.2M37.9 725.5v0.3M37.9 725.5h2.9M37.9 725.9h2.9M37.1 725.2v0.5M37.1 725.2h3.7M37.1 725.7h0.8M36.4 724.4v1.1M36.4 724.4h0.7M36.4 725.5h0.7M37.6 726.2v0.3M37.6 726.2h3.2M37.6 726.5h3.2M35.1 724.9v1.4M35.1 724.9h1.2M35.1 726.4h2.5M38.0 726.7v0.3M38.0 726.7h2.8M38.0 727.0h2.8M37.7 727.4v0.4M37.7 727.4h3.1M37.7 727.8h3.1M37.0 727.6v0.6M37.0 727.6h0.7M37.0 728.2h3.8M36.2 726.8v1.1M36.2 726.8h1.7M36.2 727.9h0.7M38.4 728.5v0.3M38.4 728.5h2.4M38.4 728.8h2.4M38.4 729.2v0.3M38.4 729.2h2.4M38.4 729.4h2.4M37.7 728.7v0.6M37.7 728.7h0.7M37.7 729.3h0.7M35.4 727.4v1.6M35.4 727.4h0.8M35.4 729.0h2.3M34.4 725.6v2.5M34.4 725.6h0.7M34.4 728.2h1.0M33.7 722.7v4.2M33.7 722.7h3.5M33.7 726.9h0.7M37.6 729.7v0.3M37.6 729.7h3.2M37.6 730.0h3.2M37.8 730.3v0.3M37.8 730.3h3.0M37.8 730.6h3.0M36.9 729.9v0.6M36.9 729.9h0.7M36.9 730.5h0.9M37.9 731.0v0.3M37.9 731.0h2.9M37.9 731.2h2.9M39.6 731.9v0.3M39.6 731.9h1.2M39.6 732.2h1.2M38.9 731.7v0.3M38.9 731.7h1.9M38.9 732.0h0.7M38.2 731.9v0.7M38.2 731.9h0.7M38.2 732.6h2.6M37.5 732.2v0.6M37.5 732.2h0.7M37.5 732.8h3.3M36.8 731.5v1.0M36.8 731.5h4.0M36.8 732.5h0.7M36.1 731.1v0.9M36.1 731.1h1.8M36.1 732.0h0.7M34.0 730.2v1.4M34.0 730.2h2.9M34.0 731.6h2.1M32.9 724.8v6.0M32.9 724.8h0.8M32.9 730.9h1.1M39.5 733.2v0.3M39.5 733.2h1.3M39.5 733.5h1.3M38.8 733.4v0.4M38.8 733.4h0.7M38.8 733.8h2.0M38.1 733.6v0.4M38.1 733.6h0.7M38.1 734.0h2.7M37.4 733.8v0.5M37.4 733.8h0.7M37.4 734.3h3.4M36.7 734.7v0.5M36.7 734.7h4.1M36.7 735.2h4.1M35.9 734.0v0.9M35.9 734.0h1.5M35.9 734.9h0.8M38.0 736.2v0.4M38.0 736.2h2.8M38.0 736.5h2.8M37.3 735.7v0.6M37.3 735.7h3.5M37.3 736.4h0.7M37.3 736.9v0.3M37.3 736.9h3.5M37.3 737.3h3.5M36.6 736.1v1.0M36.6 736.1h0.7M36.6 737.1h0.7M35.2 734.5v2.1M35.2 734.5h0.7M35.2 736.6h1.4M37.2 737.7v0.4M37.2 737.7h3.6M37.2 738.0h3.6M36.3 737.9v0.6M36.3 737.9h0.9M36.3 738.5h4.5M38.4 739.4v0.3M38.4 739.4h2.4M38.4 739.7h2.4M37.5 739.6v0.5M37.5 739.6h0.8M37.5 740.0h3.3M36.8 739.0v0.8M36.8 739.0h4.0M36.8 739.8h0.7M34.5 738.2v1.2M34.5 738.2h1.9M34.5 739.4h2.4M38.2 740.2v0.3M38.2 740.2h2.6M38.2 740.5h2.6M37.3 740.9v0.4M37.3 740.9h3.5M37.3 741.3h3.5M36.6 740.4v0.7M36.6 740.4h1.6M36.6 741.1h0.7M38.2 742.7v0.3M38.2 742.7h2.6M38.2 743.1h2.6M37.3 742.3v0.6M37.3 742.3h3.5M37.3 742.9h0.9M36.6 741.8v0.8M36.6 741.8h4.2M36.6 742.6h0.7M35.7 740.7v1.5M35.7 740.7h0.9M35.7 742.2h0.9M32.6 738.8v2.7M32.6 738.8h1.9M32.6 741.5h3.1M31.9 735.5v4.6M31.9 735.5h3.3M31.9 740.1h0.7M38.2 743.5v0.3M38.2 743.5h2.6M38.2 743.8h2.6M37.5 743.2v0.4M37.5 743.2h3.3M37.5 743.6h0.7M38.7 744.3v0.3M38.7 744.3h2.1M38.7 744.6h2.1M38.0 744.4v0.5M38.0 744.4h0.7M38.0 744.9h2.8M36.5 744.0v0.6M36.5 744.0h4.3M36.5 744.6h1.5M35.5 743.4v0.9M35.5 743.4h2.1M35.5 744.3h1.0M31.2 737.8v6.1M31.2 737.8h0.7M31.2 743.9h4.3M27.0 727.8v13.0M27.0 727.8h5.9M27.0 740.9h4.2M24.5 706.0v28.3M24.5 706.0h0.7M24.5 734.4h2.5M21.0 667.7v52.5M21.0 667.7h5.0M21.0 720.2h3.5M38.2 745.3v0.4M38.2 745.3h2.6M38.2 745.7h2.6M36.5 745.5v0.5M36.5 745.5h1.7M36.5 745.9h4.3M38.7 746.7v0.3M38.7 746.7h2.1M38.7 747.0h2.1M38.0 746.9v0.4M38.0 746.9h0.7M38.0 747.3h2.8M37.3 746.3v0.8M37.3 746.3h3.5M37.3 747.1h0.7M36.6 746.7v1.0M36.6 746.7h0.7M36.6 747.7h4.2M34.6 745.7v1.5M34.6 745.7h1.9M34.6 747.2h2.1M37.9 748.4v0.3M37.9 748.4h2.9M37.9 748.7h2.9M37.1 748.1v0.4M37.1 748.1h3.7M37.1 748.5h0.8M37.9 749.4v0.3M37.9 749.4h2.9M37.9 749.7h2.9M37.2 749.0v0.5M37.2 749.0h3.6M37.2 749.6h0.7M36.5 749.3v0.8M36.5 749.3h0.7M36.5 750.0h4.3M37.7 750.7v0.3M37.7 750.7h3.1M37.7 751.1h3.1M37.0 750.4v0.5M37.0 750.4h3.8M37.0 750.9h0.7M35.8 749.7v1.0M35.8 749.7h0.7M35.8 750.7h1.2M37.4 751.5v0.4M37.4 751.5h3.4M37.4 751.9h3.4M37.4 752.2v0.4M37.4 752.2h3.4M37.4 752.6h3.4M36.3 751.7v0.7M36.3 751.7h1.2M36.3 752.4h1.1M35.1 750.2v1.9M35.1 750.2h0.7M35.1 752.0h1.2M34.4 748.3v2.8M34.4 748.3h2.7M34.4 751.1h0.7M38.2 753.4v0.4M38.2 753.4h2.6M38.2 753.8h2.6M37.5 753.0v0.6M37.5 753.0h3.3M37.5 753.6h0.7M33.3 749.7v3.6M33.3 749.7h1.2M33.3 753.3h4.2M38.2 754.1v0.3M38.2 754.1h2.6M38.2 754.4h2.6M37.1 754.3v0.4M37.1 754.3h1.1M37.1 754.7h3.7M38.0 754.9v0.3M38.0 754.9h2.8M38.0 755.3h2.8M38.5 755.6v0.3M38.5 755.6h2.3M38.5 755.9h2.3M37.8 755.7v0.5M37.8 755.7h0.7M37.8 756.2h3.0M37.1 755.1v0.9M37.1 755.1h0.9M37.1 756.0h0.7M35.1 754.5v1.1M35.1 754.5h2.0M35.1 755.5h2.0M31.8 751.5v3.5M31.8 751.5h1.5M31.8 755.0h3.3M38.0 756.7v0.5M38.0 756.7h2.8M38.0 757.2h2.8M37.9 757.5v0.4M37.9 757.5h2.9M37.9 757.9h2.9M38.4 758.4v0.3M38.4 758.4h2.4M38.4 758.7h2.4M37.3 758.5v0.4M37.3 758.5h1.1M37.3 758.9h3.5M36.6 758.7v0.6M36.6 758.7h0.7M36.6 759.4h4.2M35.9 757.7v1.4M35.9 757.7h2.0M35.9 759.0h0.7M35.2 758.4v1.4M35.2 758.4h0.7M35.2 759.8h5.6M34.2 756.9v2.2M34.2 756.9h3.8M34.2 759.1h0.9M38.5 760.4v0.3M38.5 760.4h2.3M38.5 760.7h2.3M37.5 760.6v0.4M37.5 760.6h1.0M37.5 761.0h3.3M36.8 760.1v0.7M36.8 760.1h4.0M36.8 760.8h0.7M38.2 761.4v0.3M38.2 761.4h2.6M38.2 761.7h2.6M37.5 761.5v0.5M37.5 761.5h0.7M37.5 762.1h3.3M37.5 762.6v0.3M37.5 762.6h3.3M37.5 762.9h3.3M36.8 761.8v0.9M36.8 761.8h0.7M36.8 762.7h0.7M35.5 760.5v1.8M35.5 760.5h1.3M35.5 762.3h1.3M33.5 758.0v3.4M33.5 758.0h0.7M33.5 761.4h2.0M31.1 753.3v6.4M31.1 753.3h0.7M31.1 759.7h2.5M30.4 746.4v10.0M30.4 746.4h4.2M30.4 756.5h0.7M37.0 763.1v0.4M37.0 763.1h3.8M37.0 763.5h3.8M38.8 764.3v0.3M38.8 764.3h2.0M38.8 764.6h2.0M38.1 764.0v0.4M38.1 764.0h2.7M38.1 764.5h0.7M37.4 763.8v0.4M37.4 763.8h3.4M37.4 764.2h0.7M36.0 763.3v0.7M36.0 763.3h1.0M36.0 764.0h1.3M35.3 763.7v1.3M35.3 763.7h0.7M35.3 765.0h5.5M38.5 765.7v0.3M38.5 765.7h2.3M38.5 766.0h2.3M37.8 765.4v0.4M37.8 765.4h3.0M37.8 765.8h0.7M38.5 766.7v0.4M38.5 766.7h2.3M38.5 767.1h2.3M37.8 766.3v0.6M37.8 766.3h3.0M37.8 766.9h0.7M35.1 765.6v1.0M35.1 765.6h2.8M35.1 766.6h2.7M32.7 764.3v1.8M32.7 764.3h2.6M32.7 766.1h2.3M25.5 751.5v13.8M25.5 751.5h4.8M25.5 765.2h7.2M37.7 767.5v0.4M37.7 767.5h3.1M37.7 767.9h3.1M39.1 768.3v0.3M39.1 768.3h1.7M39.1 768.6h1.7M38.4 768.4v0.3M38.4 768.4h0.7M38.4 768.8h2.4M38.1 769.0v0.3M38.1 769.0h2.7M38.1 769.3h2.7M36.4 768.6v0.6M36.4 768.6h2.0M36.4 769.2h1.8M35.4 767.7v1.2M35.4 767.7h2.3M35.4 768.9h1.0M37.7 770.1v0.3M37.7 770.1h3.1M37.7 770.3h3.1M37.0 769.6v0.6M37.0 769.6h3.8M37.0 770.2h0.7M36.3 769.9v0.7M36.3 769.9h0.7M36.3 770.7h4.5M37.9 771.0v0.3M37.9 771.0h2.9M37.9 771.4h2.9M38.3 771.9v0.3M38.3 771.9h2.5M38.3 772.2h2.5M37.6 771.6v0.5M37.6 771.6h3.2M37.6 772.1h0.7M36.7 771.2v0.7M36.7 771.2h1.2M36.7 771.9h0.9M34.9 770.3v1.2M34.9 770.3h1.5M34.9 771.5h1.8M33.8 768.3v2.6M33.8 768.3h1.6M33.8 770.9h1.1M38.6 772.5v0.3M38.6 772.5h2.2M38.6 772.8h2.2M38.2 773.4v0.3M38.2 773.4h2.6M38.2 773.8h2.6M37.5 773.1v0.5M37.5 773.1h3.3M37.5 773.6h0.7M36.7 773.3v0.8M36.7 773.3h0.8M36.7 774.2h4.1M36.0 772.6v1.1M36.0 772.6h2.6M36.0 773.7h0.7M38.2 774.6v0.4M38.2 774.6h2.6M38.2 775.0h2.6M36.9 774.8v0.4M36.9 774.8h1.4M36.9 775.3h3.9M37.9 775.6v0.3M37.9 775.6h2.9M37.9 775.9h2.9M35.9 775.0v0.7M35.9 775.0h1.0M35.9 775.7h2.1M38.7 776.9v0.3M38.7 776.9h2.1M38.7 777.2h2.1M38.0 776.5v0.5M38.0 776.5h2.8M38.0 777.0h0.7M37.3 776.2v0.6M37.3 776.2h3.5M37.3 776.8h0.7M38.3 777.5v0.3M38.3 777.5h2.5M38.3 777.8h2.5M36.6 776.5v1.2M36.6 776.5h0.7M36.6 777.6h1.7M34.9 775.4v1.7M34.9 775.4h1.0M34.9 777.0h1.7M33.6 773.2v3.0M33.6 773.2h2.3M33.6 776.2h1.2M37.5 778.6v0.4M37.5 778.6h3.3M37.5 779.0h3.3M39.1 779.4v0.4M39.1 779.4h1.7M39.1 779.7h1.7M38.4 779.6v0.4M38.4 779.6h0.7M38.4 780.0h2.4M37.7 779.8v0.5M37.7 779.8h0.7M37.7 780.2h3.1M36.6 778.8v1.2M36.6 778.8h1.0M36.6 780.0h1.1M34.4 778.1v1.3M34.4 778.1h6.4M34.4 779.4h2.2M32.9 774.7v4.0M32.9 774.7h0.7M32.9 778.7h1.5M31.9 769.6v7.1M31.9 769.6h1.8M31.9 776.7h1.0M38.0 780.6v0.3M38.0 780.6h2.8M38.0 780.9h2.8M37.3 780.7v0.4M37.3 780.7h0.7M37.3 781.1h3.5M38.5 781.7v0.3M38.5 781.7h2.3M38.5 781.9h2.3M37.8 781.4v0.4M37.8 781.4h3.0M37.8 781.8h0.7M38.2 782.1v0.3M38.2 782.1h2.6M38.2 782.4h2.6M37.1 781.6v0.7M37.1 781.6h0.7M37.1 782.3h1.2M37.3 782.9v0.4M37.3 782.9h3.5M37.3 783.3h3.5M36.3 781.9v1.1M36.3 781.9h0.8M36.3 783.1h1.0M35.6 780.9v1.6M35.6 780.9h1.7M35.6 782.5h0.7M38.1 784.3v0.4M38.1 784.3h2.7M38.1 784.7h2.7M37.4 783.8v0.7M37.4 783.8h3.4M37.4 784.5h0.7M38.8 785.5v0.3M38.8 785.5h2.0M38.8 785.8h2.0M38.1 785.2v0.5M38.1 785.2h2.7M38.1 785.7h0.7M36.8 784.9v0.5M36.8 784.9h4.0M36.8 785.4h1.4M35.6 784.1v1.0M35.6 784.1h1.8M35.6 785.2h1.1M37.5 786.4v0.4M37.5 786.4h3.3M37.5 786.8h3.3M36.7 786.1v0.5M36.7 786.1h4.1M36.7 786.6h0.8M38.3 787.1v0.3M38.3 787.1h2.5M38.3 787.4h2.5M37.6 787.3v0.5M37.6 787.3h0.7M37.6 787.7h3.2M36.9 787.5v0.6M36.9 787.5h0.7M36.9 788.1h3.9M36.0 786.4v1.4M36.0 786.4h0.7M36.0 787.8h0.8M33.9 784.7v2.4M33.9 784.7h1.7M33.9 787.1h2.1M32.7 781.7v4.2M32.7 781.7h2.8M32.7 785.9h1.2M25.9 773.2v10.6M25.9 773.2h6.0M25.9 783.8h6.8M37.4 788.5v0.4M37.4 788.5h3.4M37.4 788.9h3.4M38.2 789.4v0.3M38.2 789.4h2.6M38.2 789.7h2.6M37.4 789.1v0.4M37.4 789.1h3.4M37.4 789.6h0.8M36.7 788.7v0.6M36.7 788.7h0.7M36.7 789.4h0.7M38.4 790.3v0.4M38.4 790.3h2.4M38.4 790.7h2.4M37.7 790.0v0.5M37.7 790.0h3.1M37.7 790.5h0.7M36.0 789.0v1.2M36.0 789.0h0.7M36.0 790.2h1.7M38.3 791.9v0.4M38.3 791.9h2.5M38.3 792.3h2.5M37.6 791.5v0.6M37.6 791.5h3.2M37.6 792.1h0.7M36.1 791.1v0.8M36.1 791.1h4.7M36.1 791.8h1.5M33.5 789.6v1.8M33.5 789.6h2.5M33.5 791.4h2.6M38.5 793.6v0.3M38.5 793.6h2.3M38.5 793.9h2.3M37.8 793.2v0.5M37.8 793.2h3.0M37.8 793.7h0.7M37.1 792.8v0.7M37.1 792.8h3.7M37.1 793.5h0.7M37.3 794.2v0.4M37.3 794.2h3.5M37.3 794.6h3.5M38.0 795.0v0.4M38.0 795.0h2.8M38.0 795.4h2.8M38.5 795.8v0.4M38.5 795.8h2.3M38.5 796.3h2.3M37.8 796.0v0.5M37.8 796.0h0.7M37.8 796.6h3.0M37.0 795.2v1.1M37.0 795.2h1.0M37.0 796.3h0.8M38.6 797.0v0.3M38.6 797.0h2.2M38.6 797.3h2.2M37.9 797.1v0.5M37.9 797.1h0.7M37.9 797.6h2.9M37.0 796.8v0.6M37.0 796.8h3.8M37.0 797.4h0.9M36.3 795.7v1.4M36.3 795.7h0.7M36.3 797.1h0.7M35.6 794.4v2.0M35.6 794.4h1.7M35.6 796.4h0.7M38.1 798.5v0.3M38.1 798.5h2.7M38.1 798.8h2.7M37.4 798.1v0.6M37.4 798.1h3.4M37.4 798.6h0.7M38.5 799.7v0.3M38.5 799.7h2.3M38.5 800.0h2.3M37.0 799.2v0.6M37.0 799.2h3.8M37.0 799.8h1.5M36.2 798.4v1.2M36.2 798.4h1.2M36.2 799.5h0.8M37.7 800.2v0.4M37.7 800.2h3.1M37.7 800.6h3.1M34.9 798.9v1.5M34.9 798.9h1.3M34.9 800.4h2.8M34.2 795.4v4.3M34.2 795.4h1.4M34.2 799.7h0.7M33.5 793.1v4.4M33.5 793.1h3.6M33.5 797.6h0.7M29.4 790.5v4.8M29.4 790.5h4.1M29.4 795.3h4.1M38.0 801.0v0.3M38.0 801.0h2.8M38.0 801.4h2.8M37.0 801.7v0.4M37.0 801.7h3.8M37.0 802.1h3.8M38.4 803.0v0.4M38.4 803.0h2.4M38.4 803.4h2.4M37.7 803.2v0.5M37.7 803.2h0.7M37.7 803.7h3.1M37.0 802.6v0.8M37.0 802.6h3.8M37.0 803.4h0.7M36.3 801.9v1.1M36.3 801.9h0.7M36.3 803.0h0.7M37.5 804.0v0.4M37.5 804.0h3.3M37.5 804.4h3.3M35.6 802.5v1.7M35.6 802.5h0.7M35.6 804.2h1.9M34.9 801.2v2.1M34.9 801.2h3.0M34.9 803.3h0.7M37.5 804.6v0.3M37.5 804.6h3.3M37.5 804.9h3.3M38.6 805.2v0.3M38.6 805.2h2.2M38.6 805.5h2.2M37.9 805.4v0.5M37.9 805.4h0.7M37.9 805.8h2.9M37.9 806.2v0.4M37.9 806.2h2.9M37.9 806.6h2.9M38.6 807.2v0.5M38.6 807.2h2.2M38.6 807.7h2.2M37.9 806.9v0.6M37.9 806.9h2.9M37.9 807.5h0.7M37.2 806.4v0.8M37.2 806.4h0.7M37.2 807.2h0.7M36.5 805.6v1.2M36.5 805.6h1.4M36.5 806.8h0.7M35.8 804.8v1.4M35.8 804.8h1.7M35.8 806.2h0.7M33.0 802.3v3.2M33.0 802.3h1.9M33.0 805.5h2.8M27.8 792.9v10.9M27.8 792.9h1.6M27.8 803.9h5.2M25.2 778.5v19.9M25.2 778.5h0.7M25.2 798.4h2.6M24.5 758.3v30.1M24.5 758.3h1.0M24.5 788.4h0.7M38.3 808.1v0.3M38.3 808.1h2.5M38.3 808.4h2.5M37.6 808.2v0.7M37.6 808.2h0.7M37.6 808.9h3.2M39.6 809.3v0.3M39.6 809.3h1.2M39.6 809.5h1.2M38.9 809.4v0.4M38.9 809.4h0.7M38.9 809.8h1.9M38.2 809.6v0.4M38.2 809.6h0.7M38.2 810.0h2.6M37.5 809.8v0.4M37.5 809.8h0.7M37.5 810.2h3.3M34.5 808.6v1.5M34.5 808.6h3.1M34.5 810.0h3.0M37.5 810.6v0.5M37.5 810.6h3.3M37.5 811.1h3.3M38.7 811.4v0.3M38.7 811.4h2.1M38.7 811.7h2.1M38.0 811.5v0.6M38.0 811.5h0.7M38.0 812.1h2.8M37.3 811.8v0.7M37.3 811.8h0.7M37.3 812.5h3.5M36.6 810.8v1.3M36.6 810.8h0.8M36.6 812.2h0.7M37.8 812.9v0.4M37.8 812.9h3.0M37.8 813.3h3.0M35.9 811.5v1.6M35.9 811.5h0.7M35.9 813.1h1.9M38.6 814.4v0.3M38.6 814.4h2.2M38.6 814.7h2.2M37.9 814.1v0.5M37.9 814.1h2.9M37.9 814.6h0.7M37.2 813.7v0.6M37.2 813.7h3.6M37.2 814.3h0.7M35.2 812.3v1.7M35.2 812.3h0.7M35.2 814.0h2.0M32.6 809.3v3.9M32.6 809.3h1.9M32.6 813.2h2.6M38.2 815.4v0.3M38.2 815.4h2.6M38.2 815.7h2.6M37.5 815.5v0.3M37.5 815.5h0.7M37.5 815.8h3.3M36.4 815.0v0.7M36.4 815.0h4.4M36.4 815.7h1.1M38.5 816.1v0.3M38.5 816.1h2.3M38.5 816.3h2.3M37.8 816.2v0.4M37.8 816.2h0.7M37.8 816.6h3.0M38.4 816.9v0.4M38.4 816.9h2.4M38.4 817.3h2.4M37.7 817.1v0.6M37.7 817.1h0.7M37.7 817.7h3.1M36.6 817.4v0.6M36.6 817.4h1.0M36.6 818.0h4.2M35.9 816.4v1.3M35.9 816.4h1.9M35.9 817.7h0.7M37.3 818.3v0.4M37.3 818.3h3.5M37.3 818.7h3.5M35.2 817.0v1.5M35.2 817.0h0.7M35.2 818.5h2.1M34.5 815.3v2.5M34.5 815.3h1.9M34.5 817.8h0.7M31.9 811.2v5.3M31.9 811.2h0.7M31.9 816.6h2.6M38.4 819.3v0.3M38.4 819.3h2.4M38.4 819.6h2.4M37.7 819.0v0.4M37.7 819.0h3.1M37.7 819.4h0.7M38.4 820.2v0.3M38.4 820.2h2.4M38.4 820.5h2.4M37.7 820.0v0.4M37.7 820.0h3.1M37.7 820.3h0.7M37.0 819.2v0.9M37.0 819.2h0.7M37.0 820.2h0.7M38.6 820.9v0.3M38.6 820.9h2.2M38.6 821.2h2.2M37.9 821.1v0.4M37.9 821.1h0.7M37.9 821.5h2.9M36.3 819.7v1.6M36.3 819.7h0.7M36.3 821.3h1.6M33.8 820.5v1.4M33.8 820.5h2.4M33.8 821.9h7.0M29.2 813.9v7.3M29.2 813.9h2.8M29.2 821.2h4.7M38.3 822.4v0.3M38.3 822.4h2.5M38.3 822.7h2.5M37.9 823.0v0.4M37.9 823.0h2.9M37.9 823.5h2.9M37.2 822.5v0.7M37.2 822.5h1.1M37.2 823.2h0.7M38.9 824.3v0.3M38.9 824.3h1.9M38.9 824.6h1.9M38.2 824.1v0.4M38.2 824.1h2.6M38.2 824.5h0.7M37.5 823.9v0.4M37.5 823.9h3.3M37.5 824.3h0.7M37.8 825.0v0.3M37.8 825.0h3.0M37.8 825.3h3.0M35.8 824.1v1.1M35.8 824.1h1.7M35.8 825.1h2.1M35.0 822.9v1.7M35.0 822.9h2.2M35.0 824.6h0.7M39.8 826.1v0.3M39.8 826.1h1.0M39.8 826.4h1.0M39.1 826.3v0.3M39.1 826.3h0.7M39.1 826.5h1.7M38.4 825.8v0.6M38.4 825.8h2.4M38.4 826.4h0.7M37.7 825.6v0.5M37.7 825.6h3.1M37.7 826.1h0.7M38.6 826.7v0.3M38.6 826.7h2.2M38.6 827.0h2.2M37.0 825.8v1.0M37.0 825.8h0.7M37.0 826.8h1.6M38.3 827.3v0.3M38.3 827.3h2.5M38.3 827.5h2.5M37.2 827.4v0.5M37.2 827.4h1.1M37.2 827.9h3.6M36.3 826.3v1.3M36.3 826.3h0.7M36.3 827.7h0.9M38.1 828.3v0.4M38.1 828.3h2.7M38.1 828.7h2.7M33.4 827.0v1.5M33.4 827.0h2.9M33.4 828.5h4.7M31.6 823.7v4.0M31.6 823.7h3.4M31.6 827.8h1.8M37.9 829.2v0.3M37.9 829.2h2.9M37.9 829.5h2.9M38.0 829.7v0.3M38.0 829.7h2.8M38.0 830.0h2.8M37.2 829.3v0.5M37.2 829.3h0.7M37.2 829.9h0.8M37.3 830.5v0.3M37.3 830.5h3.5M37.3 830.8h3.5M36.5 829.6v1.1M36.5 829.6h0.7M36.5 830.7h0.8M39.7 831.4v0.3M39.7 831.4h1.1M39.7 831.7h1.1M39.0 831.6v0.3M39.0 831.6h0.7M39.0 831.9h1.8M38.3 831.7v0.3M38.3 831.7h0.7M38.3 832.0h2.5M38.3 832.2v0.3M38.3 832.2h2.5M38.3 832.5h2.5M37.6 831.9v0.5M37.6 831.9h0.7M37.6 832.4h0.7M36.9 831.1v1.1M36.9 831.1h3.9M36.9 832.1h0.7M36.2 831.6v1.4M36.2 831.6h0.7M36.2 833.0h4.6M34.2 830.1v2.1M34.2 830.1h2.3M34.2 832.3h1.9M39.2 833.8v0.3M39.2 833.8h1.6M39.2 834.1h1.6M38.5 833.9v0.3M38.5 833.9h0.7M38.5 834.3h2.3M37.8 834.1v0.4M37.8 834.1h0.7M37.8 834.5h3.0M37.1 833.4v0.9M37.1 833.4h3.7M37.1 834.3h0.7M37.3 834.9v0.4M37.3 834.9h3.5M37.3 835.3h3.5M35.6 833.9v1.2M35.6 833.9h1.4M35.6 835.1h1.7M33.5 831.2v3.3M33.5 831.2h0.7M33.5 834.5h2.1M30.6 825.8v7.1M30.6 825.8h1.1M30.6 832.8h3.0M38.3 835.6v0.3M38.3 835.6h2.5M38.3 835.9h2.5M37.6 836.1v0.4M37.6 836.1h3.2M37.6 836.4h3.2M37.9 836.8v0.3M37.9 836.8h2.9M37.9 837.2h2.9M36.9 836.3v0.7M36.9 836.3h0.7M36.9 837.0h1.0M37.8 837.5v0.3M37.8 837.5h3.0M37.8 837.8h3.0M36.2 836.6v1.1M36.2 836.6h0.7M36.2 837.7h1.6M35.5 835.8v1.4M35.5 835.8h2.9M35.5 837.2h0.8M38.2 838.1v0.3M38.2 838.1h2.6M38.2 838.4h2.6M38.5 839.0v0.4M38.5 839.0h2.3M38.5 839.4h2.3M37.8 838.7v0.5M37.8 838.7h3.0M37.8 839.2h0.7M37.0 839.0v0.9M37.0 839.0h0.8M37.0 839.8h3.8M35.5 838.3v1.1M35.5 838.3h2.7M35.5 839.4h1.5M33.3 836.5v2.4M33.3 836.5h2.1M33.3 838.8h2.2M38.5 840.2v0.3M38.5 840.2h2.3M38.5 840.5h2.3M37.8 840.3v0.5M37.8 840.3h0.7M37.8 840.8h3.0M36.9 840.6v0.6M36.9 840.6h1.0M36.9 841.1h3.9M38.6 842.0v0.3M38.6 842.0h2.2M38.6 842.2h2.2M37.8 841.6v0.5M37.8 841.6h3.0M37.8 842.1h0.8M36.9 841.8v0.7M36.9 841.8h0.9M36.9 842.6h3.9M36.2 840.8v1.4M36.2 840.8h0.7M36.2 842.2h0.7M38.4 843.0v0.5M38.4 843.0h2.4M38.4 843.4h2.4M37.7 843.2v0.6M37.7 843.2h0.7M37.7 843.8h3.1M35.5 841.5v2.0M35.5 841.5h0.7M35.5 843.5h2.2M38.6 844.4v0.3M38.6 844.4h2.2M38.6 844.7h2.2M37.9 844.1v0.5M37.9 844.1h2.9M37.9 844.5h0.7M38.9 845.0v0.3M38.9 845.0h1.9M38.9 845.2h1.9M38.2 845.1v0.3M38.2 845.1h0.7M38.2 845.4h2.6M37.5 845.3v0.4M37.5 845.3h0.7M37.5 845.7h3.3M38.3 846.3v0.4M38.3 846.3h2.5M38.3 846.7h2.5M37.6 846.5v0.7M37.6 846.5h0.7M37.6 847.2h3.2M36.9 846.0v0.9M36.9 846.0h3.9M36.9 846.8h0.7M36.2 845.5v0.9M36.2 845.5h1.3M36.2 846.4h0.7M33.6 844.3v1.6M33.6 844.3h4.2M33.6 845.9h2.6M32.5 842.5v2.6M32.5 842.5h3.0M32.5 845.1h1.2M31.8 837.7v6.2M31.8 837.7h1.5M31.8 843.8h0.7M27.2 829.3v11.4M27.2 829.3h3.4M27.2 840.7h4.6M26.5 817.6v17.5M26.5 817.6h2.7M26.5 835.0h0.7M22.5 773.4v52.9M22.5 773.4h2.0M22.5 826.3h4.0M18.0 693.9v105.9M18.0 693.9h3.0M18.0 799.8h4.5M16.2 562.4v184.5M16.2 562.4h3.3M16.2 746.9h1.8M7.6 408.4v246.3M7.6 408.4h9.9M7.6 654.6h8.6" stroke="#1c1c1c" stroke-width="0.5" fill="none"/>
<rect x="38.10" y="365.40" width="2.70" height="482.00" fill="#000"/>
<clipPath id="cD"><rect x="436.8" y="332.4" width="221.09999999999997" height="226.0"/></clipPath>
<g clip-path="url(#cD)">
<line x1="433.98" y1="553.19" x2="673.74" y2="307.31" stroke="#8a8a8a" stroke-width="0.6" stroke-dasharray="1.2 1.3"/>
<line x1="433.98" y1="570.13" x2="673.74" y2="324.25" stroke="#8a8a8a" stroke-width="0.6" stroke-dasharray="1.2 1.3"/>
<path d="M600.9 399.3h0M597.6 402.5h0M596.1 407.2h0M594.5 408.9h0M590.0 409.9h0.9M592.6 410.1h0M591.8 410.8h0M597.8 413.0h0M587.8 413.5h0M586.5 414.6h0M591.9 414.3h0M590.4 416.3h0M583.9 417.8h0M586.5 419.2h0M579.5 422.0h0M580.8 421.4h0M577.6 422.9h0M583.6 423.0h0M579.1 423.4h0.9M582.8 423.6h0M583.9 425.8h0M574.9 426.6h0M581.1 427.0h0M572.0 428.6h0M576.6 429.0h0M572.0 430.7h0.9M569.1 431.7h0M575.5 431.2h0M572.3 432.0h0M569.9 433.0h0M567.5 434.2h1.8M568.9 435.1h0M564.8 436.1h1.8M568.8 436.1h0M573.5 436.2h0M564.8 437.1h0M566.1 437.3h0M573.5 437.2h0M563.9 437.9h0.9M563.1 439.1h0M567.5 439.2h0M573.7 438.9h0M561.6 439.4h0M564.1 439.7h0M565.5 439.3h0M560.8 440.8h0M565.0 440.5h0M566.6 440.2h0M572.4 440.2h0M560.0 441.6h0M562.6 441.4h0M559.4 442.4h0.9M564.8 442.5h0M565.6 442.9h0M557.6 444.2h0.9M561.9 443.8h0M565.3 444.5h0M568.8 444.6h0M555.8 445.1h0.9M564.9 444.8h0M555.8 445.9h0.9M557.0 447.2h0M558.2 447.2h0M555.2 447.4h0M561.3 447.5h0M556.6 448.7h0.9M560.9 448.5h0M552.7 449.9h0M558.5 450.0h0M562.7 449.2h0M551.2 450.4h1.8M550.4 451.4h0.9M555.0 451.7h0M549.5 452.2h1.8M552.7 452.3h0M554.8 452.1h0M547.6 453.2h0.9M551.9 452.9h0M554.3 452.9h0M559.0 453.2h0M548.4 453.9h0M550.5 454.2h0M554.2 454.3h0M547.0 455.1h0M549.5 454.8h0M545.9 455.9h1.8M549.9 455.4h0M552.0 455.8h0M554.3 455.6h0M544.1 456.8h1.8M548.6 456.8h1.8M556.0 456.9h0M557.5 457.0h0M543.5 458.0h0M546.3 457.9h0M550.2 457.8h0M543.1 458.6h1.8M546.8 458.6h0.9M554.7 458.1h0M543.1 459.4h0.9M555.6 459.7h0M542.2 460.4h1.8M559.3 459.9h0M540.5 461.2h0.9M545.0 461.2h0.9M539.6 462.2h0.9M553.7 462.3h0M538.7 463.3h0M541.2 462.9h0M543.1 463.1h0.9M546.6 463.1h0M537.8 463.9h5.4M550.8 463.8h0M555.2 464.4h0M537.8 464.9h1.8M544.6 464.6h0M546.8 464.5h0M548.6 465.2h0M536.0 465.8h0.9M538.2 466.0h0M540.2 465.6h0M546.3 465.9h0M549.5 465.9h0M535.1 466.7h3.6M541.0 466.3h0M534.1 467.6h4.5M540.5 467.6h1.8M547.4 467.3h0M533.1 468.8h0M536.9 468.4h0.9M540.7 468.2h0M542.7 468.1h0M543.7 468.6h0M547.1 468.8h0M532.4 469.4h2.7M537.8 469.4h0.9M541.0 469.7h0M531.0 470.6h0M532.4 470.0h0M534.2 470.3h0M536.0 470.2h1.8M541.3 470.0h0M530.6 471.2h2.7M535.1 471.2h1.8M529.6 472.1h1.8M534.4 471.8h0M536.0 472.1h0.9M528.7 473.2h0M531.5 472.9h1.8M545.2 473.0h0M528.0 474.0h0M530.6 473.9h2.7M536.9 473.9h0.9M547.3 474.2h0M527.0 474.8h2.7M531.5 474.8h0.9M533.8 475.1h0M537.2 475.1h0M552.6 475.0h0M557.3 474.7h0M526.2 475.6h0M527.5 475.5h0M529.6 475.7h1.8M533.2 475.7h0.9M536.9 475.7h1.8M525.1 476.6h1.8M530.0 476.8h0M531.5 476.6h0.9M535.4 476.2h0M524.2 477.4h1.8M527.9 477.4h0.9M530.6 477.4h0.9M535.1 477.4h0.9M549.4 477.1h0M523.4 478.4h1.8M529.8 478.2h0M531.0 478.3h0M522.5 479.2h0.9M527.0 479.2h1.8M531.5 479.1h0M536.9 479.2h0.9M523.7 480.5h0M525.3 480.0h0M526.8 479.9h0M529.1 479.8h0M532.8 479.9h0M533.9 479.9h0M521.7 481.3h0M524.2 481.1h1.8M530.0 481.4h0M532.9 480.9h0M536.7 481.0h0M538.2 480.9h0M519.8 481.9h2.7M524.2 481.9h0.9M527.2 482.2h0M518.9 483.2h0M520.6 482.9h3.6M529.9 483.2h0M532.3 482.6h0M537.0 482.5h0M539.2 483.1h0M518.3 484.1h0M520.6 483.8h1.8M524.5 484.1h0M525.7 484.2h0M527.6 483.4h0M533.3 483.5h0M517.1 484.7h3.6M522.5 484.7h0M524.7 484.8h0M527.0 484.7h1.8M531.4 485.1h0M516.1 485.6h1.8M519.8 485.6h3.6M524.8 485.3h0M529.1 485.8h0M539.5 485.5h0M547.6 485.1h0M515.2 486.4h6.3M526.6 486.4h0M532.0 486.4h0M534.6 486.1h0M536.9 486.2h0M514.4 487.4h5.4M521.6 487.4h4.5M517.3 488.4h0M518.9 488.2h0.9M524.2 488.2h0.9M528.6 488.0h0M513.5 489.2h2.7M518.4 489.5h0M519.8 489.2h2.7M546.3 489.2h0M511.7 490.1h2.7M516.1 490.1h5.4M523.4 490.1h0M526.1 490.4h0M531.0 490.2h0M511.7 490.9h4.5M518.0 490.9h2.7M524.2 490.9h0.9M527.0 490.9h0.9M509.9 491.9h7.2M526.1 491.9h1.8M508.9 492.8h2.7M513.3 493.0h0M516.1 492.8h0.9M518.5 492.7h0M520.3 492.3h0M524.2 492.8h0M508.1 493.7h11.7M526.0 493.9h0M508.1 494.6h1.8M511.7 494.6h0.9M514.4 494.6h3.6M521.8 494.6h0M522.9 494.3h0M525.8 494.1h0M529.3 494.1h0M506.2 495.4h1.8M509.9 495.4h1.8M513.5 495.4h0.9M516.1 495.4h0.9M521.0 495.4h0M524.3 495.5h0M525.9 495.5h0M506.2 496.4h6.3M514.4 496.4h0.9M517.1 496.4h0.9M526.2 496.1h0M527.9 495.9h0M530.5 496.8h0M505.4 497.2h5.4M512.5 497.5h0M518.0 497.2h0.9M544.5 497.5h0M504.4 498.2h2.7M508.9 498.2h3.6M514.4 498.2h0.9M517.2 498.2h0M522.5 498.2h0.9M525.9 498.0h0M533.5 498.4h0M538.8 498.6h0M503.6 499.1h6.3M511.7 499.1h0.9M514.1 499.1h0M516.4 498.7h0M527.9 499.0h0M502.7 499.9h1.8M506.2 499.9h2.7M510.8 499.9h3.6M525.9 499.7h0M536.4 500.4h0M500.9 500.9h2.7M505.4 500.9h1.8M508.9 500.9h1.8M512.9 500.6h0M515.2 500.9h0.9M521.7 500.9h0M500.9 501.8h6.3M510.3 501.8h0M512.8 501.8h0M513.9 501.4h0M518.6 501.4h0M525.1 501.8h0M499.9 502.7h9M512.6 502.7h0.9M515.9 502.7h0M529.3 502.5h0M535.2 502.2h0M499.1 503.6h1.8M502.7 503.6h3.6M508.1 503.6h0.9M514.3 503.4h0M499.4 504.9h0M500.9 504.4h0.9M503.4 504.4h0M505.0 504.5h0M507.2 504.4h0.9M514.3 504.1h0M520.6 504.1h0M497.2 505.4h5.4M504.4 505.4h0.9M508.3 505.6h0M510.8 505.4h0.9M518.4 505.1h0M496.4 506.2h3.6M501.5 505.8h0M504.8 505.9h0M506.2 506.2h2.7M512.2 506.6h0M495.4 507.2h8.1M505.4 507.2h1.8M508.9 507.2h0.9M494.6 508.1h1.8M499.1 508.1h2.7M503.1 508.3h0M505.4 508.1h1.8M510.7 508.3h0M519.8 508.0h0M493.7 508.9h7.2M502.6 508.8h0M505.6 509.3h0M508.3 508.7h0M510.4 509.1h0M516.6 509.4h0M518.1 509.1h0M492.8 509.9h4.5M499.1 509.9h4.5M506.2 509.9h0.9M511.9 510.0h0M519.6 510.3h0M492.8 510.8h1.8M496.3 511.1h0M499.9 510.8h2.7M504.4 510.8h2.7M509.8 511.2h0M516.8 510.4h0M520.6 510.6h0M490.9 511.7h5.4M498.2 511.7h0.9M500.9 511.7h0.9M503.5 511.4h0M505.0 511.6h0M507.0 512.0h0M508.8 512.0h0M514.1 511.4h0M528.2 511.7h0M490.1 512.6h3.6M495.4 512.6h0.9M498.2 512.6h0.9M501.1 512.5h0M502.8 512.9h0M504.4 512.6h0.9M509.6 512.5h0M489.2 513.5h7.2M498.4 513.4h0M499.9 513.5h5.4M507.5 513.7h0M488.2 514.4h0.9M490.9 514.4h2.7M495.4 514.4h1.8M500.5 514.2h0M503.7 514.7h0M505.9 514.1h0M508.9 514.4h1.8M535.8 514.0h0M488.2 514.8h0M490.1 515.2h3.6M495.6 515.6h0M498.2 515.2h0.9M502.6 515.4h0M512.3 515.4h0M486.4 516.1h6.3M494.1 516.1h0M497.1 515.9h0M500.4 515.8h0M503.9 516.3h0M506.7 516.0h0M512.8 516.3h0M485.6 517.1h9M496.3 516.7h0M498.2 517.1h0.9M500.6 517.3h0M502.7 517.1h0.9M507.7 517.3h0M513.7 517.3h0M515.1 517.3h0M484.7 518.0h9M495.1 517.7h0M496.8 518.2h0M498.6 518.3h0M500.7 518.2h0M503.0 518.3h0M504.5 518.0h0M518.1 517.8h0M483.8 518.9h7.2M492.4 518.9h0M494.6 518.9h2.7M499.3 519.1h0M502.7 518.9h0.9M482.9 519.8h11.7M496.4 519.8h1.8M500.9 520.1h0M503.5 519.9h0M481.9 520.6h6.3M490.1 520.6h1.8M498.2 520.6h1.8M501.5 521.0h0M503.6 520.6h0M507.4 520.7h0M481.1 521.6h3.6M486.4 521.6h2.7M491.7 521.5h0M493.7 521.6h0.9M496.4 521.6h2.7M503.5 521.6h0M515.8 521.3h0M480.2 522.5h8.1M490.1 522.5h2.7M495.4 522.5h0.9M498.4 522.8h0M500.2 522.2h0M504.2 522.3h0M506.0 522.6h0M513.8 522.0h0M480.2 523.4h2.7M484.7 523.4h4.5M497.2 523.4h0.9M503.8 523.5h0M510.9 523.4h0M514.7 523.0h0M527.0 523.4h0.9M479.2 524.2h0.9M481.9 524.2h0.9M484.7 524.2h1.8M489.2 524.2h0.9M491.9 524.2h0.9M494.6 524.2h2.7M477.4 525.1h5.4M484.7 525.1h4.5M490.9 525.1h0.9M477.4 526.1h11.7M490.9 526.1h1.8M494.7 526.4h0M497.0 526.4h0M500.3 525.7h0M506.4 526.5h0M508.4 525.7h0M476.6 527.0h6.3M484.7 527.0h1.8M488.2 527.0h0.9M497.2 527.0h1.8M507.7 526.5h0M513.6 526.9h0M475.7 527.9h9M486.4 527.9h2.7M490.9 527.9h0.9M500.1 527.5h0M474.8 528.8h10.8M487.6 528.6h0M488.8 529.0h0M491.4 528.4h0M492.8 528.8h0.9M499.0 528.8h0M510.9 528.6h0M472.9 529.6h6.3M481.4 529.4h0M482.9 529.4h0M485.4 530.0h0M489.1 529.3h0M492.2 529.5h0M496.0 529.4h0M472.9 530.6h6.3M480.7 530.8h0M483.8 530.6h0.9M486.7 531.0h0M489.2 530.6h1.8M496.4 530.9h0M499.9 530.6h0.9M472.1 531.5h8.1M483.8 531.5h5.4M494.6 531.5h1.8M470.2 532.4h5.4M477.4 532.4h2.7M481.9 532.4h1.8M486.8 532.4h0M489.1 532.3h0M491.9 532.4h1.8M517.2 532.4h0M555.5 531.9h0M469.6 533.6h0M471.2 533.2h2.7M476.6 533.2h0.9M481.3 533.7h0M483.8 533.2h0.9M486.4 533.2h0.9M489.2 533.2h1.8M496.5 533.3h0M500.9 533.0h0M469.4 534.1h4.5M479.2 534.1h1.8M483.4 534.0h0M485.6 534.1h1.8M489.2 534.1h0.9M491.9 533.7h0M497.1 534.3h0M501.8 534.5h0M509.7 533.9h0M469.4 535.1h4.5M476.5 535.1h0M478.4 534.8h0M482.9 535.1h2.7M491.3 535.3h0M502.1 534.7h0M467.6 536.0h3.6M472.9 536.0h5.4M480.1 536.1h0M482.9 535.5h0M489.1 536.3h0M492.3 536.3h0M508.4 535.7h0M466.7 536.9h4.5M473.9 536.9h2.7M478.4 536.9h0.9M481.2 537.3h0M486.1 536.4h0M490.3 537.2h0M495.9 537.1h0M466.7 537.8h4.5M472.9 537.8h0.9M478.4 537.8h1.8M481.9 538.0h0M484.7 538.1h0M486.2 538.1h0M493.9 538.2h0M503.8 538.1h0M464.9 538.6h5.4M472.9 538.7h0M477.4 538.6h0.9M481.1 538.6h0.9M483.8 538.6h0.9M489.2 538.6h1.8M492.8 538.9h0M497.2 538.6h0.9M501.7 539.0h0M503.3 538.4h0M463.9 539.6h1.8M467.6 539.6h5.4M474.8 539.6h3.6M480.2 539.6h0.9M483.9 539.6h0M485.3 539.3h0M463.1 540.5h0.9M465.8 540.5h7.2M474.8 540.5h5.4M481.9 540.5h0.9M484.7 540.5h0.9M487.4 540.5h1.8M491.1 540.3h0M544.0 540.9h0M462.2 541.4h0.9M464.9 541.4h6.3M472.9 541.4h3.6M478.4 541.4h0.9M481.1 541.4h0.9M483.8 541.4h0.9M487.0 541.2h0M495.1 541.4h0M502.4 541.7h0M504.9 541.4h0M507.6 541.2h0M525.6 541.6h0M461.1 542.4h0M463.1 542.2h5.4M470.2 542.2h1.8M474.8 542.2h0.9M478.4 542.2h1.8M481.7 542.2h0M485.6 542.2h2.7M499.6 542.6h0M503.6 542.5h0M506.3 542.4h0M461.5 543.4h0M464.1 542.9h0M467.6 543.1h2.7M471.6 543.2h0M474.1 543.2h0M477.4 543.1h1.8M484.6 543.5h0M486.4 543.1h1.8M493.6 542.8h0M499.0 543.0h0M513.9 543.5h0M519.5 543.1h0M525.2 543.3h0M460.3 544.3h0M462.2 544.1h1.8M465.8 544.1h1.8M472.1 544.1h1.8M475.7 544.1h0.9M481.1 543.7h0M487.0 544.5h0M490.1 544.1h0.9M492.8 544.1h0.9M496.7 544.0h0M510.2 544.2h0M517.1 544.1h0.9M521.6 543.9h0M525.2 544.0h0M459.4 545.0h0.9M462.2 545.0h3.6M467.6 545.0h0.9M470.5 544.9h0M472.9 545.0h0.9M476.9 544.9h0M479.2 545.0h0.9M483.2 545.1h0M484.9 545.1h0M486.4 544.6h0M488.2 545.0h1.8M492.8 545.0h0.9M505.1 545.0h0M525.3 545.2h0M534.4 544.5h0M459.4 545.9h1.8M463.2 545.8h0M465.8 545.9h1.8M469.1 546.0h0M472.9 545.9h3.6M478.4 545.9h3.6M484.1 545.8h0M485.8 545.6h0M492.0 545.7h0M493.9 546.2h0M498.1 545.7h0M500.6 546.0h0M509.9 545.9h0.9M513.3 545.4h0M546.0 545.7h0M552.8 545.7h0M457.7 546.8h2.7M463.1 547.0h0M464.9 546.8h1.8M468.5 546.7h0M470.2 546.8h0.9M472.9 546.6h0M475.7 546.8h0.9M479.2 546.8h0.9M481.9 546.8h0.9M485.9 546.5h0M487.4 546.8h0.9M491.4 546.7h0M492.3 546.6h0M498.2 546.8h0.9M500.9 547.1h0M519.0 547.1h0M525.0 546.3h0M564.9 546.5h0M455.9 547.6h33.3M490.9 548.0h0M492.8 547.6h0.9M496.4 547.6h3.6M506.4 547.4h0M511.1 548.0h0M513.5 548.0h0M523.4 548.0h0M532.4 548.0h0M557.0 547.3h0" stroke="#3cc07a" stroke-width="1.5" stroke-linecap="round" fill="none"/>
<path d="M548.7 388.9h0M587.3 392.9h0M588.4 393.6h0M576.1 401.3h0M560.9 404.0h0M575.8 404.8h0M573.0 405.7h0M568.1 410.0h0M569.0 411.2h0M568.4 414.5h0M502.5 414.9h0M556.2 416.9h0M554.9 418.1h0.9M562.4 419.6h0M553.9 422.3h0M555.2 423.2h0M492.3 425.3h0M553.6 425.0h0M524.5 426.1h0M546.7 426.3h0M491.0 426.6h0M552.8 428.2h0M525.4 428.5h0M543.6 430.5h0M551.1 431.0h0M546.6 431.9h0M484.2 433.6h0M523.0 433.0h0M545.5 433.2h0M545.1 433.9h0M536.5 435.0h0M544.7 435.3h0M546.6 434.9h0M534.3 436.4h0M540.8 435.9h0M525.6 436.9h0M534.3 436.8h0M535.3 438.3h0M537.2 438.2h0M540.2 437.5h0M543.5 437.7h0M516.4 438.9h0M521.8 439.0h0M537.4 439.0h0M544.9 438.3h0M533.2 439.5h0M543.9 439.7h0M526.6 440.9h0M516.2 441.3h0M536.2 441.8h0M523.2 441.9h0M530.1 442.7h0M532.5 442.8h0M535.7 442.0h0M538.6 442.4h0.9M530.2 443.7h0M535.0 442.8h0M537.8 443.2h0M539.5 443.3h0M508.1 444.5h0M515.5 445.5h0M533.7 445.4h0M537.9 445.9h0M527.3 446.8h0M530.8 446.5h0M533.2 446.9h0.9M470.4 448.1h0M515.6 447.9h0M526.7 448.1h0M481.8 448.7h0M515.7 449.0h0M517.7 449.1h0M529.5 448.5h0M534.1 448.7h0.9M534.0 449.3h0M519.5 450.8h0M531.8 450.5h0M489.1 451.0h0M502.3 451.5h0M504.7 451.4h0M521.9 451.4h0M485.9 452.0h0M513.6 452.6h0M526.2 452.6h0M528.5 451.9h0M465.4 453.0h0M526.9 453.5h0M487.7 454.4h0M493.8 453.8h0M521.6 454.1h0.9M526.4 453.7h0M463.4 455.0h0M476.8 454.8h0M523.7 455.4h0M526.9 455.4h0M479.4 455.6h0M512.5 455.8h0M469.4 456.6h0M505.8 456.9h0M517.4 456.8h0M519.2 456.3h0M521.9 457.0h0M522.9 456.6h0M485.2 457.9h0M509.7 457.3h0M522.3 457.9h0M460.1 458.4h0M499.7 458.3h0M513.1 458.7h0M521.0 458.1h0M459.4 459.1h0M512.6 459.6h0M513.9 459.8h0M520.2 459.1h0M466.2 460.0h0M506.3 460.1h0M513.0 460.3h0M520.7 460.6h0M482.7 460.8h0M510.1 461.2h0M499.7 461.8h0M512.6 462.3h0M522.7 462.2h0M465.0 463.0h0M485.6 463.1h0.9M508.9 462.6h0M514.1 462.6h0M520.8 463.3h0M493.8 464.4h0M503.0 463.9h0M505.3 463.9h0M511.1 464.1h0M515.8 464.0h0M519.8 463.9h0.9M482.3 465.0h0M500.1 464.4h0M517.1 464.9h1.8M469.5 466.1h0M484.0 465.9h0M507.0 465.6h0M469.6 466.6h0M476.4 467.1h0M497.2 466.4h0M508.0 466.2h0M511.1 467.0h0M512.6 466.7h1.8M516.4 466.8h0M482.9 467.1h0M493.8 467.9h0M496.3 467.7h0M504.9 467.2h0M510.9 467.3h0M514.7 467.5h0M456.1 468.3h0M486.7 468.3h0M501.7 468.6h0M504.1 468.9h0M509.0 468.8h0M512.4 468.0h0M516.1 468.5h0M496.7 469.2h0M502.3 469.1h0M508.1 469.4h0.9M513.3 469.5h0M514.8 469.7h0M486.5 470.2h0M490.2 469.9h0M504.8 470.0h0M515.0 469.9h0M447.3 471.5h0M489.8 471.6h0M497.4 470.7h0M508.9 471.2h0.9M512.6 471.2h0.9M451.7 472.1h0M463.0 471.9h0M483.8 472.1h0.9M496.9 471.8h0M504.1 472.2h0M506.1 471.9h0M510.5 471.6h0M512.7 471.8h0M484.4 472.5h0M491.3 472.8h0M494.6 473.4h0M497.2 472.9h1.8M501.8 473.2h0M506.2 472.9h3.6M511.2 473.4h0M494.3 474.1h0M510.2 474.0h0M482.4 475.2h0M489.2 474.8h0.9M491.7 474.7h0M496.5 474.8h0M503.8 475.0h0M506.3 474.8h0M473.5 475.3h0M480.4 475.9h0M492.4 476.0h0M498.1 475.2h0M499.7 475.8h0M504.4 475.7h0.9M462.8 476.2h0M487.1 476.8h0M494.9 476.2h0M460.3 477.1h0M483.6 477.7h0M491.5 477.6h0M494.9 477.9h0M502.7 477.5h0M504.8 477.5h0M507.2 477.4h0.9M456.7 478.6h0M473.3 478.5h0M479.5 478.5h0M495.6 478.2h0M501.8 478.4h0.9M505.3 478.6h0M506.9 478.1h0M454.1 479.2h0.9M471.4 479.3h0M477.5 479.4h0M487.4 479.0h0M497.6 478.9h0M499.9 479.2h0.9M502.7 479.2h0.9M505.5 479.6h0M473.8 479.8h0M480.2 480.2h0.9M485.0 480.2h0M492.8 480.2h1.8M496.6 480.0h0M504.4 480.2h0.9M450.2 481.3h0M472.5 480.6h0M483.6 481.2h0M486.6 481.3h0M489.0 480.7h0M494.6 481.0h0M497.7 481.3h0M450.6 481.8h0M471.0 481.6h0M482.2 482.1h0M486.6 481.8h0M490.4 482.4h0M494.6 481.9h1.8M499.1 481.9h0.9M501.8 481.9h0.9M453.2 483.2h0M458.7 482.8h0M470.4 483.2h0M479.6 483.0h0M482.4 483.2h0M486.6 482.7h0M489.7 483.2h0M494.6 482.9h0.9M498.5 482.8h0M447.3 483.9h0M460.4 483.8h0.9M475.6 483.7h0M477.3 483.8h0M479.2 483.8h0.9M483.0 483.9h0M491.0 484.1h0M494.6 483.5h0M496.4 483.8h0.9M499.2 483.6h0M452.7 484.8h0M468.5 484.6h0M480.4 484.3h0M483.2 484.5h0M489.3 485.1h0M491.1 484.4h0M493.7 484.7h0.9M496.2 484.3h0M453.0 485.7h0M457.4 485.3h0M465.5 485.9h0M470.0 485.8h0M478.9 485.3h0M486.8 485.4h0M490.9 485.3h0M494.5 485.9h0M496.4 485.6h3.6M447.3 486.0h0M461.8 486.6h0M469.2 486.9h0M477.5 486.9h0M490.3 486.2h0M492.8 486.4h0.9M495.8 486.9h0M498.6 486.7h0M455.7 487.6h0M467.7 487.3h0M477.5 487.0h0M482.9 487.6h0M484.9 487.6h0M489.2 487.7h0M491.9 487.4h1.8M451.7 488.6h0M453.2 488.2h0M469.7 488.6h0M472.4 488.3h0M478.0 488.0h0M480.6 488.5h0M486.3 488.3h0M491.3 487.9h0M493.3 487.9h0M495.7 488.1h0M497.3 487.8h0M447.3 489.0h0M453.9 489.1h0M460.3 488.9h0M467.1 489.4h0M470.1 489.5h0M473.2 489.5h0M479.9 489.2h0M482.1 489.3h0M483.3 489.6h0M486.7 489.5h0M488.7 489.4h0M490.7 488.7h0M492.9 489.4h0M495.8 489.4h0M451.3 489.7h0M467.0 490.1h0M477.9 490.0h0M480.4 489.6h0M485.9 490.2h0M488.2 490.1h0.9M490.9 490.1h0.9M493.7 490.1h0.9M447.3 490.9h0M464.7 490.7h0M466.6 491.3h0M476.1 490.5h0M484.8 491.1h0M489.1 491.1h0M491.4 491.1h0M492.4 491.2h0M494.2 491.4h0M447.3 492.1h0M456.9 491.6h0M470.6 492.2h0M475.8 491.9h0M485.9 491.7h0M488.7 491.6h0M490.9 491.9h1.8M458.5 493.1h0M461.7 492.6h0M464.4 492.9h0M472.1 492.8h0.9M476.9 492.9h0M479.5 493.1h0M484.7 492.8h0.9M488.2 493.1h0M489.9 493.0h0M491.9 493.1h0M449.5 493.7h0M461.3 494.0h0M467.2 494.0h0M471.3 493.7h0M473.6 493.3h0M478.4 493.7h0.9M484.4 493.6h0M486.4 493.7h0.9M490.9 494.1h0M455.9 495.0h0M468.0 494.3h0M471.8 494.6h0M474.1 494.3h0M478.4 494.6h0.9M481.4 494.9h0M483.8 494.6h0.9M487.1 494.5h0M489.2 494.6h0.9M456.5 495.9h0M464.0 495.9h0M465.6 495.8h0M475.3 495.2h0M479.3 495.2h0M481.1 495.5h0M485.3 495.7h0M488.2 495.4h1.8M466.7 496.4h0M473.9 496.4h1.8M478.4 496.4h0.9M480.7 496.4h0M486.4 496.4h1.8M453.2 497.2h0.9M457.0 497.2h0M461.5 497.5h0M466.1 497.5h0M469.3 497.0h0M473.9 497.2h0M476.6 497.2h0.9M486.4 497.2h1.8M447.3 498.0h0M460.4 498.2h0.9M465.4 498.2h0M467.6 498.3h0M474.9 497.9h0M476.7 498.5h0M481.9 498.2h1.8M452.5 499.4h0M458.1 499.1h0M467.3 499.1h0M469.0 498.8h0M473.7 498.8h0M479.5 499.2h0M482.4 498.9h0M483.8 499.1h1.8M455.2 500.3h0M458.2 500.3h0M468.1 499.7h0M475.7 499.9h1.8M479.1 499.7h0M481.2 499.8h0M460.8 501.0h0M467.6 500.9h0.9M471.2 500.9h1.8M475.2 501.2h0M481.1 500.9h0.9M455.1 502.0h0M461.0 501.8h0M465.1 502.1h0M468.4 501.3h0M472.1 501.8h0.9M476.3 501.7h0M478.0 502.0h0M483.0 501.8h0M450.6 502.3h0M457.2 502.2h0M462.5 502.7h0M470.2 502.3h0M475.7 502.7h8.1M447.3 503.1h0M454.9 503.6h0M458.3 503.8h0M460.6 503.9h0M463.0 503.2h0M466.7 503.6h2.7M471.1 503.6h0M472.9 503.6h2.7M477.2 503.2h0M480.2 503.6h1.8M454.1 504.4h1.8M457.4 504.1h0M464.4 504.3h0M468.4 504.4h0M471.2 504.4h0.9M477.4 504.4h3.6M447.3 505.7h0M454.9 505.4h0.9M459.8 505.6h0M464.2 505.3h0M467.6 505.4h1.8M472.9 505.4h0.9M475.7 505.4h0.9M478.2 505.6h0M447.3 505.8h0M453.2 506.6h0M459.6 506.6h0M463.7 506.6h0M468.4 506.2h1.8M472.8 505.8h0M474.8 506.2h0.9M478.3 506.5h0M447.3 506.8h0M451.8 506.8h0M464.0 506.8h0M466.6 506.9h0M469.4 507.2h3.6M474.8 507.2h0.9M447.3 508.3h0M452.4 508.4h0M455.2 508.4h0M467.1 507.6h0M470.6 507.9h0M472.3 508.1h0M473.9 508.1h0.9M476.6 508.1h0.9M447.8 508.9h0.9M454.8 509.3h0M461.6 508.9h0M464.9 508.9h0.9M467.6 508.9h0.9M472.2 509.2h0M473.7 508.8h0M476.5 509.0h0M451.0 510.0h0M460.7 509.4h0M462.2 509.9h0.9M466.6 509.5h0M472.1 509.5h0M474.8 509.9h0.9M458.6 510.8h1.8M463.8 510.8h0M465.8 510.8h1.8M469.4 510.8h0.9M472.1 510.3h0M447.3 511.7h0M456.1 511.3h0M458.4 511.4h0M460.8 511.5h0M463.9 511.6h0M465.8 511.4h0M468.4 511.7h4.5M474.3 511.3h0M451.1 512.5h0M461.2 512.6h0.9M465.3 512.7h0M467.5 512.3h0M469.4 512.6h1.8M472.9 512.6h0.9M448.8 513.3h0M452.2 513.5h0.9M457.1 513.1h0M459.4 513.5h0.9M462.2 513.5h1.8M465.8 513.5h4.5M454.8 514.2h0M456.7 514.6h0M460.7 514.5h0M463.9 514.4h1.8M468.4 514.4h2.7M447.3 515.2h0M465.2 515.2h0M466.7 515.2h1.8M471.2 515.0h0M448.3 516.0h0M453.2 516.1h1.8M458.6 516.1h0.9M461.2 516.1h0.9M464.9 516.1h2.7M469.2 516.4h0M456.7 516.6h0M453.2 518.0h1.8M460.4 518.0h1.8M463.9 518.0h0.9M466.7 518.0h1.8M447.3 518.5h0M452.8 518.6h0M458.6 518.9h0.9M463.1 518.9h1.8M447.3 519.4h0M450.0 519.7h0M454.9 519.5h0M459.2 519.5h0M463.1 519.8h0.9M466.3 519.4h0M449.6 520.6h0.9M453.4 520.5h0M456.5 520.9h0M461.2 520.6h1.8M447.3 521.7h0M450.4 521.6h3.6M455.5 521.2h0M458.6 521.6h2.7M463.1 521.6h0.9M447.8 522.5h0.9M451.4 522.5h1.8M454.9 522.5h1.8M459.4 522.5h3.6M447.8 523.4h0.9M450.5 523.2h0M452.5 523.2h0M457.0 523.6h0M458.6 523.4h0.9M463.3 523.0h0M447.3 524.1h0M450.9 524.6h0M453.6 524.5h0M455.9 524.2h1.8M460.2 524.2h0M462.4 523.9h0M447.3 525.3h0M449.6 525.1h0.9M454.1 525.1h1.8M459.4 525.1h1.8M447.3 526.4h0M450.6 526.5h0M454.1 526.1h6.3M450.3 526.8h0M452.6 527.2h0M454.9 527.0h3.6M447.3 528.0h0M449.9 528.2h0M451.4 527.9h1.8M454.9 527.9h0.9M457.7 527.9h0.9M451.2 529.0h0M454.9 528.8h2.7M448.2 529.9h0M450.4 529.7h0M452.2 529.6h1.8M455.6 529.8h0M447.3 530.2h0M449.6 530.6h2.7M447.8 531.5h4.5M447.3 532.1h0M450.7 532.1h0M452.6 532.8h0M447.3 533.4h0M452.2 533.2h0.9M447.3 534.3h0M449.5 534.4h0M451.4 534.1h0.9M447.3 535.2h0M450.4 535.1h0.9M447.3 535.7h0M449.6 536.0h0.9M447.8 536.9h0.9M447.3 537.7h0M447.3 538.8h0M447.3 539.1h0" stroke="#cb2424" stroke-width="1.5" stroke-linecap="round" fill="none"/>
<polygon points="455.6,547.2 463.3,539.3 473.9,528.4 487.3,514.7 500.6,501.1 513.9,487.4 527.2,473.8 540.5,460.1 553.9,446.4 571.2,428.7 571.2,429.6 553.9,448.6 540.5,463.1 527.2,478.1 513.9,494.0 500.6,509.5 487.3,523.5 473.9,536.2 463.3,545.1 455.6,548.0" fill="#3fbf7a"/>
<polygon points="447.3,540.3 454.0,533.5 467.3,519.8 487.3,499.3 507.2,478.8 527.2,458.3 540.5,444.7 540.5,444.1 527.2,457.5 507.2,477.7 487.3,497.9 467.3,518.2 454.0,531.5 447.3,538.4" fill="#cb2424"/>
<polygon points="447.3,540.0 529.9,455.3 536.5,453.7 535.9,461.9 537.7,463.3 455.1,548.0 454.0,548.0 454.0,541.2 447.3,541.2" fill="#555"/>
<path d="M600.6 385.2h0M609.5 385.2h0M599.5 386.1h0M604.9 389.4h0M607.6 388.8h0M598.4 390.2h0M602.8 394.0h0M589.2 396.7h0M596.8 396.0h0M587.0 398.1h0M585.5 400.1h0.9M593.6 401.5h0M584.7 404.1h0M588.9 404.9h0M582.5 405.4h0M592.7 405.7h0M578.3 407.4h0M582.1 407.0h0M583.8 406.9h0M587.2 409.3h0M584.7 410.1h0M582.1 410.7h0M584.6 410.9h0.9M578.9 411.4h0M580.7 413.2h0M573.3 414.9h0M575.4 414.4h0M583.5 414.6h0M570.8 414.9h0M570.1 416.2h0.9M577.4 417.2h0.9M569.0 417.8h0M574.0 418.5h0M578.7 418.2h0M575.1 418.6h0M578.5 419.0h0M564.7 420.3h0M573.9 420.6h0M576.1 420.5h0M578.5 420.9h0M566.8 421.6h0M568.2 421.5h0M571.9 421.8h0M574.7 422.3h0M565.0 423.9h0M574.7 423.7h0M564.1 424.5h0M565.8 424.3h0M574.5 424.1h0M563.2 425.0h0M564.9 425.7h0M566.2 425.7h0M570.9 425.1h0M573.0 425.6h0M557.7 427.1h0M563.0 426.7h0M564.8 427.1h0.9M558.7 427.8h0M563.0 427.9h0.9M559.0 428.5h0M557.6 429.8h0.9M561.6 429.9h0M567.5 429.8h1.8M555.1 430.7h0M556.4 431.0h0M560.0 430.4h0M563.9 430.7h0.9M568.6 430.9h0M555.1 431.2h0M557.9 431.7h0M559.1 431.7h0M564.7 431.3h0M566.3 431.7h0M556.6 432.4h2.7M562.6 432.1h0M564.5 432.3h0M554.0 433.0h0M557.4 433.0h0M551.6 434.3h0M556.5 434.0h0M561.7 433.9h0M549.5 435.2h0.9M552.1 434.7h0M554.3 435.1h0M555.8 435.1h0M549.5 436.1h1.8M553.1 436.1h0.9M559.4 436.1h1.8M562.7 436.1h0M549.5 436.9h1.8M555.8 436.9h0.9M548.6 437.9h1.8M552.8 437.5h0M554.7 438.2h0M556.6 437.9h0.9M559.5 437.9h0M561.5 437.4h0M547.6 438.8h0.9M550.4 438.8h0.9M554.1 438.9h0M555.8 438.8h0.9M559.8 439.0h0M561.8 438.5h0M547.4 439.4h0M549.7 439.9h0M551.6 440.1h0M554.9 439.6h0M556.2 439.7h0M559.7 439.4h0M544.1 440.6h1.8M547.6 440.6h0.9M551.2 440.6h0.9M554.9 440.6h0.9M557.2 440.4h0M544.1 441.4h0.9M547.6 441.4h0.9M551.2 441.4h0.9M554.4 441.6h0M556.8 441.8h0M558.1 441.2h0M543.7 442.1h0M546.3 442.1h0M548.8 442.0h0M551.2 442.4h0.9M554.3 442.0h0M557.9 442.6h0M542.2 443.2h1.8M546.8 443.2h1.8M550.4 443.2h4.5M556.6 443.6h0M541.4 444.2h0M543.1 444.2h0.9M545.6 444.4h0M548.5 443.8h0M550.4 444.2h0.9M553.3 444.3h0M554.9 444.2h0.9M540.8 445.3h0M542.2 445.1h3.6M551.4 445.1h0M540.5 445.9h2.7M545.4 445.9h0M546.8 445.9h1.8M551.2 445.9h2.7M539.0 447.1h0M540.5 446.9h2.7M545.0 446.9h0.9M547.2 446.9h0M549.5 446.9h1.8M552.9 447.2h0M537.8 447.8h4.5M544.1 447.8h1.8M547.6 447.8h2.7M540.5 448.7h6.3M549.5 448.7h0.9M551.8 448.7h0M536.4 449.2h0M538.6 449.6h1.8M542.2 449.6h0.9M546.2 449.5h0M547.8 449.5h0M549.5 449.6h0.9M536.0 450.4h0.9M538.6 450.4h1.8M542.2 450.4h7.2M534.4 450.9h0M536.0 451.4h1.8M539.6 451.4h3.6M544.8 451.7h0M546.8 451.4h0.9M534.1 452.2h0.9M536.9 452.2h0.9M539.6 452.2h6.3M547.6 452.3h0M533.2 453.2h0.9M536.0 453.2h1.8M539.2 453.4h0M541.4 453.2h6.3M532.4 454.1h1.8M537.8 454.1h0.9M540.5 454.1h1.8M544.1 454.1h0.9M530.1 455.3h0M531.5 454.9h1.8M536.0 454.9h6.3M545.0 454.9h0.9M530.6 455.9h1.8M534.1 455.9h1.8M537.8 455.9h1.8M541.4 455.9h3.6M528.8 456.8h4.5M535.1 456.8h3.6M540.5 456.8h3.6M527.3 458.0h0M528.8 457.7h12.6M527.9 458.6h8.1M537.8 458.6h0.9M540.5 458.6h1.8M526.1 459.4h5.4M533.2 459.4h1.8M536.9 459.4h3.6M525.1 460.4h0.9M528.8 460.4h5.4M536.0 460.4h3.6M524.2 461.2h8.1M534.1 461.2h1.8M537.8 461.2h1.8M525.1 462.2h11.7M538.7 462.1h0M524.2 463.1h7.2M533.2 463.1h4.5M525.1 463.9h7.2M534.1 463.9h2.7M526.1 464.9h2.7M530.6 464.9h5.4M527.0 465.8h2.7M531.5 465.8h2.7M528.8 466.7h5.4M529.6 467.6h3.6M529.6 468.4h2.7M530.6 469.4h1.8" stroke="#555" stroke-width="1.35" stroke-linecap="round" fill="none"/>
</g>
<rect x="436.8" y="332.4" width="221.09999999999997" height="226.0" fill="none" stroke="#111" stroke-width="0.9"/>
<line x1="435.20" y1="548.00" x2="436.80" y2="548.00" stroke="#111" stroke-width="0.7"/>
<line x1="447.30" y1="558.40" x2="447.30" y2="560.00" stroke="#111" stroke-width="0.7"/>
<text x="431.20" y="550.10" font-size="6.0" font-weight="bold" text-anchor="end" fill="#111">0</text>
<text x="446.80" y="567.10" font-size="6.0" font-weight="bold" text-anchor="middle" fill="#111">0</text>
<line x1="435.20" y1="479.70" x2="436.80" y2="479.70" stroke="#111" stroke-width="0.7"/>
<line x1="513.90" y1="558.40" x2="513.90" y2="560.00" stroke="#111" stroke-width="0.7"/>
<text x="431.20" y="481.80" font-size="6.0" font-weight="bold" text-anchor="end" fill="#111">5</text>
<text x="513.40" y="567.10" font-size="6.0" font-weight="bold" text-anchor="middle" fill="#111">5</text>
<line x1="435.20" y1="411.40" x2="436.80" y2="411.40" stroke="#111" stroke-width="0.7"/>
<line x1="580.50" y1="558.40" x2="580.50" y2="560.00" stroke="#111" stroke-width="0.7"/>
<text x="431.20" y="413.50" font-size="6.0" font-weight="bold" text-anchor="end" fill="#111">10</text>
<text x="580.00" y="567.10" font-size="6.0" font-weight="bold" text-anchor="middle" fill="#111">10</text>
<line x1="435.20" y1="343.10" x2="436.80" y2="343.10" stroke="#111" stroke-width="0.7"/>
<line x1="647.10" y1="558.40" x2="647.10" y2="560.00" stroke="#111" stroke-width="0.7"/>
<text x="431.20" y="345.20" font-size="6.0" font-weight="bold" text-anchor="end" fill="#111">15</text>
<text x="646.60" y="567.10" font-size="6.0" font-weight="bold" text-anchor="middle" fill="#111">15</text>
<text x="543.70" y="324.90" font-size="7" font-weight="bold" text-anchor="middle" fill="#111">Test&#160; vs Control</text>
<text x="545.20" y="573.80" font-size="7" font-weight="bold" text-anchor="middle" fill="#111">Control</text>
<text x="425.20" y="446.30" font-size="7.2" font-weight="bold" text-anchor="middle" fill="#111" transform="rotate(-90 425.20 446.30)">Test</text>
<text x="444.00" y="344.30" font-size="7.2" font-weight="bold" text-anchor="start" fill="#111">Pearson correlation: 0.909</text>
<circle cx="445.9" cy="350.60" r="2.1" fill="#ee1111"/>
<text x="451.70" y="353.20" font-size="7.2" font-weight="bold" text-anchor="start" fill="#111">Up_regulated genes (1050)</text>
<circle cx="445.9" cy="359.50" r="2.1" fill="#111111"/>
<text x="451.70" y="362.10" font-size="7.2" font-weight="bold" text-anchor="start" fill="#111">not differential expressed (9178)</text>
<circle cx="445.9" cy="368.40" r="2.1" fill="#22aa55"/>
<text x="451.70" y="371.00" font-size="7.2" font-weight="bold" text-anchor="start" fill="#111">Down_regulated genes (2645)</text>
<clipPath id="cE"><rect x="429.1" y="611.2" width="240.69999999999993" height="244.19999999999993"/></clipPath>
<g clip-path="url(#cE)">
<path d="M543.5 713.7h0M542.4 721.2h0M540.7 722.3h0M540.0 724.7h0M541.2 724.6h0M541.2 726.6h0M546.1 727.8h0M542.4 728.7h0M544.1 728.8h0M543.0 730.8h0M544.6 731.1h0M546.9 732.6h0M541.1 733.6h0M544.3 734.3h0M542.9 734.8h0M541.4 735.8h0.9M540.7 737.2h0M543.2 738.6h0M543.1 739.4h0.9M555.3 739.1h0M543.2 740.0h0M544.8 740.2h0M553.9 740.5h0M541.4 742.1h1.8M540.5 743.0h1.8M541.4 743.9h0.9M546.9 743.7h0M557.9 744.2h0M540.6 745.5h0M552.4 745.3h0M541.4 746.6h0.9M555.6 746.6h0M541.7 747.2h0M544.8 747.7h0M541.4 748.4h0.9M540.5 748.9h0M543.5 749.7h0M544.9 749.7h0M553.2 749.3h0M541.1 750.4h0M543.1 750.1h0.9M545.9 750.0h0M540.4 751.5h0M543.9 750.8h0M555.8 751.1h0.9M541.4 752.0h0.9M553.4 752.2h0M555.7 751.7h0M540.3 752.6h0M553.1 752.9h0.9M557.2 752.9h0M540.7 753.5h0M543.1 753.8h1.8M556.6 753.8h0.9M540.5 754.6h0.9M543.1 754.6h0.9M553.2 754.3h0M540.6 755.6h0M543.1 755.6h1.8M546.8 755.3h0M539.6 756.5h3.6M555.3 756.5h0M540.5 757.4h2.7M553.4 757.1h0M543.0 758.3h0M545.8 758.0h0M540.9 759.1h0M542.5 758.9h0M554.0 759.1h3.6M540.5 760.1h2.7M545.9 760.1h0.9M554.9 760.1h0.9M539.9 761.2h0M541.6 760.6h0M542.8 761.1h0M557.6 760.7h0M541.4 761.5h0M545.6 762.2h0M551.8 761.7h0M541.4 762.8h4.5M551.1 762.6h0M558.0 762.5h0M540.5 763.6h3.6M557.6 764.0h0M540.7 764.6h0M543.6 764.2h0M553.3 764.6h0M555.2 764.3h0M540.0 765.6h0M543.1 765.5h0.9M546.7 765.5h0M553.1 765.5h0.9M557.6 765.6h0M542.2 766.4h1.8M555.5 766.2h0M540.5 767.2h1.8M544.1 767.2h1.8M552.7 767.7h0M554.9 767.2h0.9M557.6 767.2h0.9M542.7 768.0h0M546.5 768.3h0M554.0 768.1h3.6M540.5 769.2h0M542.2 769.1h1.8M551.3 769.3h0M554.9 769.1h0.9M541.4 770.0h2.7M547.3 770.4h0M551.8 770.3h0M555.0 770.2h0M540.5 770.9h1.8M544.1 770.9h0.9M551.2 770.9h0.9M554.3 770.9h0M555.7 771.2h0M540.5 771.8h0.9M543.1 771.8h2.7M552.3 771.3h0M553.6 771.6h0M557.7 771.7h0M539.9 772.6h0M541.4 772.6h2.7M546.5 772.8h0M554.0 772.6h0.9M556.8 772.8h0M542.2 773.6h3.6M554.1 773.5h0M542.2 774.5h3.6M553.1 774.5h2.7M542.1 775.3h0M545.1 775.4h0M547.9 775.1h0M550.4 775.4h0.9M555.5 775.6h0M557.1 775.7h0M540.0 776.2h0M543.1 776.2h2.7M553.8 776.2h0M557.7 776.2h0M541.1 776.9h0M543.1 777.1h0.9M547.5 777.1h0M551.4 777.6h0M554.1 776.8h0M555.8 777.1h1.8M540.5 778.1h6.3M551.2 778.1h0.9M555.6 778.0h0M540.5 779.0h4.5M552.5 779.3h0M553.6 778.8h0M555.8 779.0h0.9M539.6 779.9h1.8M543.1 779.9h3.6M552.9 779.4h0M554.9 779.9h2.7M540.5 780.8h0.9M543.1 780.8h1.8M547.1 780.7h0M553.1 780.8h0.9M555.8 780.8h1.8M540.5 781.6h4.5M552.1 781.6h2.7M556.5 781.4h0M540.5 782.6h5.4M553.1 782.6h1.8M556.6 782.6h0.9M540.5 783.5h2.7M545.3 783.1h0M552.5 783.7h0M554.0 783.5h0.9M556.6 783.5h0.9M539.6 784.4h7.2M551.1 784.2h0M553.1 784.4h1.8M540.5 785.2h1.8M544.3 785.1h0M546.6 785.4h0M553.1 785.2h4.5M540.5 786.1h0.9M543.1 786.1h3.6M551.2 786.1h1.8M554.9 786.1h2.7M540.5 787.1h1.8M544.1 787.1h2.7M552.1 787.1h1.8M556.6 787.1h0.9M539.6 788.0h6.3M553.3 788.4h0M554.9 788.0h2.7M540.5 788.9h2.7M545.0 788.9h1.8M552.1 788.9h0.9M554.9 788.9h0.9M557.5 789.2h0M540.5 789.8h1.8M544.1 789.8h3.6M551.6 789.8h0M553.0 789.4h0M554.9 789.8h1.8M540.5 790.6h7.2M551.7 790.3h0M553.1 790.6h2.7M540.5 791.6h6.3M551.2 791.6h0.9M554.0 791.6h0.9M556.6 791.9h0M541.4 792.5h2.7M545.9 792.0h0M550.4 792.5h1.8M554.9 792.5h0.9M541.4 793.4h4.5M550.4 793.4h1.8M554.0 793.4h3.6M539.6 794.2h8.1M551.2 794.2h2.7M556.6 794.2h0.9M540.5 795.1h6.3M551.2 795.1h4.5M557.9 795.2h0M540.5 796.1h7.2M550.4 796.1h7.2M539.6 797.0h0.9M542.2 797.0h4.5M550.4 797.0h0.9M552.7 797.3h0M554.9 797.0h0.9M557.9 796.5h0M540.5 797.9h5.4M547.7 798.2h0M549.7 797.9h0M551.2 797.9h3.6M556.6 797.9h0.9M539.6 798.8h3.6M545.0 798.8h1.8M549.8 798.7h0M551.2 798.8h5.4M558.0 798.4h0M540.5 799.6h6.3M550.3 799.5h0M552.1 799.6h5.4M539.6 800.6h8.1M550.4 800.6h3.6M556.9 800.9h0M540.5 801.5h7.2M552.1 801.5h3.6M557.9 801.2h0M539.6 802.4h7.2M552.2 802.1h0M554.0 802.4h3.6M539.6 803.2h5.4M547.0 803.6h0M551.2 803.2h6.3M540.5 804.1h7.2M550.4 804.1h2.7M554.9 804.1h2.7M540.5 805.1h7.2M551.2 805.1h3.6M556.6 805.1h0.9M539.6 806.0h2.7M544.1 806.0h3.6M551.2 806.0h6.3M539.6 806.9h8.1M550.4 806.9h7.2M540.5 807.8h7.2M551.2 807.8h3.6M556.6 807.8h1.8M540.5 808.6h7.2M550.4 808.6h0.9M553.1 808.6h4.5M539.6 809.6h7.2M550.4 809.6h8.1M540.5 810.5h6.3M550.3 810.1h0M552.1 810.5h6.3M540.5 811.4h7.2M549.5 811.4h8.1M519.8 812.2h0.9M522.2 812.5h0M524.7 812.5h0M526.1 812.2h21.6M550.4 812.2h8.1M560.0 812.3h0M562.1 812.2h1.8M569.2 812.2h0M571.2 812.5h0M573.3 812.7h0M583.5 812.6h0M585.4 812.6h0M599.0 812.6h0M510.9 812.8h0M514.9 812.9h0M520.1 813.3h0M521.9 812.8h0M526.0 812.7h0M528.8 813.1h1.8M532.4 813.1h3.6M537.8 813.1h10.8M550.4 813.1h12.6M564.8 813.0h0M566.5 813.5h0M569.6 813.1h0M574.8 812.8h0M576.4 812.9h0M579.0 813.5h0M602.2 812.9h0M493.4 814.3h0M499.1 813.9h0M517.2 813.8h0M518.7 814.0h0M524.2 814.1h1.8M530.6 814.1h17.1M550.4 814.1h9.9M561.9 814.0h0M563.8 813.8h0M565.6 814.1h0.9M568.4 814.1h0.9M573.8 814.1h1.8M580.1 814.4h0M597.2 814.3h0M494.6 815.0h0.9M509.8 814.8h0M511.7 815.0h0.9M515.9 815.1h0M518.9 815.0h0.9M526.1 815.0h0.9M529.0 814.8h0M530.6 815.0h17.1M550.4 815.0h8.1M560.2 815.0h0.9M565.1 814.8h0M567.0 814.5h0M569.8 814.5h0M572.5 814.5h0M599.7 814.6h0M501.2 815.6h0M505.7 816.3h0M511.8 815.6h0M515.2 816.1h0M518.9 815.9h0.9M522.3 816.1h0M525.1 815.9h0.9M528.1 815.6h0M529.6 815.9h0.9M532.4 815.9h1.8M536.0 815.9h11.7M550.4 815.9h9M561.1 815.9h1.8M564.8 815.9h0.9M569.2 816.0h0M571.1 815.8h0M573.4 815.8h0M576.4 816.2h0M584.7 815.6h0M587.3 816.3h0M513.4 816.4h0M517.2 816.5h0M518.8 817.0h0M520.2 817.2h0M522.5 816.8h2.7M527.9 816.8h19.8M550.4 816.8h13.5M568.4 816.8h0.9M577.6 816.9h0M579.1 817.1h0M492.0 817.3h0M499.5 817.6h0M508.0 817.4h0M509.5 817.3h0M520.6 817.6h0.9M523.2 817.6h0M525.1 817.6h2.7M529.6 817.6h1.8M533.2 817.6h14.4M550.4 817.6h5.4M557.6 817.6h3.6M563.9 817.6h0.9M569.6 817.6h0M572.0 817.6h1.8M579.7 817.9h0M506.6 818.5h0M513.1 818.5h0M517.2 818.7h0M522.0 818.5h0M523.4 818.6h0.9M527.9 818.6h0.9M530.7 818.5h0M533.2 818.6h14.4M549.5 818.6h9.9M561.1 818.6h1.8M565.5 818.2h0M572.4 818.1h0M576.0 818.5h0M595.7 818.2h0M512.7 819.5h0M514.5 819.5h0M518.2 819.5h0M522.0 819.2h0M527.9 819.5h1.8M531.5 819.5h17.1M550.4 819.5h8.1M560.2 819.5h1.8M565.6 819.5h4.5M571.7 819.2h0M577.3 819.3h0M580.6 819.8h0M585.7 819.5h0M592.1 819.0h0M518.9 820.4h1.8M522.5 820.4h1.8M527.0 820.0h0M528.8 820.4h7.2M537.8 820.4h9.9M549.5 820.4h9.9M561.1 820.4h1.8M564.8 820.4h0.9M568.1 820.4h0M578.2 820.4h0M584.5 820.4h0M595.4 820.2h0M597.3 820.6h0M514.1 821.6h0M516.3 821.4h0M519.8 821.2h0.9M522.3 820.8h0M526.8 821.7h0M531.5 821.2h16.2M550.4 821.2h10.8M563.0 821.2h0.9M565.6 821.2h1.8M570.2 821.1h0M577.9 821.2h0M580.8 821.3h0M520.8 822.2h0M523.4 822.1h1.8M527.0 822.1h0.9M529.6 822.1h5.4M536.9 822.1h10.8M549.5 822.1h13.5M565.1 821.8h0M571.1 822.2h0M573.0 821.9h0M581.1 822.5h0M516.1 823.1h1.8M521.8 823.2h0M523.4 823.0h0M525.1 823.1h0.9M527.9 823.1h1.8M532.4 823.1h30.6M565.6 823.1h0.9M512.7 824.3h0M521.0 823.6h0M526.9 823.8h0M528.8 824.0h19.8M550.4 824.0h6.3M558.5 824.0h3.6M564.3 824.1h0M565.4 824.0h0M567.2 823.5h0M569.2 824.0h0.9M573.6 823.6h0M577.7 823.8h0M520.6 824.9h0M524.6 824.5h0M530.2 825.2h0M532.4 824.9h16.2M550.4 824.9h9M561.1 824.9h0.9M563.9 824.9h0.9M566.6 824.9h0M570.1 824.7h0M572.4 824.8h0M522.5 825.8h0.9M524.9 825.9h0M527.0 825.8h20.7M550.4 825.8h15.3M567.2 825.4h0M569.9 825.7h0M575.8 826.0h0M521.4 827.1h0M524.2 826.6h1.8M527.9 826.6h0.9M530.6 826.6h2.7M535.1 826.6h13.5M550.4 826.6h10.8M563.9 826.6h1.8M568.7 826.8h0M570.2 826.8h0M572.3 826.3h0M519.6 827.8h0M521.5 827.8h0M524.8 827.4h0M527.9 827.6h0.9M530.9 827.3h0M532.0 827.2h0M534.1 827.6h13.5M549.7 827.6h0M551.2 827.6h9.9M563.4 828.0h0M565.3 827.4h0M568.6 827.2h0M527.0 828.5h1.8M531.5 828.5h1.8M535.1 828.5h25.2M562.1 828.5h2.7M575.1 828.7h0M524.6 829.4h0M526.1 829.4h0.9M533.2 829.4h1.8M536.9 829.4h27M569.4 829.5h0M571.1 829.4h1.8M526.5 829.9h0M530.6 830.2h0.9M533.2 830.2h29.7M565.3 830.0h0M531.5 831.1h29.7M563.0 831.1h0.9M567.5 831.1h0.9M530.6 832.1h3.6M536.0 832.1h12.6M550.4 832.1h12.6M565.6 832.0h0M532.4 833.0h0.9M535.0 832.8h0M536.9 833.0h26.1M534.6 833.8h0M536.9 833.9h19.8M558.5 833.9h0.9M561.1 833.9h1.8M536.9 834.8h26.1M536.3 835.6h0M537.8 835.6h19.8M559.4 835.6h1.8M537.8 836.6h21.6M538.6 837.5h18M559.3 837.0h0M540.5 838.4h16.2M541.4 839.2h14.4M543.1 840.1h12.6M544.1 841.1h9M545.0 842.0h7.2M546.8 842.9h4.5M547.6 843.8h2.7" stroke="#555" stroke-width="1.35" stroke-linecap="round" fill="none"/>
<path d="M525.6 645.7h0M458.2 647.8h0M532.2 696.9h0M527.3 698.5h0M477.0 707.3h0M523.4 707.8h0M537.3 710.6h0M498.2 713.5h0M525.6 713.1h0M517.4 719.6h0M491.6 721.3h0M512.5 721.0h0M527.4 721.5h0M490.8 722.5h0M521.2 722.3h0M528.8 723.1h0M507.2 724.8h0M526.0 724.6h0M439.5 728.0h0M524.9 727.4h0M481.8 728.8h0M497.8 728.2h0M521.1 729.1h0M466.3 730.1h0M537.4 730.1h0M504.4 731.2h0M521.9 731.9h0M530.3 731.7h0M510.3 733.3h0M462.0 736.0h0M539.0 735.7h0M508.9 736.3h0M528.8 737.4h0M498.3 738.9h0M528.4 738.8h0M536.2 738.6h0M539.5 738.1h0M516.1 739.4h0.9M523.0 739.2h0M524.9 739.1h0M532.5 739.2h0M528.6 740.7h0M531.9 740.7h0M533.2 740.6h0M449.6 741.0h0M513.8 741.4h0M515.3 741.3h0M537.9 740.8h0M504.2 741.9h0M524.3 742.3h0M517.9 743.3h0M525.4 743.1h0M536.6 743.2h0M539.0 743.1h0M510.2 743.8h0M535.4 743.7h0M539.4 743.5h0M499.7 745.2h0M503.2 745.0h0M518.0 744.8h0.9M520.8 744.6h0M538.1 744.3h0M474.9 746.0h0M499.5 745.7h0M506.2 745.6h0.9M514.3 745.6h0M519.0 745.3h0M528.2 746.0h0M535.9 745.8h0M538.6 745.2h0M502.0 746.9h0M525.3 746.9h0M531.5 746.6h0M473.6 747.9h0M500.8 747.2h0M520.5 747.4h0M524.2 747.5h0.9M529.8 747.1h0M534.1 747.5h1.8M472.5 748.5h0M494.2 748.6h0M500.2 748.7h0M501.4 747.9h0M513.7 748.7h0M517.7 748.6h0M519.8 748.4h0.9M467.6 749.2h0.9M491.3 749.3h0M492.8 749.1h0M503.9 749.4h0M514.5 749.6h0M525.4 749.4h0M533.8 749.0h0M536.0 749.2h0.9M491.9 750.2h0M510.4 750.1h0M512.3 750.3h0M514.5 749.8h0M517.1 750.4h0M527.2 750.5h0M534.5 750.1h0M537.8 750.0h0M510.5 750.8h0M517.4 750.6h0M525.5 751.0h0M530.6 751.1h0.9M534.6 750.6h0M537.8 751.1h0.9M502.9 751.5h0M518.0 752.1h0M524.2 751.5h0M528.5 751.7h0M530.8 752.4h0M532.4 752.0h0.9M534.9 752.3h0M539.8 751.9h0M487.2 752.6h0M511.8 752.8h0M519.7 752.8h0M525.9 752.9h0M531.4 752.7h0M495.3 753.5h0M501.8 753.4h0M507.9 753.5h0M512.8 754.2h0M517.1 753.8h0.9M521.6 753.8h0.9M537.8 753.8h0.9M508.9 755.0h0M521.6 754.6h0.9M529.2 754.7h0M531.7 755.0h0M537.8 754.6h1.8M505.1 755.3h0M507.2 756.0h0M511.3 755.2h0M531.0 756.0h0M534.6 755.7h0M539.1 755.9h0M473.7 756.9h0M496.9 756.1h0M499.6 756.9h0M511.8 756.1h0M518.0 756.5h0.9M528.8 756.5h0.9M531.2 756.1h0M538.1 756.8h0M493.7 757.6h0M496.2 757.2h0M510.7 757.0h0M514.4 757.7h0M522.5 757.4h0.9M525.1 757.4h0.9M528.4 757.3h0M534.1 757.4h2.7M539.4 757.7h0M511.3 758.0h0M518.8 758.1h0M522.6 758.6h0M527.8 758.2h0M536.0 758.2h3.6M502.5 758.8h0M504.4 759.1h0.9M508.1 758.9h0M509.4 759.2h0M514.2 758.9h0M517.1 759.0h0M525.1 759.1h0.9M530.4 758.7h0M535.1 759.1h0.9M497.4 760.1h0M501.1 759.7h0M504.4 760.1h0.9M515.7 759.6h0M524.5 760.0h0M529.8 760.3h0M538.0 760.1h0M514.7 761.3h0M516.9 761.0h0M522.1 761.3h0M524.0 760.8h0M529.2 760.6h0M533.8 760.7h0M539.2 760.6h0M483.7 762.0h0M519.6 762.1h0M527.8 762.0h0M529.3 761.8h0M531.5 761.9h2.7M539.8 761.5h0M484.3 763.2h0M505.9 762.4h0M511.4 763.2h0M523.4 763.2h0M526.6 762.9h0M531.4 762.9h0M533.8 763.0h0M495.8 763.7h0M511.7 763.6h0.9M523.1 763.7h0M527.9 763.6h0.9M534.0 764.0h0M538.1 763.4h0M497.4 764.6h0M498.8 764.7h0M509.2 764.8h0M510.8 764.3h0M513.5 764.6h1.8M517.4 764.9h0M520.6 764.6h0.9M524.7 764.7h0M525.6 764.4h0M530.0 764.5h0M533.3 764.4h0M536.9 764.6h2.7M477.9 765.8h0M496.9 765.4h0M507.0 765.5h0M509.4 765.2h0M522.3 765.5h0M529.7 765.2h0M534.1 765.5h0.9M538.2 765.1h0M539.6 765.9h0M481.6 766.7h0M493.9 766.4h0M507.8 766.1h0M519.8 766.4h0.9M522.3 766.6h0M524.7 766.5h0M529.0 766.3h0M530.9 766.6h0M532.9 766.7h0M535.1 766.1h0M536.9 766.4h2.7M493.3 767.0h0M501.5 767.1h0M507.2 767.1h0M511.8 767.1h0M519.0 767.5h0M520.4 767.2h0M522.5 767.2h0.9M527.0 767.2h0.9M529.3 767.2h0M531.4 767.6h0M533.2 767.2h1.8M536.6 767.0h0M493.8 768.3h0M504.0 767.7h0M513.0 768.6h0M515.5 768.3h0M517.1 768.1h1.8M522.2 768.6h0M524.8 768.4h0M529.2 767.8h0M530.6 768.1h2.7M538.6 768.1h0.9M516.4 768.9h0M522.4 769.3h0M523.8 769.0h0M526.4 769.5h0M529.0 768.8h0M532.4 769.1h0.9M534.8 768.9h0M538.6 769.3h0M497.0 769.8h0M501.0 770.1h0M508.7 770.1h0M516.5 769.8h0M517.9 769.6h0M523.4 770.0h2.7M527.9 770.0h0M531.0 770.0h0M533.2 770.0h1.8M538.2 770.3h0M494.2 770.4h0M502.1 771.2h0M504.0 771.1h0M507.2 771.3h0M511.7 770.7h0M520.0 770.7h0M525.6 770.8h0M528.1 771.0h0M529.9 770.4h0M533.2 770.9h1.8M536.9 770.9h2.7M451.7 771.4h0M456.7 772.1h0M506.4 771.5h0M508.8 771.7h0M512.1 771.3h0M516.0 772.1h0M518.1 771.5h0M520.9 772.2h0M523.4 771.8h0.9M529.4 772.1h0M531.5 771.8h0.9M534.4 772.0h0M536.9 771.8h0.9M539.4 771.4h0M462.2 772.6h0M508.7 772.3h0M512.4 772.5h0M516.4 773.1h0M519.1 772.8h0M522.5 772.6h2.7M526.6 772.8h0M531.5 772.6h1.8M537.8 772.6h1.8M502.7 773.6h1.8M511.7 773.6h0.9M519.0 773.9h0M520.6 773.6h0.9M524.2 773.6h0.9M526.8 773.8h0M536.0 773.6h2.7M456.5 774.1h0M492.9 774.6h0M503.2 774.0h0M513.0 774.5h0M514.0 774.6h0M516.1 774.5h0.9M518.6 774.6h0M520.5 774.8h0M522.3 774.8h0M525.1 774.5h0.9M532.6 774.3h0M536.0 774.7h0M538.6 774.5h0.9M501.0 775.5h0M505.3 775.7h0M507.7 775.4h0M515.7 775.7h0M518.9 775.6h0M523.9 775.5h0M528.8 775.4h0.9M531.8 775.1h0M533.2 775.4h0.9M535.5 775.2h0M537.8 775.4h1.8M480.3 776.3h0M503.3 776.0h0M505.4 776.2h0.9M513.3 776.2h0M515.0 776.2h0M517.3 775.9h0M519.0 776.1h0M524.3 775.8h0M526.6 776.0h0M531.5 776.2h4.5M538.6 776.2h0.9M438.6 777.1h0M468.7 776.9h0M498.2 777.0h0M506.7 777.1h0M509.0 777.1h0M512.6 777.1h0.9M517.2 777.3h0M522.8 776.8h0M524.4 777.4h0M526.1 777.1h2.7M530.9 777.3h0M534.1 777.1h2.7M538.8 777.6h0M454.3 778.2h0M497.3 777.7h0M500.2 777.7h0M511.1 778.1h0M513.4 778.3h0M516.1 778.4h0M518.0 778.1h0.9M520.5 778.0h0M524.2 778.1h1.8M530.6 778.1h0.9M533.2 778.1h2.7M537.8 778.1h1.8M508.1 779.0h0.9M515.6 778.6h0M518.9 779.0h3.6M524.2 779.0h0.9M527.1 779.0h0M528.8 779.0h2.7M533.2 778.8h0M536.0 779.0h3.6M494.5 779.9h0M509.2 780.1h0M510.8 779.7h0M516.1 779.9h0.9M520.6 779.9h0.9M523.4 779.9h5.4M530.6 779.9h3.6M538.6 779.9h0.9M476.9 780.7h0M505.2 780.6h0M512.5 780.6h0M517.1 780.8h0.9M520.6 780.8h0.9M523.4 780.8h2.7M528.5 781.2h0M531.5 780.8h1.8M535.1 780.8h3.6M454.3 781.2h0M469.3 781.6h0M502.2 781.4h0M505.1 781.7h0M511.1 781.6h0M514.7 781.7h0M520.5 782.0h0M522.2 781.7h0M524.6 781.3h0M526.1 781.6h7.2M534.9 781.4h0M536.9 781.6h1.8M483.5 783.0h0M504.4 782.7h0M506.6 782.9h0M510.2 782.3h0M513.3 782.6h0M518.5 782.3h0M520.6 782.6h0.9M523.7 782.8h0M525.1 782.6h1.8M528.6 782.1h0M530.6 782.6h1.8M535.3 782.3h0M539.1 782.4h0M500.9 783.5h0.9M504.2 783.2h0M507.5 783.7h0M509.1 783.8h0M510.7 783.7h0M514.0 783.0h0M515.9 783.7h0M517.9 783.5h0M520.6 783.5h0.9M524.2 783.5h1.8M527.9 783.5h0.9M530.3 783.3h0M534.1 783.5h4.5M485.8 784.1h0M493.0 784.1h0M497.8 784.1h0M510.5 784.0h0M514.4 784.4h0.9M518.9 784.4h2.7M525.1 784.4h0.9M527.9 784.4h0.9M530.2 784.2h0M532.4 784.4h1.8M536.0 784.4h1.8M539.5 784.6h0M489.4 785.3h0M498.9 785.6h0M505.9 784.9h0M507.7 784.9h0M511.7 785.2h2.7M516.1 785.2h0.9M518.9 785.2h1.8M522.5 785.2h0.9M524.9 785.6h0M527.0 785.2h5.4M534.1 785.2h0.9M536.9 785.2h2.7M502.5 785.9h0M505.3 786.0h0M511.1 786.4h0M513.7 786.4h0M516.7 786.0h0M519.3 786.5h0M521.6 786.1h0.9M526.1 786.1h2.7M530.6 786.1h2.7M536.0 786.1h0.9M538.6 786.1h0.9M502.1 786.8h0M515.2 787.1h2.7M524.2 787.1h3.6M529.5 786.6h0M531.3 787.4h0M533.2 787.1h1.8M536.9 787.1h1.8M458.0 788.0h0M481.4 787.6h0M492.6 787.6h0M497.1 788.0h0M508.7 787.6h0M511.9 787.7h0M515.2 788.0h1.8M518.9 788.0h1.8M523.4 788.0h0.9M527.2 788.2h0M528.8 788.0h6.3M536.9 788.0h2.7M490.2 788.8h0M498.7 789.1h0M502.7 788.7h0M504.0 788.7h0M512.5 788.7h0M515.2 788.9h1.8M518.9 788.9h2.7M522.9 789.1h0M525.1 788.9h0.9M527.9 788.9h3.6M533.2 788.9h6.3M457.1 789.9h0M464.4 789.8h0M494.7 789.5h0M496.3 789.4h0M515.5 789.5h0M518.0 789.8h1.8M522.5 789.8h1.8M526.1 789.8h0.9M529.9 789.9h0M531.5 789.6h0M533.2 789.8h6.3M502.1 790.5h0M507.0 790.9h0M508.9 790.6h0.9M513.5 790.6h0.9M518.9 790.6h2.7M523.4 790.6h0.9M527.0 790.6h2.7M531.5 790.6h6.3M539.4 790.4h0M506.4 791.3h0M509.0 791.8h0M510.5 791.5h0M513.7 791.6h0M515.2 791.6h1.8M518.9 791.6h1.8M522.6 791.1h0M523.9 791.6h0M527.0 791.6h0.9M529.6 791.6h9.9M475.9 792.8h0M499.2 792.0h0M510.2 792.1h0M511.7 792.5h1.8M518.1 792.6h0M519.8 792.6h0M521.6 792.5h2.7M526.1 792.5h0.9M528.8 792.5h1.8M532.4 792.5h2.7M536.9 792.5h2.7M490.9 793.7h0M503.1 793.3h0M506.9 793.5h0M512.6 793.4h1.8M516.1 793.4h0.9M519.5 793.4h0M522.0 793.7h0M524.2 793.4h0.9M527.0 793.4h12.6M447.6 794.1h0M457.1 794.1h0M508.5 794.3h0M514.6 794.2h0M516.1 794.2h4.5M522.5 794.2h0.9M526.1 794.2h4.5M532.4 794.2h1.8M536.0 794.2h3.6M450.4 795.0h0M494.4 795.0h0M508.9 795.1h0.9M512.3 795.5h0M515.9 794.7h0M518.1 794.9h0M519.8 795.1h0.9M523.5 795.3h0M527.0 795.1h0.9M530.0 794.8h0M532.4 795.1h7.2M458.6 795.9h0M502.2 795.9h0M506.3 796.0h0M510.7 796.2h0M513.7 795.8h0M517.1 796.1h0.9M521.7 796.3h0M523.4 796.1h0.9M527.2 795.9h0M528.9 796.3h0M530.6 796.1h2.7M535.1 796.1h1.8M538.6 796.1h0.9M503.1 796.9h0M511.7 797.0h0.9M517.8 796.9h0M521.6 797.0h0.9M524.7 796.8h0M527.0 797.0h3.6M533.0 796.8h0M535.1 797.0h1.8M538.6 797.0h0.9M469.2 798.3h0M483.2 797.7h0M497.6 798.1h0M499.9 797.9h0M506.2 797.9h1.8M510.3 798.3h0M511.4 797.4h0M514.8 797.5h0M518.9 797.9h1.8M524.2 797.9h0.9M527.0 797.9h10.8M539.9 797.5h0M474.6 798.5h0M478.0 798.6h0M491.7 798.8h0M506.6 799.0h0M513.5 798.8h0.9M516.1 798.8h1.8M520.4 798.3h0M522.7 798.4h0M526.1 798.8h13.5M498.5 799.6h0M502.0 799.8h0M503.3 799.5h0M508.9 799.6h0.9M511.7 799.6h0M513.6 799.3h0M520.6 799.6h0.9M523.4 799.6h4.5M529.6 799.6h9.9M485.6 800.8h0M491.4 800.7h0M499.4 800.2h0M507.4 800.7h0M514.3 800.5h0M517.1 800.6h0.9M521.6 800.6h3.6M527.0 800.6h3.6M532.4 800.6h7.2M485.4 801.6h0M492.6 801.8h0M497.1 801.1h0M505.4 801.5h0.9M508.8 801.0h0M516.4 801.4h0M518.0 801.5h4.5M524.2 801.5h1.8M527.8 801.3h0M529.6 801.5h0.9M532.4 801.5h7.2M470.3 802.4h0M480.1 802.3h0M484.0 802.0h0M511.9 802.2h0M513.3 802.0h0M516.1 802.4h1.8M520.1 802.8h0M524.1 802.3h0M526.3 802.6h0M527.9 802.4h3.6M533.2 802.4h0.9M536.9 802.4h2.7M478.7 803.1h0M483.6 802.8h0M502.9 803.2h0M508.9 803.2h0.9M511.7 803.2h1.8M515.9 803.1h0M520.3 803.2h0M524.2 803.2h1.8M527.9 803.2h0.9M530.5 803.0h0M532.4 803.2h7.2M482.1 804.1h0M509.5 804.3h0M511.4 803.9h0M515.2 804.1h0.9M520.0 803.8h0M522.5 804.1h0.9M525.1 804.1h0.9M528.0 804.6h0M529.6 804.1h9.9M500.8 804.7h0M510.3 805.1h0M512.3 804.8h0M514.1 805.5h0M516.1 805.1h0.9M520.6 805.1h0.9M523.4 805.1h1.8M527.0 805.1h3.6M534.1 805.1h5.4M478.7 806.3h0M491.9 805.5h0M511.3 805.9h0M515.5 806.2h0M517.1 806.0h0.9M519.9 805.7h0M522.9 806.0h0M525.1 806.0h14.4M482.5 807.1h0M488.7 806.9h0M501.2 807.0h0M503.2 807.0h0M505.4 806.9h0.9M509.9 807.2h0M517.1 806.9h1.8M521.2 807.1h0M525.1 806.9h0.9M527.9 806.9h5.4M535.1 806.9h4.5M509.4 808.2h0M515.7 807.9h0M517.7 808.1h0M524.2 807.8h1.8M527.9 807.8h0.9M530.6 807.8h9M465.6 808.5h0M499.5 808.6h0M514.4 808.6h2.7M519.9 808.7h0M522.5 808.6h1.8M526.4 808.3h0M527.9 808.6h11.7M503.1 809.1h0M513.6 809.9h0M515.2 809.6h0.9M521.6 809.6h0.9M524.2 809.6h1.8M529.6 809.6h1.8M534.1 809.6h5.4M487.8 810.4h0M492.3 810.3h0M498.2 810.5h0.9M510.9 810.9h0M516.4 810.9h0M520.8 810.5h0M522.5 810.5h0.9M525.1 810.6h0M527.0 810.5h0.9M529.6 810.5h2.7M534.1 810.5h5.4M508.2 811.1h0M512.2 810.9h0M515.5 811.1h0M517.3 811.7h0M520.6 811.4h6.3M528.8 811.4h10.8M514.5 811.8h0M521.4 812.0h0M524.2 812.2h0.9M530.1 811.9h0M534.1 812.2h0.9M536.6 811.8h0M538.7 811.9h0" stroke="#3cc07a" stroke-width="1.5" stroke-linecap="round" fill="none"/>
<path d="M593.5 621.2h0M596.4 663.6h0M568.5 689.4h0M582.2 694.8h0M566.8 704.0h0M604.7 704.0h0M596.8 707.3h0M611.8 709.8h0M567.3 710.6h0M563.1 722.8h0M583.9 724.8h0M598.7 731.5h0M568.7 732.2h0M579.4 734.0h0M565.2 735.8h0M564.7 737.0h0M561.9 738.0h0M607.2 739.4h0M590.6 740.4h0M560.8 742.1h0M568.6 742.1h0M572.9 742.9h0M560.3 744.1h0M562.1 744.4h0M566.5 744.9h0M588.0 745.2h0M568.3 745.3h0M558.6 746.5h0M563.3 746.2h0M564.9 747.0h0M577.3 746.9h0M621.1 746.1h0M562.0 747.5h0M563.5 747.7h0M579.3 747.1h0M628.5 747.2h0M569.7 748.1h0M584.4 747.9h0M573.0 749.6h0M600.2 749.1h0M558.7 750.1h0M560.2 749.8h0M587.7 749.9h0M589.5 750.2h0M657.7 749.8h0M568.8 751.0h0M570.6 751.1h0M603.8 751.4h0M575.3 751.9h0M580.9 752.1h0M591.7 751.9h0M568.3 753.2h0M587.6 752.7h0M559.2 754.0h0M566.5 753.3h0M572.0 754.6h0.9M574.5 754.7h0M580.1 754.9h0M589.5 754.7h0M560.2 755.4h0M562.4 755.7h0M571.2 755.2h0M581.6 755.2h0M584.3 755.8h0M605.7 755.5h0M607.5 755.9h0M560.2 756.5h0.9M575.3 756.7h0M594.4 756.8h0M601.0 756.3h0M608.2 756.6h0M565.7 757.5h0M571.1 757.4h0.9M579.2 757.7h0M580.5 757.0h0M586.3 757.4h0M561.1 758.2h0.9M566.7 758.0h0M570.1 758.3h0M576.0 758.1h0M591.7 757.9h0M583.0 758.9h0M605.4 759.4h0M659.4 759.1h0M565.3 759.7h0M568.4 759.6h0M661.1 760.1h0M579.5 760.6h0M589.0 761.1h0M560.2 761.9h0.9M587.6 761.9h0M562.5 762.9h0M567.7 762.8h0M569.8 762.7h0M571.7 762.6h0M575.7 762.8h0M580.2 762.8h0M592.0 762.5h0M559.3 763.4h0M562.1 763.3h0M565.4 764.0h0M568.5 763.7h0M584.3 763.6h0M585.9 764.1h0M564.9 764.1h0M566.1 764.9h0M568.9 764.9h0M611.8 764.3h0M562.1 765.8h0M565.6 765.5h0.9M572.5 765.8h0M575.3 765.5h0M579.6 765.8h0M597.2 765.8h0M661.1 765.1h0M565.6 766.7h0M570.5 766.1h0M571.9 766.5h0M579.9 766.3h0M589.2 766.7h0M593.4 766.2h0M596.0 766.4h0M605.3 766.4h0M566.6 767.6h0M569.9 767.5h0M572.9 767.2h0M596.5 767.5h0M610.9 767.6h0M627.8 767.2h0.9M559.4 768.1h0.9M577.8 768.1h0M584.8 768.1h0M559.1 768.7h0M565.8 768.6h0M576.5 769.1h0M600.6 769.3h0M560.1 770.1h0M562.9 770.3h0M567.8 770.3h0M573.4 770.3h0M600.7 769.6h0M560.2 770.9h0.9M565.1 771.0h0M569.2 770.9h2.7M573.7 770.8h0M576.9 771.0h0M602.8 771.1h0M627.8 770.7h0M649.9 770.7h0M560.1 771.4h0M562.0 771.5h0M564.5 771.6h0M571.2 771.7h0M573.4 771.7h0M575.4 772.2h0M629.4 771.8h0M570.8 773.0h0M572.9 772.6h0.9M575.1 772.9h0M582.0 773.1h0M618.1 772.3h0M565.1 773.4h0M572.9 773.8h0M581.0 773.6h0.9M600.6 773.2h0M638.1 773.2h0M560.7 774.6h0M563.8 774.6h0M570.4 774.1h0M574.6 774.5h0.9M577.9 774.6h0M582.0 774.5h0M595.9 774.1h0M604.4 774.5h0M654.0 774.7h0M558.5 775.4h0.9M561.1 775.4h0.9M566.5 775.8h0M573.8 775.3h0M583.0 775.7h0M584.8 775.5h0M563.7 776.4h0M570.9 776.0h0M577.9 776.4h0M604.8 776.5h0M616.4 776.2h0M562.2 777.4h0M566.8 777.4h0M568.9 777.6h0M573.9 776.9h0M589.7 776.7h0M592.2 777.5h0M558.2 778.1h0M560.2 778.1h0.9M563.9 778.1h0.9M566.8 778.3h0M571.4 777.7h0M584.0 777.8h0M589.1 778.1h0.9M591.8 778.0h0M563.7 778.7h0M565.8 779.1h0M570.1 779.0h1.8M575.9 778.7h0M585.5 778.7h0M587.2 779.0h0.9M559.4 779.9h1.8M563.6 780.1h0M568.0 780.2h0M572.0 779.9h0.9M575.2 779.7h0M586.4 779.9h0.9M607.4 780.0h0M560.9 781.2h0M563.0 780.4h0M564.4 781.0h0M567.2 780.5h0M570.0 781.2h0M572.5 780.3h0M574.5 780.9h0M576.8 780.6h0M581.1 780.5h0M586.9 780.6h0M589.1 780.7h0M565.3 781.3h0M568.4 781.6h0.9M570.9 781.8h0M574.6 781.6h0.9M592.0 781.2h0M594.8 781.7h0M559.2 782.4h0M563.9 782.6h0.9M566.9 782.6h0M572.0 782.6h0.9M586.9 782.2h0M589.8 782.4h0M592.8 782.5h0M558.5 783.5h0M562.4 783.7h0M564.4 783.3h0M568.4 783.5h0.9M571.0 783.2h0M587.8 783.2h0M590.3 783.6h0M599.6 783.7h0M611.8 783.8h0M558.2 784.7h0M560.9 784.2h0M563.0 784.4h1.8M568.4 784.3h0M572.4 783.9h0M576.1 784.2h0M578.8 784.5h0M584.0 784.5h0M599.0 784.4h0M558.5 785.2h2.7M563.4 785.1h0M565.9 785.4h0M558.5 786.1h1.8M562.1 786.1h2.7M572.7 786.3h0M578.2 786.1h0.9M588.8 786.2h0M590.9 786.1h0.9M603.7 786.0h0M630.5 786.0h0M558.5 787.1h2.7M563.4 787.1h0M565.6 787.1h0.9M569.0 786.8h0M571.6 787.3h0M577.4 787.2h0M580.1 787.1h0.9M591.9 787.4h0M596.2 787.1h0.9M614.1 787.3h0M558.5 788.0h3.6M565.4 787.9h0M569.4 787.9h0M573.9 787.6h0M577.2 787.8h0M581.5 788.0h0M593.1 788.1h0M603.8 788.0h0M610.6 787.7h0M614.4 787.8h0M633.9 787.7h0M558.9 788.6h0M562.5 788.6h0M565.6 788.6h0M567.5 788.9h0M570.1 788.9h0.9M576.8 788.7h0M585.2 788.8h0M589.0 788.6h0M591.2 789.1h0M559.1 789.6h0M563.9 789.8h2.7M570.1 789.8h0.9M577.1 789.5h0M582.4 789.4h0M584.5 789.5h0M631.1 789.9h0M558.8 790.9h0M563.0 790.6h1.8M566.6 790.6h1.8M574.2 790.7h0M577.7 790.8h0M579.5 790.8h0M600.3 791.0h0M615.1 790.3h0M561.0 791.5h0M563.0 791.6h1.8M566.6 791.6h0.9M569.0 791.2h0M570.8 791.4h0M572.6 791.7h0M576.0 791.5h0M582.6 791.8h0M607.7 791.9h0M628.2 791.5h0M559.4 792.5h0.9M562.1 792.5h0.9M564.6 792.6h0M571.1 792.5h1.8M575.5 792.9h0M578.2 792.5h0.9M585.0 792.4h0M588.2 792.6h0M626.9 792.7h0M636.0 792.7h0M559.4 793.5h0M561.6 793.3h0M563.0 793.4h1.8M567.5 793.4h0.9M570.1 793.4h2.7M577.0 792.9h0M578.8 793.5h0M589.1 793.4h0.9M606.7 793.4h0M560.2 794.2h0.9M565.6 794.2h0.9M577.0 794.5h0M558.5 795.1h1.8M562.1 794.9h0M563.9 795.4h0M566.6 795.1h0.9M572.9 795.0h0M578.1 795.1h0M588.9 794.8h0M590.6 795.4h0M608.8 794.8h0M558.5 796.1h0.9M561.1 796.1h1.8M564.8 796.1h0.9M567.7 796.2h0M570.6 795.7h0M577.1 795.7h0M578.7 796.4h0M583.0 795.9h0M594.4 795.9h0M629.3 795.8h0M558.5 797.0h1.8M563.0 797.0h1.8M566.3 796.8h0M569.2 797.0h0.9M573.1 797.2h0M574.2 796.6h0M576.6 797.1h0M577.8 797.3h0M580.9 796.8h0M590.4 797.0h0M558.5 797.9h0.9M562.1 797.9h0.9M565.0 797.9h0M566.6 797.6h0M569.2 797.7h0M571.0 797.7h0M572.4 797.4h0M590.6 797.8h0M597.5 797.5h0M606.5 798.0h0M611.8 797.8h0M558.5 798.8h1.8M562.1 798.8h0.9M568.3 799.1h0M572.9 798.8h1.8M578.8 799.2h0M581.4 798.8h0M593.6 798.9h0M626.4 798.9h0M631.5 798.4h0M558.5 799.6h0.9M561.1 799.6h0M563.0 799.6h0.9M565.5 799.5h0M568.6 799.3h0M573.9 799.2h0M579.4 799.4h0M599.5 800.1h0M617.1 800.1h0M558.5 800.6h6.3M566.6 800.6h1.8M577.5 800.5h0M558.5 801.5h2.7M563.7 801.9h0M565.6 801.5h1.8M569.2 801.5h0.9M576.7 801.2h0M593.4 801.2h0M602.1 801.6h0M558.5 802.4h4.5M564.8 802.4h1.8M569.4 802.6h0M580.2 802.1h0M586.1 802.4h0M588.1 802.4h0.9M559.4 803.2h0.9M563.0 803.2h5.4M570.1 803.2h0.9M577.3 802.8h0M581.9 803.2h0.9M584.5 803.4h0M603.6 802.9h0M558.5 804.1h0.9M561.1 804.1h3.6M569.2 804.1h0.9M572.0 804.1h2.7M585.9 804.5h0M559.4 805.1h0.9M562.1 805.1h0.9M566.5 804.7h0M569.6 804.6h0M570.7 805.1h0M575.2 805.0h0M578.5 805.0h0M589.8 804.8h0M558.2 805.8h0M560.5 805.9h0M562.1 806.0h0.9M564.9 805.9h0M567.5 806.0h0.9M573.7 805.7h0M589.4 805.9h0M558.5 806.9h3.6M563.9 806.9h1.8M569.2 806.9h2.7M574.6 806.9h0.9M578.7 806.8h0M580.6 807.3h0M583.6 806.9h0.9M601.2 806.7h0M558.5 807.8h0.9M561.1 807.8h0.9M563.9 807.8h1.8M569.2 807.8h1.8M577.2 807.5h0M580.5 807.3h0M558.5 808.6h0.9M561.1 808.4h0M563.9 808.6h1.8M567.1 808.5h0M569.9 808.9h0M575.3 809.1h0M578.6 808.3h0M584.1 808.3h0M585.7 809.0h0M559.7 809.4h0M561.1 809.6h6.3M570.1 809.6h0.9M575.6 809.6h0.9M582.9 809.5h0M586.1 809.6h0M558.5 810.5h3.6M563.9 810.5h1.8M567.7 810.2h0M572.2 810.8h0M574.1 810.6h0M575.5 810.4h0M578.8 810.5h0M586.4 810.3h0M558.5 811.4h5.4M567.5 811.4h2.7M572.1 811.3h0M601.6 811.2h0M564.9 812.0h0" stroke="#cb2424" stroke-width="1.5" stroke-linecap="round" fill="none"/>
<line x1="540.40" y1="611.20" x2="540.40" y2="855.40" stroke="#45b458" stroke-width="0.8" stroke-dasharray="2 1.4"/>
<line x1="558.60" y1="611.20" x2="558.60" y2="855.40" stroke="#45b458" stroke-width="0.8" stroke-dasharray="2 1.4"/>
<line x1="429.10" y1="812.00" x2="669.80" y2="812.00" stroke="#45b458" stroke-width="0.8" stroke-dasharray="2 1.4"/>
</g>
<rect x="429.1" y="611.2" width="240.69999999999993" height="244.19999999999993" fill="none" stroke="#111" stroke-width="0.9"/>
<line x1="427.50" y1="844.20" x2="429.10" y2="844.20" stroke="#111" stroke-width="0.7"/>
<text x="423.20" y="846.90" font-size="6" font-weight="bold" text-anchor="end" fill="#111">0.0</text>
<line x1="427.50" y1="782.45" x2="429.10" y2="782.45" stroke="#111" stroke-width="0.7"/>
<text x="423.20" y="785.15" font-size="6" font-weight="bold" text-anchor="end" fill="#111">2.5</text>
<line x1="427.50" y1="720.70" x2="429.10" y2="720.70" stroke="#111" stroke-width="0.7"/>
<text x="423.20" y="723.40" font-size="6" font-weight="bold" text-anchor="end" fill="#111">5.0</text>
<line x1="427.50" y1="658.95" x2="429.10" y2="658.95" stroke="#111" stroke-width="0.7"/>
<text x="423.20" y="661.65" font-size="6" font-weight="bold" text-anchor="end" fill="#111">7.5</text>
<line x1="486.60" y1="855.40" x2="486.60" y2="857.00" stroke="#111" stroke-width="0.7"/>
<text x="486.60" y="862.60" font-size="6" font-weight="bold" text-anchor="middle" fill="#111">-4</text>
<line x1="549.00" y1="855.40" x2="549.00" y2="857.00" stroke="#111" stroke-width="0.7"/>
<text x="549.00" y="862.60" font-size="6" font-weight="bold" text-anchor="middle" fill="#111">0</text>
<line x1="611.40" y1="855.40" x2="611.40" y2="857.00" stroke="#111" stroke-width="0.7"/>
<text x="611.40" y="862.60" font-size="6" font-weight="bold" text-anchor="middle" fill="#111">4</text>
<text x="553.00" y="873.90" font-size="7.35" font-weight="bold" text-anchor="middle" fill="#111">Log2(Fold Change)</text>
<text x="410.70" y="754.20" font-size="7.1" font-weight="bold" text-anchor="middle" fill="#111" transform="rotate(-90 410.70 754.20)">-log10(<tspan font-style="italic">P</tspan> Value)</text>
<circle cx="566.4" cy="580.00" r="2.15" fill="#ee1111"/>
<text x="572.70" y="582.60" font-size="7.2" font-weight="bold" text-anchor="start" fill="#111">Up_regulated genes (868)</text>
<circle cx="566.4" cy="589.40" r="2.15" fill="#111111"/>
<text x="572.70" y="592.00" font-size="7.2" font-weight="bold" text-anchor="start" fill="#111">not differential expressed (9999)</text>
<circle cx="566.4" cy="598.30" r="2.15" fill="#22aa55"/>
<text x="572.70" y="600.90" font-size="7.2" font-weight="bold" text-anchor="start" fill="#111">Down_regulated genes (2006)</text>
<text x="1.90" y="25.20" font-size="33.3" font-weight="normal" text-anchor="start" fill="#000">A</text>
<text x="352.30" y="28.40" font-size="33.3" font-weight="normal" text-anchor="start" fill="#000">B</text>
<text x="1.10" y="340.00" font-size="33.3" font-weight="normal" text-anchor="start" fill="#000">C</text>
<text x="386.60" y="340.10" font-size="34.0" font-weight="normal" text-anchor="start" fill="#000">D</text>
<text x="410.50" y="606.20" font-size="33.3" font-weight="normal" text-anchor="start" fill="#000">E</text>
</svg>
</body></html>
